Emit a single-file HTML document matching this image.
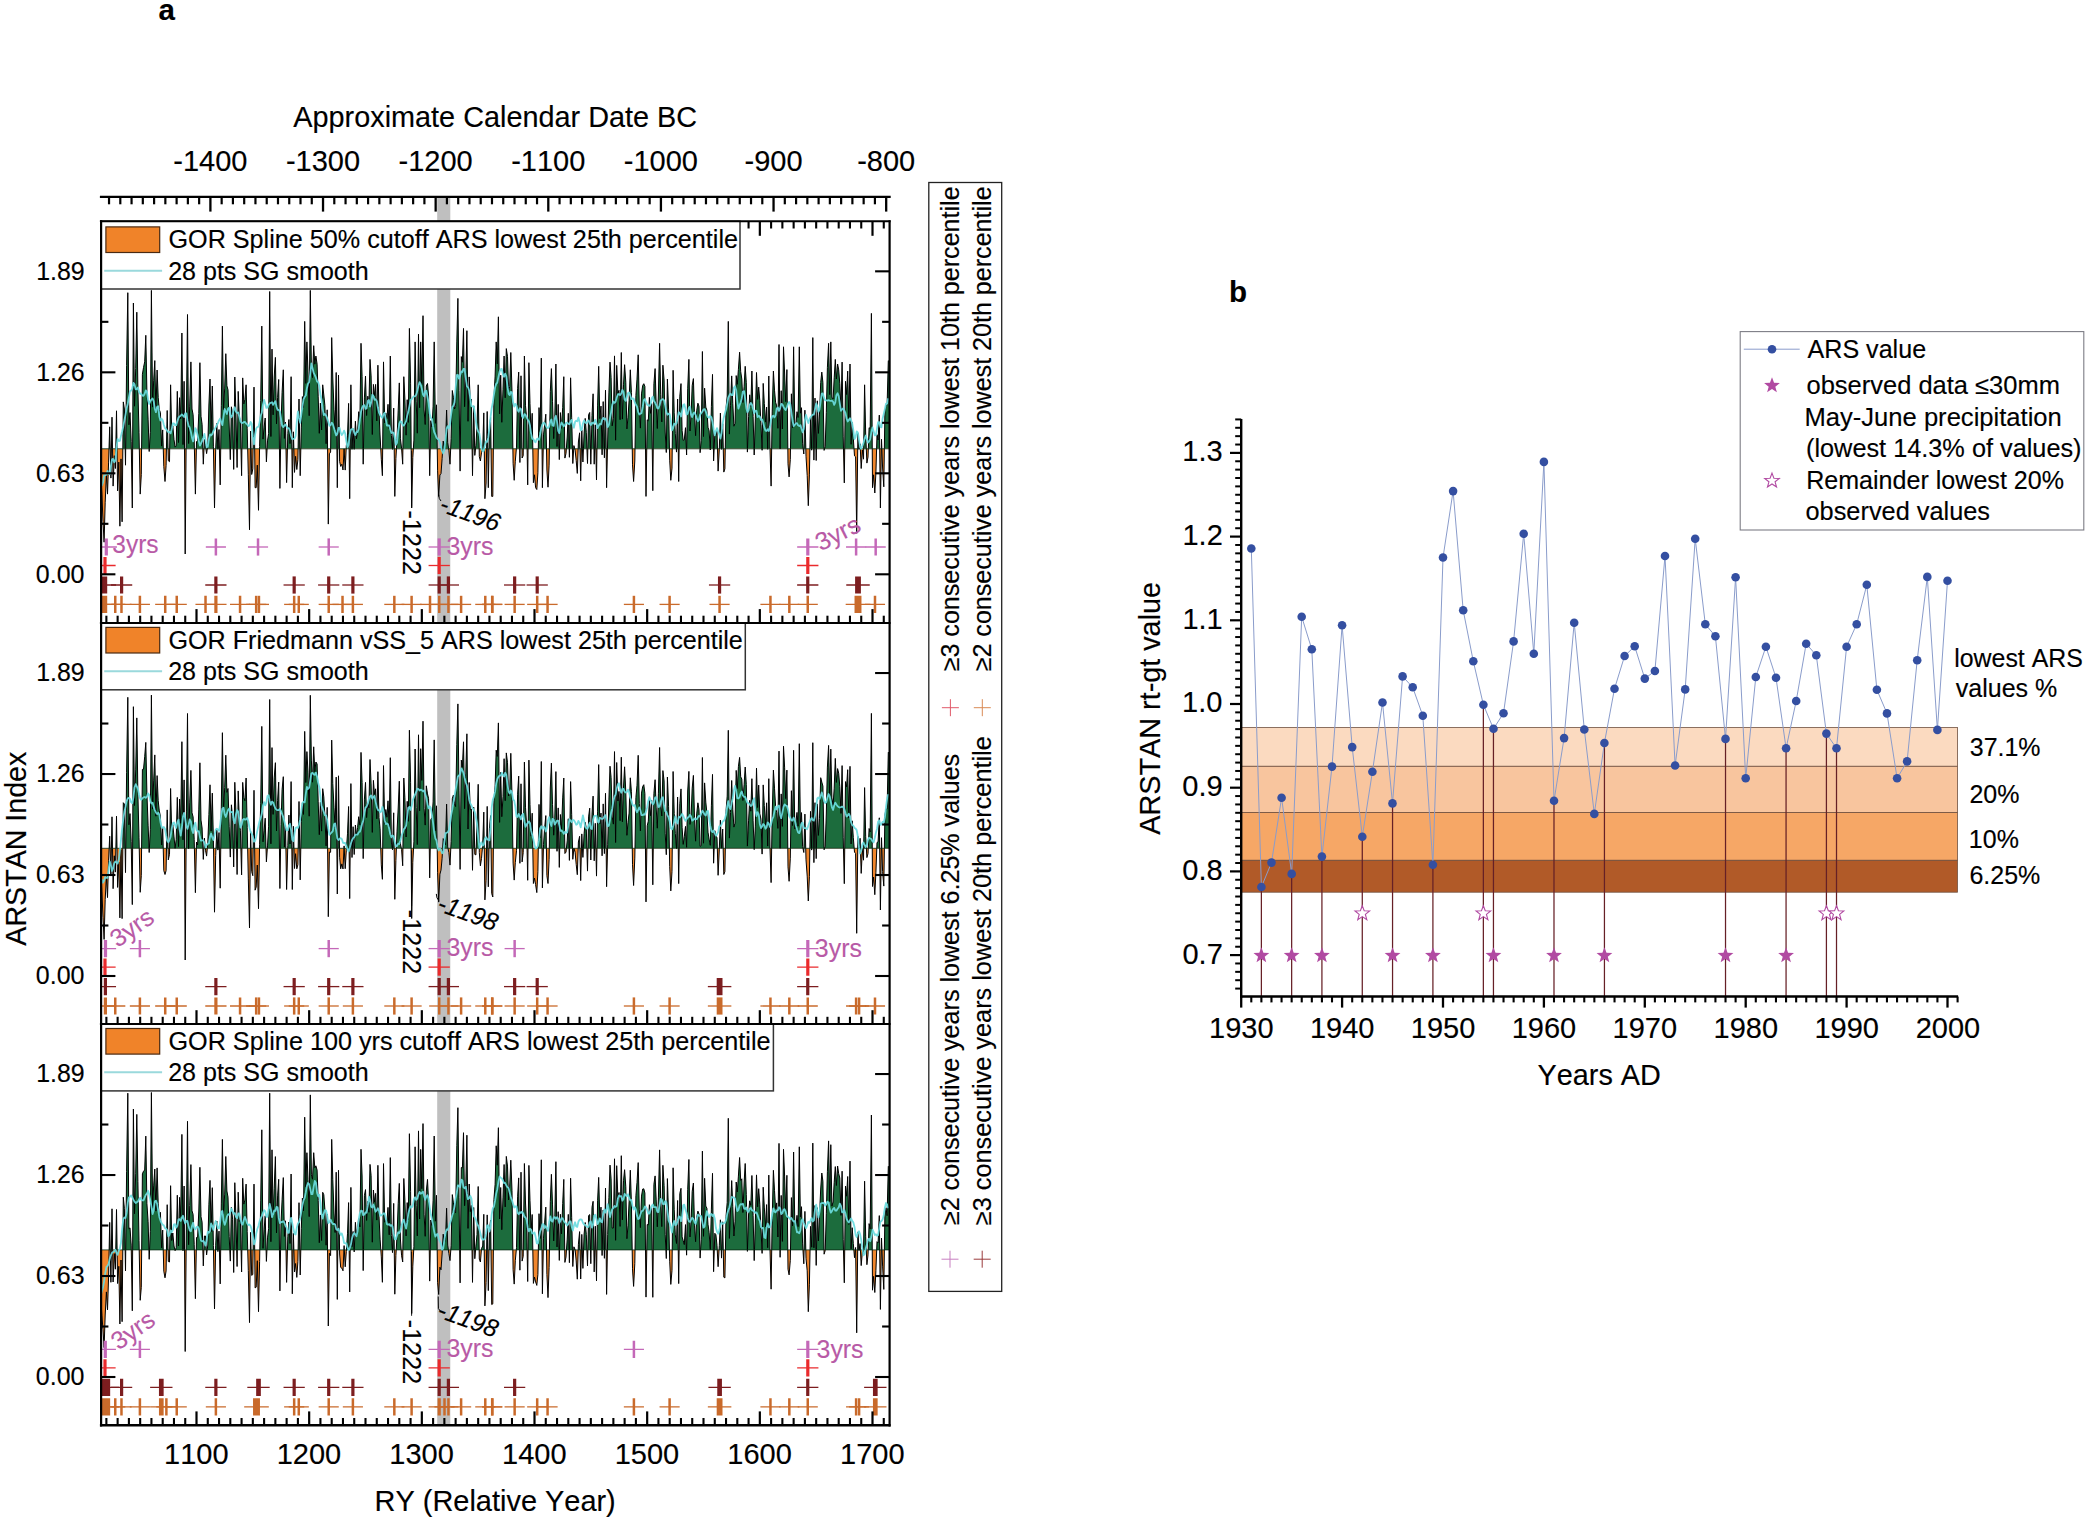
<!DOCTYPE html>
<html lang="en"><head><meta charset="utf-8"><title>ARSTAN index figure</title>
<style>html,body{margin:0;padding:0;background:#fff}svg{display:block}text{white-space:pre;font-kerning:none}</style>
</head><body>
<svg width="2086" height="1520" viewBox="0 0 2086 1520" font-family='"Liberation Sans", Arial, sans-serif'>
<rect x="0" y="0" width="2086" height="1520" fill="#fff"/>
<rect x="437.20" y="197.50" width="13.10" height="1227.60" fill="#bfbfbf"/>
<defs>
<clipPath id="cp0"><rect x="100.9" y="221.2" width="788.7" height="401.7"/></clipPath>
<clipPath id="up0"><rect x="100.9" y="221.2" width="788.7" height="227.60000000000002"/></clipPath>
<clipPath id="dn0"><rect x="100.9" y="448.8" width="788.7" height="174.09999999999997"/></clipPath>
<clipPath id="cp1"><rect x="100.9" y="622.9" width="788.7" height="401.1"/></clipPath>
<clipPath id="up1"><rect x="100.9" y="622.9" width="788.7" height="225.39999999999998"/></clipPath>
<clipPath id="dn1"><rect x="100.9" y="848.3" width="788.7" height="175.70000000000005"/></clipPath>
<clipPath id="cp2"><rect x="100.9" y="1024.0" width="788.7" height="401.20000000000005"/></clipPath>
<clipPath id="up2"><rect x="100.9" y="1024.0" width="788.7" height="225.9000000000001"/></clipPath>
<clipPath id="dn2"><rect x="100.9" y="1249.9" width="788.7" height="175.29999999999995"/></clipPath>
</defs>
<polygon points="100.9,448.8 100.9,474.9 100.7,474.9 101.9,494.1 103.0,521.4 104.1,542.2 105.2,502.2 106.4,474.9 107.5,494.1 108.6,462.1 109.7,426.8 110.9,478.1 112.0,417.2 113.1,486.1 114.3,455.7 115.4,468.5 116.5,410.8 117.6,490.9 118.8,462.1 119.9,526.2 121.0,458.9 122.1,521.8 123.3,401.9 124.4,409.0 125.5,465.2 126.6,365.5 127.8,292.7 128.9,424.8 130.0,412.6 131.2,441.3 132.3,508.0 133.4,303.0 134.5,406.2 135.7,368.6 136.8,312.2 137.9,389.3 139.0,432.6 140.2,494.1 141.3,474.7 142.4,374.3 143.5,367.6 144.7,361.8 145.8,335.3 146.9,391.4 148.1,419.2 149.2,451.5 150.3,432.4 151.4,290.4 152.6,407.1 153.7,380.2 154.8,360.6 155.9,412.1 157.1,370.0 158.2,397.3 159.3,409.7 160.4,412.5 161.6,446.1 162.7,429.9 163.8,466.4 165.0,481.5 166.1,465.5 167.2,410.5 168.3,460.7 169.5,461.7 170.6,384.8 171.7,431.3 172.8,425.8 174.0,439.7 175.1,447.1 176.2,446.0 177.3,391.3 178.5,442.5 179.6,397.7 180.7,418.8 181.9,333.0 183.0,444.6 184.1,381.3 185.2,554.0 186.4,414.1 187.5,314.5 188.6,443.5 189.7,406.1 190.9,361.9 192.0,409.0 193.1,414.6 194.2,440.1 195.4,494.1 196.5,441.8 197.6,440.4 198.8,413.4 199.9,362.7 201.0,416.3 202.1,424.3 203.3,464.2 204.4,439.5 205.5,445.7 206.6,453.6 207.8,445.3 208.9,405.0 210.0,379.0 211.1,432.6 212.3,386.0 213.4,446.2 214.5,508.0 215.7,449.3 216.8,423.4 217.9,449.3 219.0,429.5 220.2,484.9 221.3,405.4 222.4,326.1 223.5,409.9 224.7,388.1 225.8,353.7 226.9,385.8 228.0,389.9 229.2,426.0 230.3,459.6 231.4,406.8 232.6,414.3 233.7,469.4 234.8,377.0 235.9,411.2 237.1,467.5 238.2,391.4 239.3,416.3 240.4,422.0 241.6,475.7 242.7,377.9 243.8,403.9 244.9,399.6 246.1,384.8 247.2,428.8 248.3,474.2 249.5,529.8 250.6,431.1 251.7,474.5 252.8,468.9 254.0,387.1 255.1,487.7 256.2,487.7 257.3,465.1 258.5,510.3 259.6,446.3 260.7,400.6 261.8,326.1 263.0,439.1 264.1,427.2 265.2,418.0 266.4,461.9 267.5,440.9 268.6,433.6 269.7,291.5 270.9,436.5 272.0,349.1 273.1,414.8 274.2,377.0 275.4,357.4 276.5,423.9 277.6,397.5 278.7,379.5 279.9,488.4 281.0,423.3 282.1,392.3 283.3,369.8 284.4,438.4 285.5,422.1 286.6,482.6 287.8,433.7 288.9,419.5 290.0,443.6 291.1,376.7 292.3,487.7 293.4,431.8 294.5,472.4 295.6,456.3 296.8,469.5 297.9,459.7 299.0,399.0 300.2,475.7 301.3,427.9 302.4,396.6 303.5,407.4 304.7,321.4 305.8,383.4 306.9,341.9 308.0,371.9 309.2,415.7 310.3,290.4 311.4,368.1 312.5,377.6 313.7,345.7 314.8,364.2 315.9,356.0 317.1,364.2 318.2,396.8 319.3,433.3 320.4,403.1 321.6,430.0 322.7,384.8 323.8,395.0 324.9,405.5 326.1,443.7 327.2,409.8 328.3,524.1 329.4,453.8 330.6,452.0 331.7,337.6 332.8,378.0 334.0,409.8 335.1,430.1 336.2,372.5 337.3,487.7 338.5,375.1 339.6,461.4 340.7,466.4 341.8,464.2 343.0,470.0 344.1,448.8 345.2,470.1 346.3,445.8 347.5,435.9 348.6,403.4 349.7,498.7 350.9,384.8 352.0,449.3 353.1,428.7 354.2,449.3 355.4,421.2 356.5,438.8 357.6,430.8 358.7,411.7 359.9,419.4 361.0,343.3 362.1,376.7 363.2,464.2 364.4,397.9 365.5,376.0 366.6,415.5 367.8,396.2 368.9,405.6 370.0,359.4 371.1,375.9 372.3,434.5 373.4,384.4 374.5,395.8 375.6,384.4 376.8,420.9 377.9,365.2 379.0,411.6 380.1,436.0 381.3,459.2 382.4,475.7 383.5,361.9 384.7,422.9 385.8,413.0 386.9,418.7 388.0,404.3 389.2,428.6 390.3,356.0 391.4,435.4 392.5,449.3 393.7,408.1 394.8,496.4 395.9,458.6 397.0,438.8 398.2,410.2 399.3,382.9 400.4,438.3 401.6,448.5 402.7,464.2 403.8,376.7 404.9,399.0 406.1,435.2 407.2,399.7 408.3,422.4 409.4,328.4 410.6,383.2 411.7,508.0 412.8,457.6 413.9,440.1 415.1,341.9 416.2,401.2 417.3,433.2 418.5,334.1 419.6,407.7 420.7,341.9 421.8,384.8 423.0,315.7 424.1,410.0 425.2,424.5 426.3,386.0 427.5,383.5 428.6,396.0 429.7,475.7 430.8,420.7 432.0,427.0 433.1,406.1 434.2,341.9 435.4,423.3 436.5,404.8 437.6,470.8 438.7,496.4 439.9,475.0 441.0,473.6 442.1,458.7 443.2,441.1 444.4,446.1 445.5,442.0 446.6,410.0 447.7,442.4 448.9,450.8 450.0,464.2 451.1,438.4 452.3,390.5 453.4,397.3 454.5,409.0 455.6,406.7 456.8,341.9 457.9,298.4 459.0,390.5 460.1,471.1 461.3,356.6 462.4,362.2 463.5,328.4 464.6,406.7 465.8,376.2 466.9,330.7 468.0,421.3 469.2,376.9 470.3,401.4 471.4,399.0 472.5,475.7 473.7,405.9 474.8,455.4 475.9,445.2 477.0,426.7 478.2,384.8 479.3,456.6 480.4,461.0 481.5,452.6 482.7,448.9 483.8,412.9 484.9,498.7 486.1,483.0 487.2,411.5 488.3,487.7 489.4,429.4 490.6,417.6 491.7,496.4 492.8,496.4 493.9,398.9 495.1,376.1 496.2,341.9 497.3,363.9 498.4,316.8 499.6,413.9 500.7,375.2 501.8,422.3 503.0,389.2 504.1,356.0 505.2,397.8 506.3,348.6 507.5,356.4 508.6,390.6 509.7,386.9 510.8,352.5 512.0,391.6 513.1,463.3 514.2,480.3 515.3,461.2 516.5,447.1 517.6,388.7 518.7,372.1 519.9,462.5 521.0,375.8 522.1,458.0 523.2,455.7 524.4,356.0 525.5,405.8 526.6,417.6 527.7,484.9 528.9,362.7 530.0,403.7 531.1,435.4 532.2,413.3 533.4,482.7 534.5,474.8 535.6,487.7 536.8,489.5 537.9,472.8 539.0,407.6 540.1,431.8 541.3,358.1 542.4,487.7 543.5,434.9 544.6,425.1 545.8,414.2 546.9,470.0 548.0,487.2 549.1,465.2 550.3,391.6 551.4,368.6 552.5,401.3 553.7,438.6 554.8,416.8 555.9,364.0 557.0,446.5 558.2,404.4 559.3,459.6 560.4,412.6 561.5,428.3 562.7,407.4 563.8,376.7 564.9,458.1 566.0,453.4 567.2,437.0 568.3,413.3 569.4,457.3 570.6,377.8 571.7,417.5 572.8,463.5 573.9,445.6 575.1,450.2 576.2,460.5 577.3,473.4 578.4,442.0 579.6,432.8 580.7,480.8 581.8,430.0 582.9,462.0 584.1,433.1 585.2,418.4 586.3,432.7 587.5,463.5 588.6,414.7 589.7,412.5 590.8,464.2 592.0,415.6 593.1,393.8 594.2,464.2 595.3,424.8 596.5,480.0 597.6,405.9 598.7,366.3 599.8,418.6 601.0,406.1 602.1,454.8 603.2,401.6 604.4,457.8 605.5,390.2 606.6,487.7 607.7,439.0 608.9,392.9 610.0,362.1 611.1,377.4 612.2,425.9 613.4,418.3 614.5,355.9 615.6,440.2 616.7,365.4 617.9,393.0 619.0,390.3 620.1,419.7 621.3,352.5 622.4,419.1 623.5,384.8 624.6,364.7 625.8,382.2 626.9,428.9 628.0,417.2 629.1,400.2 630.3,369.8 631.4,392.5 632.5,464.8 633.6,481.5 634.8,461.0 635.9,395.5 637.0,379.1 638.2,354.8 639.3,406.9 640.4,428.1 641.5,393.9 642.7,385.4 643.8,383.7 644.9,386.4 646.0,496.4 647.2,419.8 648.3,420.9 649.4,397.4 650.5,413.3 651.7,403.6 652.8,490.7 653.9,383.7 655.1,368.6 656.2,404.1 657.3,428.5 658.4,394.0 659.6,343.3 660.7,394.3 661.8,421.9 662.9,365.2 664.1,380.1 665.2,432.0 666.3,452.5 667.4,379.0 668.6,409.8 669.7,460.2 670.8,480.3 672.0,468.1 673.1,370.3 674.2,412.8 675.3,433.7 676.5,452.1 677.6,399.0 678.7,481.5 679.8,396.2 681.0,383.6 682.1,430.6 683.2,440.4 684.3,439.8 685.5,427.7 686.6,455.0 687.7,388.8 688.9,359.4 690.0,431.0 691.1,414.5 692.2,385.5 693.4,378.6 694.5,414.8 695.6,435.7 696.7,410.7 697.9,403.2 699.0,406.3 700.1,452.7 701.2,440.7 702.4,351.5 703.5,436.5 704.6,388.2 705.8,407.1 706.9,410.2 708.0,427.3 709.1,430.7 710.3,450.0 711.4,406.4 712.5,374.4 713.6,460.9 714.8,434.2 715.9,435.2 717.0,431.2 718.1,471.1 719.3,449.3 720.4,413.1 721.5,449.3 722.7,423.7 723.8,472.1 724.9,468.8 726.0,408.2 727.2,396.1 728.3,321.4 729.4,434.1 730.5,405.2 731.7,375.9 732.8,403.4 733.9,426.2 735.0,423.4 736.2,375.6 737.3,384.3 738.4,369.4 739.6,352.2 740.7,371.6 741.8,379.0 742.9,402.5 744.1,386.7 745.2,366.3 746.3,382.7 747.4,452.1 748.6,416.6 749.7,394.8 750.8,406.8 751.9,371.0 753.1,416.5 754.2,455.0 755.3,418.9 756.5,372.5 757.6,399.4 758.7,387.1 759.8,400.8 761.0,424.7 762.1,450.3 763.2,383.4 764.3,403.4 765.5,422.1 766.6,407.1 767.7,449.3 768.8,376.0 770.0,449.3 771.1,486.1 772.2,411.9 773.4,371.0 774.5,390.2 775.6,402.3 776.7,405.9 777.9,428.3 779.0,344.5 780.1,449.0 781.2,390.7 782.4,429.0 783.5,346.8 784.6,373.0 785.7,401.6 786.9,369.6 788.0,463.8 789.1,476.9 790.3,459.5 791.4,393.8 792.5,427.6 793.6,346.8 794.8,425.2 795.9,424.9 797.0,411.7 798.1,417.5 799.3,346.8 800.4,413.2 801.5,407.7 802.6,443.8 803.8,454.0 804.9,410.2 806.0,456.3 807.2,475.5 808.3,505.7 809.4,474.9 810.5,418.1 811.7,450.2 812.8,337.6 813.9,460.1 815.0,398.1 816.2,460.5 817.3,400.8 818.4,433.4 819.5,414.1 820.7,382.5 821.8,372.1 822.9,382.5 824.1,450.4 825.2,446.4 826.3,412.4 827.4,367.4 828.6,343.3 829.7,394.6 830.8,341.9 831.9,397.2 833.1,399.0 834.2,377.8 835.3,359.4 836.4,379.0 837.6,364.0 838.7,369.9 839.8,383.8 841.0,410.3 842.1,362.1 843.2,436.9 844.3,482.9 845.5,381.3 846.6,394.5 847.7,371.1 848.8,418.4 850.0,364.0 851.1,444.3 852.2,422.5 853.3,438.1 854.5,455.9 855.6,456.8 856.7,533.3 857.9,433.2 859.0,449.3 860.1,443.8 861.2,468.5 862.4,450.0 863.5,459.2 864.6,384.8 865.7,434.4 866.9,463.1 868.0,457.0 869.1,427.7 870.2,428.6 871.4,313.4 872.5,487.7 873.6,474.8 874.8,493.0 875.9,473.2 877.0,434.7 878.1,440.0 879.3,415.1 880.4,508.0 881.5,439.3 882.6,468.0 883.8,486.8 884.9,411.8 886.0,405.7 887.1,405.1 888.3,360.6 889.6,360.6 889.6,448.8" fill="#1c6c3d" clip-path="url(#up0)"/>
<polygon points="100.9,448.8 100.9,474.9 100.7,474.9 101.9,494.1 103.0,521.4 104.1,542.2 105.2,502.2 106.4,474.9 107.5,494.1 108.6,462.1 109.7,426.8 110.9,478.1 112.0,417.2 113.1,486.1 114.3,455.7 115.4,468.5 116.5,410.8 117.6,490.9 118.8,462.1 119.9,526.2 121.0,458.9 122.1,521.8 123.3,401.9 124.4,409.0 125.5,465.2 126.6,365.5 127.8,292.7 128.9,424.8 130.0,412.6 131.2,441.3 132.3,508.0 133.4,303.0 134.5,406.2 135.7,368.6 136.8,312.2 137.9,389.3 139.0,432.6 140.2,494.1 141.3,474.7 142.4,374.3 143.5,367.6 144.7,361.8 145.8,335.3 146.9,391.4 148.1,419.2 149.2,451.5 150.3,432.4 151.4,290.4 152.6,407.1 153.7,380.2 154.8,360.6 155.9,412.1 157.1,370.0 158.2,397.3 159.3,409.7 160.4,412.5 161.6,446.1 162.7,429.9 163.8,466.4 165.0,481.5 166.1,465.5 167.2,410.5 168.3,460.7 169.5,461.7 170.6,384.8 171.7,431.3 172.8,425.8 174.0,439.7 175.1,447.1 176.2,446.0 177.3,391.3 178.5,442.5 179.6,397.7 180.7,418.8 181.9,333.0 183.0,444.6 184.1,381.3 185.2,554.0 186.4,414.1 187.5,314.5 188.6,443.5 189.7,406.1 190.9,361.9 192.0,409.0 193.1,414.6 194.2,440.1 195.4,494.1 196.5,441.8 197.6,440.4 198.8,413.4 199.9,362.7 201.0,416.3 202.1,424.3 203.3,464.2 204.4,439.5 205.5,445.7 206.6,453.6 207.8,445.3 208.9,405.0 210.0,379.0 211.1,432.6 212.3,386.0 213.4,446.2 214.5,508.0 215.7,449.3 216.8,423.4 217.9,449.3 219.0,429.5 220.2,484.9 221.3,405.4 222.4,326.1 223.5,409.9 224.7,388.1 225.8,353.7 226.9,385.8 228.0,389.9 229.2,426.0 230.3,459.6 231.4,406.8 232.6,414.3 233.7,469.4 234.8,377.0 235.9,411.2 237.1,467.5 238.2,391.4 239.3,416.3 240.4,422.0 241.6,475.7 242.7,377.9 243.8,403.9 244.9,399.6 246.1,384.8 247.2,428.8 248.3,474.2 249.5,529.8 250.6,431.1 251.7,474.5 252.8,468.9 254.0,387.1 255.1,487.7 256.2,487.7 257.3,465.1 258.5,510.3 259.6,446.3 260.7,400.6 261.8,326.1 263.0,439.1 264.1,427.2 265.2,418.0 266.4,461.9 267.5,440.9 268.6,433.6 269.7,291.5 270.9,436.5 272.0,349.1 273.1,414.8 274.2,377.0 275.4,357.4 276.5,423.9 277.6,397.5 278.7,379.5 279.9,488.4 281.0,423.3 282.1,392.3 283.3,369.8 284.4,438.4 285.5,422.1 286.6,482.6 287.8,433.7 288.9,419.5 290.0,443.6 291.1,376.7 292.3,487.7 293.4,431.8 294.5,472.4 295.6,456.3 296.8,469.5 297.9,459.7 299.0,399.0 300.2,475.7 301.3,427.9 302.4,396.6 303.5,407.4 304.7,321.4 305.8,383.4 306.9,341.9 308.0,371.9 309.2,415.7 310.3,290.4 311.4,368.1 312.5,377.6 313.7,345.7 314.8,364.2 315.9,356.0 317.1,364.2 318.2,396.8 319.3,433.3 320.4,403.1 321.6,430.0 322.7,384.8 323.8,395.0 324.9,405.5 326.1,443.7 327.2,409.8 328.3,524.1 329.4,453.8 330.6,452.0 331.7,337.6 332.8,378.0 334.0,409.8 335.1,430.1 336.2,372.5 337.3,487.7 338.5,375.1 339.6,461.4 340.7,466.4 341.8,464.2 343.0,470.0 344.1,448.8 345.2,470.1 346.3,445.8 347.5,435.9 348.6,403.4 349.7,498.7 350.9,384.8 352.0,449.3 353.1,428.7 354.2,449.3 355.4,421.2 356.5,438.8 357.6,430.8 358.7,411.7 359.9,419.4 361.0,343.3 362.1,376.7 363.2,464.2 364.4,397.9 365.5,376.0 366.6,415.5 367.8,396.2 368.9,405.6 370.0,359.4 371.1,375.9 372.3,434.5 373.4,384.4 374.5,395.8 375.6,384.4 376.8,420.9 377.9,365.2 379.0,411.6 380.1,436.0 381.3,459.2 382.4,475.7 383.5,361.9 384.7,422.9 385.8,413.0 386.9,418.7 388.0,404.3 389.2,428.6 390.3,356.0 391.4,435.4 392.5,449.3 393.7,408.1 394.8,496.4 395.9,458.6 397.0,438.8 398.2,410.2 399.3,382.9 400.4,438.3 401.6,448.5 402.7,464.2 403.8,376.7 404.9,399.0 406.1,435.2 407.2,399.7 408.3,422.4 409.4,328.4 410.6,383.2 411.7,508.0 412.8,457.6 413.9,440.1 415.1,341.9 416.2,401.2 417.3,433.2 418.5,334.1 419.6,407.7 420.7,341.9 421.8,384.8 423.0,315.7 424.1,410.0 425.2,424.5 426.3,386.0 427.5,383.5 428.6,396.0 429.7,475.7 430.8,420.7 432.0,427.0 433.1,406.1 434.2,341.9 435.4,423.3 436.5,404.8 437.6,470.8 438.7,496.4 439.9,475.0 441.0,473.6 442.1,458.7 443.2,441.1 444.4,446.1 445.5,442.0 446.6,410.0 447.7,442.4 448.9,450.8 450.0,464.2 451.1,438.4 452.3,390.5 453.4,397.3 454.5,409.0 455.6,406.7 456.8,341.9 457.9,298.4 459.0,390.5 460.1,471.1 461.3,356.6 462.4,362.2 463.5,328.4 464.6,406.7 465.8,376.2 466.9,330.7 468.0,421.3 469.2,376.9 470.3,401.4 471.4,399.0 472.5,475.7 473.7,405.9 474.8,455.4 475.9,445.2 477.0,426.7 478.2,384.8 479.3,456.6 480.4,461.0 481.5,452.6 482.7,448.9 483.8,412.9 484.9,498.7 486.1,483.0 487.2,411.5 488.3,487.7 489.4,429.4 490.6,417.6 491.7,496.4 492.8,496.4 493.9,398.9 495.1,376.1 496.2,341.9 497.3,363.9 498.4,316.8 499.6,413.9 500.7,375.2 501.8,422.3 503.0,389.2 504.1,356.0 505.2,397.8 506.3,348.6 507.5,356.4 508.6,390.6 509.7,386.9 510.8,352.5 512.0,391.6 513.1,463.3 514.2,480.3 515.3,461.2 516.5,447.1 517.6,388.7 518.7,372.1 519.9,462.5 521.0,375.8 522.1,458.0 523.2,455.7 524.4,356.0 525.5,405.8 526.6,417.6 527.7,484.9 528.9,362.7 530.0,403.7 531.1,435.4 532.2,413.3 533.4,482.7 534.5,474.8 535.6,487.7 536.8,489.5 537.9,472.8 539.0,407.6 540.1,431.8 541.3,358.1 542.4,487.7 543.5,434.9 544.6,425.1 545.8,414.2 546.9,470.0 548.0,487.2 549.1,465.2 550.3,391.6 551.4,368.6 552.5,401.3 553.7,438.6 554.8,416.8 555.9,364.0 557.0,446.5 558.2,404.4 559.3,459.6 560.4,412.6 561.5,428.3 562.7,407.4 563.8,376.7 564.9,458.1 566.0,453.4 567.2,437.0 568.3,413.3 569.4,457.3 570.6,377.8 571.7,417.5 572.8,463.5 573.9,445.6 575.1,450.2 576.2,460.5 577.3,473.4 578.4,442.0 579.6,432.8 580.7,480.8 581.8,430.0 582.9,462.0 584.1,433.1 585.2,418.4 586.3,432.7 587.5,463.5 588.6,414.7 589.7,412.5 590.8,464.2 592.0,415.6 593.1,393.8 594.2,464.2 595.3,424.8 596.5,480.0 597.6,405.9 598.7,366.3 599.8,418.6 601.0,406.1 602.1,454.8 603.2,401.6 604.4,457.8 605.5,390.2 606.6,487.7 607.7,439.0 608.9,392.9 610.0,362.1 611.1,377.4 612.2,425.9 613.4,418.3 614.5,355.9 615.6,440.2 616.7,365.4 617.9,393.0 619.0,390.3 620.1,419.7 621.3,352.5 622.4,419.1 623.5,384.8 624.6,364.7 625.8,382.2 626.9,428.9 628.0,417.2 629.1,400.2 630.3,369.8 631.4,392.5 632.5,464.8 633.6,481.5 634.8,461.0 635.9,395.5 637.0,379.1 638.2,354.8 639.3,406.9 640.4,428.1 641.5,393.9 642.7,385.4 643.8,383.7 644.9,386.4 646.0,496.4 647.2,419.8 648.3,420.9 649.4,397.4 650.5,413.3 651.7,403.6 652.8,490.7 653.9,383.7 655.1,368.6 656.2,404.1 657.3,428.5 658.4,394.0 659.6,343.3 660.7,394.3 661.8,421.9 662.9,365.2 664.1,380.1 665.2,432.0 666.3,452.5 667.4,379.0 668.6,409.8 669.7,460.2 670.8,480.3 672.0,468.1 673.1,370.3 674.2,412.8 675.3,433.7 676.5,452.1 677.6,399.0 678.7,481.5 679.8,396.2 681.0,383.6 682.1,430.6 683.2,440.4 684.3,439.8 685.5,427.7 686.6,455.0 687.7,388.8 688.9,359.4 690.0,431.0 691.1,414.5 692.2,385.5 693.4,378.6 694.5,414.8 695.6,435.7 696.7,410.7 697.9,403.2 699.0,406.3 700.1,452.7 701.2,440.7 702.4,351.5 703.5,436.5 704.6,388.2 705.8,407.1 706.9,410.2 708.0,427.3 709.1,430.7 710.3,450.0 711.4,406.4 712.5,374.4 713.6,460.9 714.8,434.2 715.9,435.2 717.0,431.2 718.1,471.1 719.3,449.3 720.4,413.1 721.5,449.3 722.7,423.7 723.8,472.1 724.9,468.8 726.0,408.2 727.2,396.1 728.3,321.4 729.4,434.1 730.5,405.2 731.7,375.9 732.8,403.4 733.9,426.2 735.0,423.4 736.2,375.6 737.3,384.3 738.4,369.4 739.6,352.2 740.7,371.6 741.8,379.0 742.9,402.5 744.1,386.7 745.2,366.3 746.3,382.7 747.4,452.1 748.6,416.6 749.7,394.8 750.8,406.8 751.9,371.0 753.1,416.5 754.2,455.0 755.3,418.9 756.5,372.5 757.6,399.4 758.7,387.1 759.8,400.8 761.0,424.7 762.1,450.3 763.2,383.4 764.3,403.4 765.5,422.1 766.6,407.1 767.7,449.3 768.8,376.0 770.0,449.3 771.1,486.1 772.2,411.9 773.4,371.0 774.5,390.2 775.6,402.3 776.7,405.9 777.9,428.3 779.0,344.5 780.1,449.0 781.2,390.7 782.4,429.0 783.5,346.8 784.6,373.0 785.7,401.6 786.9,369.6 788.0,463.8 789.1,476.9 790.3,459.5 791.4,393.8 792.5,427.6 793.6,346.8 794.8,425.2 795.9,424.9 797.0,411.7 798.1,417.5 799.3,346.8 800.4,413.2 801.5,407.7 802.6,443.8 803.8,454.0 804.9,410.2 806.0,456.3 807.2,475.5 808.3,505.7 809.4,474.9 810.5,418.1 811.7,450.2 812.8,337.6 813.9,460.1 815.0,398.1 816.2,460.5 817.3,400.8 818.4,433.4 819.5,414.1 820.7,382.5 821.8,372.1 822.9,382.5 824.1,450.4 825.2,446.4 826.3,412.4 827.4,367.4 828.6,343.3 829.7,394.6 830.8,341.9 831.9,397.2 833.1,399.0 834.2,377.8 835.3,359.4 836.4,379.0 837.6,364.0 838.7,369.9 839.8,383.8 841.0,410.3 842.1,362.1 843.2,436.9 844.3,482.9 845.5,381.3 846.6,394.5 847.7,371.1 848.8,418.4 850.0,364.0 851.1,444.3 852.2,422.5 853.3,438.1 854.5,455.9 855.6,456.8 856.7,533.3 857.9,433.2 859.0,449.3 860.1,443.8 861.2,468.5 862.4,450.0 863.5,459.2 864.6,384.8 865.7,434.4 866.9,463.1 868.0,457.0 869.1,427.7 870.2,428.6 871.4,313.4 872.5,487.7 873.6,474.8 874.8,493.0 875.9,473.2 877.0,434.7 878.1,440.0 879.3,415.1 880.4,508.0 881.5,439.3 882.6,468.0 883.8,486.8 884.9,411.8 886.0,405.7 887.1,405.1 888.3,360.6 889.6,360.6 889.6,448.8" fill="#f0862d" clip-path="url(#dn0)"/>
<g clip-path="url(#cp0)">
<polyline points="100.9,474.9 100.7,474.9 101.9,494.1 103.0,521.4 104.1,542.2 105.2,502.2 106.4,474.9 107.5,494.1 108.6,462.1 109.7,426.8 110.9,478.1 112.0,417.2 113.1,486.1 114.3,455.7 115.4,468.5 116.5,410.8 117.6,490.9 118.8,462.1 119.9,526.2 121.0,458.9 122.1,521.8 123.3,401.9 124.4,409.0 125.5,465.2 126.6,365.5 127.8,292.7 128.9,424.8 130.0,412.6 131.2,441.3 132.3,508.0 133.4,303.0 134.5,406.2 135.7,368.6 136.8,312.2 137.9,389.3 139.0,432.6 140.2,494.1 141.3,474.7 142.4,374.3 143.5,367.6 144.7,361.8 145.8,335.3 146.9,391.4 148.1,419.2 149.2,451.5 150.3,432.4 151.4,290.4 152.6,407.1 153.7,380.2 154.8,360.6 155.9,412.1 157.1,370.0 158.2,397.3 159.3,409.7 160.4,412.5 161.6,446.1 162.7,429.9 163.8,466.4 165.0,481.5 166.1,465.5 167.2,410.5 168.3,460.7 169.5,461.7 170.6,384.8 171.7,431.3 172.8,425.8 174.0,439.7 175.1,447.1 176.2,446.0 177.3,391.3 178.5,442.5 179.6,397.7 180.7,418.8 181.9,333.0 183.0,444.6 184.1,381.3 185.2,554.0 186.4,414.1 187.5,314.5 188.6,443.5 189.7,406.1 190.9,361.9 192.0,409.0 193.1,414.6 194.2,440.1 195.4,494.1 196.5,441.8 197.6,440.4 198.8,413.4 199.9,362.7 201.0,416.3 202.1,424.3 203.3,464.2 204.4,439.5 205.5,445.7 206.6,453.6 207.8,445.3 208.9,405.0 210.0,379.0 211.1,432.6 212.3,386.0 213.4,446.2 214.5,508.0 215.7,449.3 216.8,423.4 217.9,449.3 219.0,429.5 220.2,484.9 221.3,405.4 222.4,326.1 223.5,409.9 224.7,388.1 225.8,353.7 226.9,385.8 228.0,389.9 229.2,426.0 230.3,459.6 231.4,406.8 232.6,414.3 233.7,469.4 234.8,377.0 235.9,411.2 237.1,467.5 238.2,391.4 239.3,416.3 240.4,422.0 241.6,475.7 242.7,377.9 243.8,403.9 244.9,399.6 246.1,384.8 247.2,428.8 248.3,474.2 249.5,529.8 250.6,431.1 251.7,474.5 252.8,468.9 254.0,387.1 255.1,487.7 256.2,487.7 257.3,465.1 258.5,510.3 259.6,446.3 260.7,400.6 261.8,326.1 263.0,439.1 264.1,427.2 265.2,418.0 266.4,461.9 267.5,440.9 268.6,433.6 269.7,291.5 270.9,436.5 272.0,349.1 273.1,414.8 274.2,377.0 275.4,357.4 276.5,423.9 277.6,397.5 278.7,379.5 279.9,488.4 281.0,423.3 282.1,392.3 283.3,369.8 284.4,438.4 285.5,422.1 286.6,482.6 287.8,433.7 288.9,419.5 290.0,443.6 291.1,376.7 292.3,487.7 293.4,431.8 294.5,472.4 295.6,456.3 296.8,469.5 297.9,459.7 299.0,399.0 300.2,475.7 301.3,427.9 302.4,396.6 303.5,407.4 304.7,321.4 305.8,383.4 306.9,341.9 308.0,371.9 309.2,415.7 310.3,290.4 311.4,368.1 312.5,377.6 313.7,345.7 314.8,364.2 315.9,356.0 317.1,364.2 318.2,396.8 319.3,433.3 320.4,403.1 321.6,430.0 322.7,384.8 323.8,395.0 324.9,405.5 326.1,443.7 327.2,409.8 328.3,524.1 329.4,453.8 330.6,452.0 331.7,337.6 332.8,378.0 334.0,409.8 335.1,430.1 336.2,372.5 337.3,487.7 338.5,375.1 339.6,461.4 340.7,466.4 341.8,464.2 343.0,470.0 344.1,448.8 345.2,470.1 346.3,445.8 347.5,435.9 348.6,403.4 349.7,498.7 350.9,384.8 352.0,449.3 353.1,428.7 354.2,449.3 355.4,421.2 356.5,438.8 357.6,430.8 358.7,411.7 359.9,419.4 361.0,343.3 362.1,376.7 363.2,464.2 364.4,397.9 365.5,376.0 366.6,415.5 367.8,396.2 368.9,405.6 370.0,359.4 371.1,375.9 372.3,434.5 373.4,384.4 374.5,395.8 375.6,384.4 376.8,420.9 377.9,365.2 379.0,411.6 380.1,436.0 381.3,459.2 382.4,475.7 383.5,361.9 384.7,422.9 385.8,413.0 386.9,418.7 388.0,404.3 389.2,428.6 390.3,356.0 391.4,435.4 392.5,449.3 393.7,408.1 394.8,496.4 395.9,458.6 397.0,438.8 398.2,410.2 399.3,382.9 400.4,438.3 401.6,448.5 402.7,464.2 403.8,376.7 404.9,399.0 406.1,435.2 407.2,399.7 408.3,422.4 409.4,328.4 410.6,383.2 411.7,508.0 412.8,457.6 413.9,440.1 415.1,341.9 416.2,401.2 417.3,433.2 418.5,334.1 419.6,407.7 420.7,341.9 421.8,384.8 423.0,315.7 424.1,410.0 425.2,424.5 426.3,386.0 427.5,383.5 428.6,396.0 429.7,475.7 430.8,420.7 432.0,427.0 433.1,406.1 434.2,341.9 435.4,423.3 436.5,404.8 437.6,470.8 438.7,496.4 439.9,475.0 441.0,473.6 442.1,458.7 443.2,441.1 444.4,446.1 445.5,442.0 446.6,410.0 447.7,442.4 448.9,450.8 450.0,464.2 451.1,438.4 452.3,390.5 453.4,397.3 454.5,409.0 455.6,406.7 456.8,341.9 457.9,298.4 459.0,390.5 460.1,471.1 461.3,356.6 462.4,362.2 463.5,328.4 464.6,406.7 465.8,376.2 466.9,330.7 468.0,421.3 469.2,376.9 470.3,401.4 471.4,399.0 472.5,475.7 473.7,405.9 474.8,455.4 475.9,445.2 477.0,426.7 478.2,384.8 479.3,456.6 480.4,461.0 481.5,452.6 482.7,448.9 483.8,412.9 484.9,498.7 486.1,483.0 487.2,411.5 488.3,487.7 489.4,429.4 490.6,417.6 491.7,496.4 492.8,496.4 493.9,398.9 495.1,376.1 496.2,341.9 497.3,363.9 498.4,316.8 499.6,413.9 500.7,375.2 501.8,422.3 503.0,389.2 504.1,356.0 505.2,397.8 506.3,348.6 507.5,356.4 508.6,390.6 509.7,386.9 510.8,352.5 512.0,391.6 513.1,463.3 514.2,480.3 515.3,461.2 516.5,447.1 517.6,388.7 518.7,372.1 519.9,462.5 521.0,375.8 522.1,458.0 523.2,455.7 524.4,356.0 525.5,405.8 526.6,417.6 527.7,484.9 528.9,362.7 530.0,403.7 531.1,435.4 532.2,413.3 533.4,482.7 534.5,474.8 535.6,487.7 536.8,489.5 537.9,472.8 539.0,407.6 540.1,431.8 541.3,358.1 542.4,487.7 543.5,434.9 544.6,425.1 545.8,414.2 546.9,470.0 548.0,487.2 549.1,465.2 550.3,391.6 551.4,368.6 552.5,401.3 553.7,438.6 554.8,416.8 555.9,364.0 557.0,446.5 558.2,404.4 559.3,459.6 560.4,412.6 561.5,428.3 562.7,407.4 563.8,376.7 564.9,458.1 566.0,453.4 567.2,437.0 568.3,413.3 569.4,457.3 570.6,377.8 571.7,417.5 572.8,463.5 573.9,445.6 575.1,450.2 576.2,460.5 577.3,473.4 578.4,442.0 579.6,432.8 580.7,480.8 581.8,430.0 582.9,462.0 584.1,433.1 585.2,418.4 586.3,432.7 587.5,463.5 588.6,414.7 589.7,412.5 590.8,464.2 592.0,415.6 593.1,393.8 594.2,464.2 595.3,424.8 596.5,480.0 597.6,405.9 598.7,366.3 599.8,418.6 601.0,406.1 602.1,454.8 603.2,401.6 604.4,457.8 605.5,390.2 606.6,487.7 607.7,439.0 608.9,392.9 610.0,362.1 611.1,377.4 612.2,425.9 613.4,418.3 614.5,355.9 615.6,440.2 616.7,365.4 617.9,393.0 619.0,390.3 620.1,419.7 621.3,352.5 622.4,419.1 623.5,384.8 624.6,364.7 625.8,382.2 626.9,428.9 628.0,417.2 629.1,400.2 630.3,369.8 631.4,392.5 632.5,464.8 633.6,481.5 634.8,461.0 635.9,395.5 637.0,379.1 638.2,354.8 639.3,406.9 640.4,428.1 641.5,393.9 642.7,385.4 643.8,383.7 644.9,386.4 646.0,496.4 647.2,419.8 648.3,420.9 649.4,397.4 650.5,413.3 651.7,403.6 652.8,490.7 653.9,383.7 655.1,368.6 656.2,404.1 657.3,428.5 658.4,394.0 659.6,343.3 660.7,394.3 661.8,421.9 662.9,365.2 664.1,380.1 665.2,432.0 666.3,452.5 667.4,379.0 668.6,409.8 669.7,460.2 670.8,480.3 672.0,468.1 673.1,370.3 674.2,412.8 675.3,433.7 676.5,452.1 677.6,399.0 678.7,481.5 679.8,396.2 681.0,383.6 682.1,430.6 683.2,440.4 684.3,439.8 685.5,427.7 686.6,455.0 687.7,388.8 688.9,359.4 690.0,431.0 691.1,414.5 692.2,385.5 693.4,378.6 694.5,414.8 695.6,435.7 696.7,410.7 697.9,403.2 699.0,406.3 700.1,452.7 701.2,440.7 702.4,351.5 703.5,436.5 704.6,388.2 705.8,407.1 706.9,410.2 708.0,427.3 709.1,430.7 710.3,450.0 711.4,406.4 712.5,374.4 713.6,460.9 714.8,434.2 715.9,435.2 717.0,431.2 718.1,471.1 719.3,449.3 720.4,413.1 721.5,449.3 722.7,423.7 723.8,472.1 724.9,468.8 726.0,408.2 727.2,396.1 728.3,321.4 729.4,434.1 730.5,405.2 731.7,375.9 732.8,403.4 733.9,426.2 735.0,423.4 736.2,375.6 737.3,384.3 738.4,369.4 739.6,352.2 740.7,371.6 741.8,379.0 742.9,402.5 744.1,386.7 745.2,366.3 746.3,382.7 747.4,452.1 748.6,416.6 749.7,394.8 750.8,406.8 751.9,371.0 753.1,416.5 754.2,455.0 755.3,418.9 756.5,372.5 757.6,399.4 758.7,387.1 759.8,400.8 761.0,424.7 762.1,450.3 763.2,383.4 764.3,403.4 765.5,422.1 766.6,407.1 767.7,449.3 768.8,376.0 770.0,449.3 771.1,486.1 772.2,411.9 773.4,371.0 774.5,390.2 775.6,402.3 776.7,405.9 777.9,428.3 779.0,344.5 780.1,449.0 781.2,390.7 782.4,429.0 783.5,346.8 784.6,373.0 785.7,401.6 786.9,369.6 788.0,463.8 789.1,476.9 790.3,459.5 791.4,393.8 792.5,427.6 793.6,346.8 794.8,425.2 795.9,424.9 797.0,411.7 798.1,417.5 799.3,346.8 800.4,413.2 801.5,407.7 802.6,443.8 803.8,454.0 804.9,410.2 806.0,456.3 807.2,475.5 808.3,505.7 809.4,474.9 810.5,418.1 811.7,450.2 812.8,337.6 813.9,460.1 815.0,398.1 816.2,460.5 817.3,400.8 818.4,433.4 819.5,414.1 820.7,382.5 821.8,372.1 822.9,382.5 824.1,450.4 825.2,446.4 826.3,412.4 827.4,367.4 828.6,343.3 829.7,394.6 830.8,341.9 831.9,397.2 833.1,399.0 834.2,377.8 835.3,359.4 836.4,379.0 837.6,364.0 838.7,369.9 839.8,383.8 841.0,410.3 842.1,362.1 843.2,436.9 844.3,482.9 845.5,381.3 846.6,394.5 847.7,371.1 848.8,418.4 850.0,364.0 851.1,444.3 852.2,422.5 853.3,438.1 854.5,455.9 855.6,456.8 856.7,533.3 857.9,433.2 859.0,449.3 860.1,443.8 861.2,468.5 862.4,450.0 863.5,459.2 864.6,384.8 865.7,434.4 866.9,463.1 868.0,457.0 869.1,427.7 870.2,428.6 871.4,313.4 872.5,487.7 873.6,474.8 874.8,493.0 875.9,473.2 877.0,434.7 878.1,440.0 879.3,415.1 880.4,508.0 881.5,439.3 882.6,468.0 883.8,486.8 884.9,411.8 886.0,405.7 887.1,405.1 888.3,360.6" fill="none" stroke="#000" stroke-width="1.0" stroke-linejoin="bevel"/>
<line x1="100.90" y1="448.80" x2="889.60" y2="448.80" stroke="#0a2a14" stroke-width="0.8"/>
<polyline points="100.7,486.7 101.9,485.4 103.0,482.4 104.1,475.1 105.2,475.3 106.4,474.6 107.5,470.9 108.6,474.2 109.7,474.3 110.9,466.1 112.0,459.4 113.1,458.9 114.3,462.4 115.4,460.3 116.5,447.3 117.6,439.0 118.8,441.1 119.9,440.9 121.0,435.9 122.1,431.5 123.3,426.2 124.4,420.4 125.5,414.6 126.6,408.3 127.8,403.7 128.9,397.4 130.0,391.2 131.2,390.7 132.3,388.3 133.4,382.9 134.5,384.1 135.7,389.4 136.8,389.1 137.9,387.5 139.0,391.7 140.2,393.8 141.3,394.0 142.4,395.6 143.5,395.9 144.7,393.7 145.8,390.4 146.9,391.8 148.1,399.9 149.2,404.0 150.3,401.2 151.4,399.6 152.6,398.5 153.7,401.3 154.8,408.7 155.9,412.2 157.1,406.9 158.2,406.2 159.3,416.5 160.4,420.6 161.6,418.7 162.7,420.3 163.8,424.8 165.0,428.1 166.1,429.1 167.2,430.9 168.3,432.1 169.5,431.9 170.6,433.4 171.7,429.6 172.8,423.4 174.0,423.3 175.1,425.4 176.2,425.2 177.3,421.3 178.5,417.7 179.6,416.4 180.7,415.7 181.9,414.4 183.0,415.6 184.1,417.0 185.2,413.5 186.4,413.3 187.5,421.0 188.6,425.9 189.7,427.4 190.9,432.0 192.0,437.7 193.1,441.4 194.2,435.1 195.4,428.2 196.5,430.7 197.6,435.0 198.8,441.0 199.9,445.6 201.0,443.3 202.1,440.9 203.3,437.6 204.4,433.9 205.5,439.7 206.6,447.1 207.8,446.9 208.9,439.1 210.0,434.6 211.1,435.4 212.3,434.1 213.4,431.1 214.5,429.4 215.7,427.3 216.8,425.0 217.9,423.2 219.0,420.4 220.2,418.5 221.3,422.5 222.4,425.1 223.5,416.8 224.7,409.0 225.8,411.5 226.9,414.0 228.0,408.7 229.2,407.6 230.3,414.8 231.4,417.3 232.6,414.8 233.7,409.7 234.8,407.2 235.9,411.6 237.1,412.8 238.2,412.5 239.3,416.4 240.4,421.0 241.6,423.0 242.7,422.9 243.8,422.1 244.9,421.9 246.1,423.5 247.2,424.4 248.3,426.1 249.5,425.4 250.6,421.9 251.7,423.9 252.8,436.9 254.0,444.3 255.1,434.5 256.2,428.5 257.3,427.0 258.5,426.7 259.6,422.1 260.7,415.8 261.8,412.7 263.0,404.4 264.1,399.8 265.2,403.7 266.4,407.9 267.5,407.7 268.6,405.0 269.7,403.4 270.9,402.7 272.0,402.2 273.1,404.8 274.2,403.0 275.4,401.3 276.5,406.7 277.6,409.9 278.7,409.9 279.9,411.5 281.0,418.5 282.1,425.7 283.3,427.1 284.4,425.4 285.5,424.5 286.6,426.7 287.8,428.2 288.9,428.2 290.0,430.9 291.1,436.0 292.3,439.1 293.4,438.8 294.5,438.5 295.6,435.8 296.8,422.0 297.9,411.4 299.0,418.0 300.2,422.8 301.3,415.1 302.4,407.0 303.5,399.3 304.7,396.8 305.8,395.5 306.9,388.2 308.0,383.7 309.2,381.9 310.3,373.4 311.4,363.5 312.5,367.9 313.7,372.9 314.8,375.1 315.9,377.7 317.1,381.5 318.2,382.3 319.3,386.2 320.4,394.2 321.6,399.8 322.7,409.1 323.8,415.1 324.9,414.0 326.1,415.6 327.2,418.4 328.3,421.7 329.4,425.8 330.6,425.1 331.7,422.7 332.8,424.0 334.0,428.0 335.1,431.9 336.2,435.4 337.3,433.7 338.5,427.8 339.6,427.9 340.7,432.7 341.8,435.0 343.0,433.2 344.1,430.6 345.2,433.5 346.3,441.1 347.5,447.3 348.6,444.8 349.7,434.5 350.9,429.6 352.0,429.1 353.1,428.9 354.2,432.6 355.4,435.0 356.5,432.0 357.6,432.0 358.7,428.9 359.9,419.4 361.0,411.7 362.1,407.8 363.2,405.8 364.4,405.1 365.5,408.8 366.6,408.4 367.8,401.0 368.9,400.0 370.0,406.5 371.1,402.7 372.3,394.7 373.4,395.9 374.5,399.8 375.6,399.2 376.8,401.2 377.9,407.3 379.0,412.5 380.1,414.9 381.3,416.7 382.4,417.9 383.5,414.3 384.7,412.8 385.8,419.7 386.9,425.7 388.0,425.5 389.2,425.5 390.3,429.5 391.4,433.0 392.5,432.5 393.7,432.6 394.8,437.7 395.9,444.8 397.0,442.9 398.2,431.2 399.3,423.7 400.4,421.1 401.6,422.0 402.7,425.3 403.8,425.6 404.9,423.6 406.1,421.2 407.2,415.7 408.3,411.8 409.4,406.1 410.6,399.6 411.7,399.3 412.8,397.4 413.9,396.4 415.1,396.3 416.2,394.8 417.3,391.0 418.5,385.5 419.6,382.1 420.7,384.2 421.8,388.6 423.0,394.6 424.1,396.4 425.2,391.2 426.3,390.8 427.5,396.8 428.6,403.2 429.7,413.6 430.8,417.9 432.0,419.1 433.1,426.5 434.2,432.0 435.4,434.6 436.5,437.7 437.6,439.0 438.7,439.5 439.9,442.6 441.0,447.1 442.1,451.0 443.2,453.5 444.4,449.6 445.5,439.3 446.6,428.7 447.7,426.1 448.9,428.5 450.0,424.6 451.1,414.9 452.3,406.8 453.4,405.8 454.5,402.4 455.6,388.4 456.8,375.2 457.9,374.9 459.0,378.7 460.1,375.5 461.3,371.4 462.4,372.1 463.5,368.8 464.6,369.0 465.8,377.9 466.9,386.1 468.0,387.3 469.2,390.5 470.3,398.4 471.4,406.2 472.5,406.6 473.7,406.2 474.8,412.8 475.9,421.0 477.0,428.3 478.2,431.6 479.3,433.2 480.4,440.1 481.5,448.6 482.7,451.4 483.8,450.7 484.9,445.4 486.1,441.3 487.2,441.9 488.3,437.4 489.4,428.4 490.6,416.6 491.7,408.2 492.8,402.7 493.9,394.8 495.1,387.2 496.2,383.9 497.3,382.6 498.4,377.1 499.6,371.5 500.7,369.1 501.8,369.0 503.0,374.7 504.1,376.8 505.2,373.6 506.3,376.3 507.5,386.5 508.6,393.9 509.7,395.1 510.8,391.8 512.0,392.7 513.1,402.6 514.2,406.6 515.3,403.9 516.5,405.4 517.6,410.3 518.7,411.8 519.9,408.2 521.0,409.0 522.1,416.5 523.2,417.9 524.4,414.1 525.5,414.7 526.6,417.4 527.7,419.5 528.9,421.2 530.0,425.4 531.1,433.8 532.2,438.6 533.4,439.3 534.5,441.3 535.6,442.3 536.8,439.1 537.9,438.6 539.0,439.8 540.1,434.5 541.3,427.7 542.4,424.4 543.5,422.7 544.6,423.1 545.8,425.6 546.9,427.5 548.0,428.1 549.1,426.6 550.3,421.2 551.4,419.5 552.5,425.5 553.7,425.9 554.8,418.4 555.9,415.8 557.0,421.4 558.2,430.8 559.3,433.1 560.4,426.1 561.5,422.4 562.7,424.2 563.8,426.2 564.9,425.1 566.0,422.8 567.2,422.5 568.3,423.9 569.4,424.2 570.6,421.3 571.7,419.7 572.8,425.0 573.9,427.7 575.1,421.9 576.2,420.7 577.3,421.3 578.4,417.7 579.6,421.9 580.7,430.4 581.8,429.9 582.9,423.6 584.1,420.5 585.2,422.5 586.3,423.3 587.5,421.4 588.6,420.4 589.7,423.5 590.8,425.0 592.0,422.8 593.1,423.6 594.2,422.4 595.3,419.8 596.5,423.4 597.6,428.2 598.7,425.7 599.8,423.9 601.0,424.4 602.1,419.9 603.2,417.9 604.4,419.4 605.5,418.5 606.6,421.4 607.7,427.2 608.9,424.8 610.0,418.3 611.1,412.3 612.2,405.1 613.4,401.5 614.5,402.9 615.6,401.9 616.7,397.5 617.9,394.5 619.0,394.0 620.1,395.1 621.3,393.4 622.4,389.8 623.5,391.9 624.6,399.4 625.8,400.9 626.9,396.8 628.0,393.1 629.1,392.5 630.3,395.6 631.4,399.2 632.5,398.3 633.6,398.6 634.8,402.4 635.9,404.8 637.0,406.8 638.2,412.0 639.3,414.5 640.4,413.6 641.5,413.1 642.7,407.0 643.8,400.2 644.9,399.0 646.0,401.9 647.2,404.7 648.3,405.3 649.4,405.9 650.5,404.6 651.7,398.5 652.8,396.6 653.9,400.9 655.1,402.6 656.2,405.0 657.3,408.1 658.4,408.5 659.6,405.2 660.7,400.5 661.8,399.8 662.9,399.1 664.1,400.4 665.2,405.6 666.3,411.9 667.4,414.7 668.6,413.7 669.7,414.1 670.8,420.7 672.0,430.3 673.1,428.0 674.2,423.6 675.3,424.6 676.5,423.4 677.6,418.0 678.7,412.2 679.8,413.4 681.0,416.5 682.1,410.9 683.2,404.9 684.3,404.2 685.5,408.8 686.6,414.6 687.7,413.5 688.9,407.8 690.0,406.6 691.1,414.3 692.2,417.1 693.4,413.2 694.5,412.4 695.6,414.8 696.7,418.1 697.9,421.2 699.0,419.8 700.1,414.8 701.2,413.1 702.4,411.5 703.5,409.4 704.6,409.1 705.8,411.5 706.9,415.0 708.0,417.3 709.1,417.8 710.3,416.0 711.4,417.3 712.5,421.7 713.6,429.2 714.8,435.4 715.9,431.0 717.0,428.1 718.1,431.4 719.3,434.4 720.4,438.6 721.5,433.3 722.7,423.4 723.8,417.4 724.9,413.5 726.0,409.5 727.2,403.5 728.3,397.6 729.4,395.3 730.5,393.6 731.7,395.2 732.8,395.1 733.9,387.7 735.0,386.3 736.2,390.3 737.3,401.3 738.4,408.6 739.6,405.2 740.7,402.2 741.8,398.2 742.9,391.5 744.1,391.1 745.2,399.1 746.3,408.0 747.4,412.4 748.6,410.4 749.7,405.0 750.8,402.9 751.9,404.6 753.1,409.0 754.2,413.4 755.3,410.6 756.5,410.9 757.6,417.0 758.7,415.9 759.8,416.5 761.0,420.0 762.1,419.4 763.2,422.5 764.3,427.4 765.5,430.6 766.6,431.0 767.7,429.3 768.8,431.0 770.0,426.6 771.1,419.4 772.2,416.4 773.4,415.7 774.5,417.4 775.6,415.3 776.7,408.6 777.9,407.4 779.0,410.9 780.1,408.4 781.2,403.9 782.4,404.4 783.5,406.9 784.6,408.9 785.7,410.0 786.9,407.1 788.0,403.7 789.1,402.0 790.3,404.4 791.4,411.7 792.5,420.5 793.6,426.2 794.8,425.1 795.9,423.4 797.0,423.2 798.1,425.3 799.3,426.1 800.4,425.1 801.5,428.8 802.6,432.3 803.8,429.0 804.9,419.9 806.0,414.9 807.2,419.5 808.3,423.1 809.4,419.5 810.5,417.2 811.7,415.7 812.8,414.6 813.9,414.7 815.0,409.1 816.2,403.4 817.3,406.0 818.4,411.9 819.5,409.7 820.7,401.0 821.8,393.7 822.9,393.4 824.1,398.1 825.2,400.3 826.3,400.4 827.4,400.7 828.6,400.2 829.7,400.6 830.8,400.9 831.9,400.6 833.1,401.7 834.2,404.9 835.3,402.4 836.4,395.2 837.6,393.3 838.7,396.1 839.8,403.5 841.0,410.8 842.1,409.4 843.2,408.3 844.3,410.3 845.5,413.1 846.6,418.5 847.7,421.5 848.8,420.2 850.0,418.3 851.1,420.2 852.2,423.5 853.3,430.0 854.5,439.2 855.6,437.1 856.7,431.3 857.9,432.7 859.0,439.8 860.1,447.2 861.2,448.9 862.4,445.9 863.5,442.7 864.6,438.7 865.7,435.7 866.9,439.2 868.0,442.7 869.1,441.4 870.2,439.0 871.4,432.1 872.5,427.5 873.6,431.3 874.8,435.4 875.9,435.1 877.0,428.7 878.1,422.2 879.3,422.2 880.4,427.0 881.5,427.3 882.6,418.8 883.8,413.6 884.9,408.9 886.0,403.7 887.1,403.7 888.3,398.3" fill="none" stroke="#6adcdf" stroke-width="1.8" stroke-linejoin="round" opacity="0.93"/>
</g>
<polygon points="100.9,848.3 100.9,864.8 100.7,864.8 101.9,891.8 103.0,917.4 104.1,939.4 105.2,899.5 106.4,876.6 107.5,897.6 108.6,860.4 109.7,836.2 110.9,875.6 112.0,816.8 113.1,888.7 114.3,855.8 115.4,872.1 116.5,816.2 117.6,887.4 118.8,862.1 119.9,917.9 121.0,849.5 122.1,918.6 123.3,802.7 124.4,804.1 125.5,872.6 126.6,772.7 127.8,697.3 128.9,824.8 130.0,813.6 131.2,841.7 132.3,904.6 133.4,706.7 134.5,805.5 135.7,769.9 136.8,717.9 137.9,794.4 139.0,837.7 140.2,892.3 141.3,875.7 142.4,769.4 143.5,769.3 144.7,756.7 145.8,742.4 146.9,792.8 148.1,825.2 149.2,852.5 150.3,829.7 151.4,695.1 152.6,809.1 153.7,780.1 154.8,754.9 155.9,816.2 157.1,775.6 158.2,800.7 159.3,810.9 160.4,816.1 161.6,845.0 162.7,827.2 163.8,870.6 165.0,874.5 166.1,870.6 167.2,809.9 168.3,859.9 169.5,854.3 170.6,788.5 171.7,831.7 172.8,824.6 174.0,836.9 175.1,848.3 176.2,839.4 177.3,797.4 178.5,846.5 179.6,799.0 180.7,823.3 181.9,741.7 183.0,839.8 184.1,779.9 185.2,960.0 186.4,811.9 187.5,713.5 188.6,848.7 189.7,802.9 190.9,770.4 192.0,812.8 193.1,816.9 194.2,839.3 195.4,892.7 196.5,842.0 197.6,845.0 198.8,809.1 199.9,762.8 201.0,820.1 202.1,828.0 203.3,859.4 204.4,838.1 205.5,850.3 206.6,856.1 207.8,842.4 208.9,814.6 210.0,784.8 211.1,831.1 212.3,793.1 213.4,840.9 214.5,912.2 215.7,855.7 216.8,830.1 217.9,850.1 219.0,832.5 220.2,888.2 221.3,806.9 222.4,732.7 223.5,810.7 224.7,787.7 225.8,755.2 226.9,792.3 228.0,788.5 229.2,826.8 230.3,857.1 231.4,804.8 232.6,817.5 233.7,866.9 234.8,782.3 235.9,810.7 237.1,874.5 238.2,790.9 239.3,817.8 240.4,830.2 241.6,874.9 242.7,782.4 243.8,797.5 244.9,800.8 246.1,778.0 247.2,827.3 248.3,878.1 249.5,928.0 250.6,831.5 251.7,871.6 252.8,875.7 254.0,790.3 255.1,890.2 256.2,887.0 257.3,865.0 258.5,908.7 259.6,844.7 260.7,803.2 261.8,726.4 263.0,841.8 264.1,830.3 265.2,818.2 266.4,861.9 267.5,845.9 268.6,826.2 269.7,699.5 270.9,843.8 272.0,747.6 273.1,814.4 274.2,777.9 275.4,762.7 276.5,830.9 277.6,800.4 278.7,782.1 279.9,888.5 281.0,824.4 282.1,789.5 283.3,776.7 284.4,847.1 285.5,825.2 286.6,889.5 287.8,845.7 288.9,815.1 290.0,844.0 291.1,781.6 292.3,889.5 293.4,826.3 294.5,868.5 295.6,853.7 296.8,868.8 297.9,864.7 299.0,801.5 300.2,879.9 301.3,821.4 302.4,802.8 303.5,814.4 304.7,731.4 305.8,782.5 306.9,751.6 308.0,772.1 309.2,816.2 310.3,695.3 311.4,760.9 312.5,782.2 313.7,746.8 314.8,771.8 315.9,762.0 317.1,764.0 318.2,801.8 319.3,834.7 320.4,802.3 321.6,831.1 322.7,788.7 323.8,796.9 324.9,815.7 326.1,845.9 327.2,807.4 328.3,916.7 329.4,852.0 330.6,852.3 331.7,740.1 332.8,783.4 334.0,807.8 335.1,828.0 336.2,777.1 337.3,894.0 338.5,775.8 339.6,857.2 340.7,868.8 341.8,863.9 343.0,869.0 344.1,845.9 345.2,868.7 346.3,850.5 347.5,833.8 348.6,806.5 349.7,898.6 350.9,783.6 352.0,857.5 353.1,826.7 354.2,854.5 355.4,825.0 356.5,835.2 357.6,827.5 358.7,816.7 359.9,825.1 361.0,752.4 362.1,782.5 363.2,858.6 364.4,799.2 365.5,782.4 366.6,817.6 367.8,803.5 368.9,807.9 370.0,759.5 371.1,783.9 372.3,832.4 373.4,780.4 374.5,794.3 375.6,788.8 376.8,818.8 377.9,771.7 379.0,817.5 380.1,828.8 381.3,864.9 382.4,879.3 383.5,765.6 384.7,824.1 385.8,809.5 386.9,817.2 388.0,800.8 389.2,827.0 390.3,757.7 391.4,842.1 392.5,849.7 393.7,812.8 394.8,899.3 395.9,860.5 397.0,831.8 398.2,808.0 399.3,781.2 400.4,843.8 401.6,849.5 402.7,865.8 403.8,778.0 404.9,797.8 406.1,837.0 407.2,801.3 408.3,821.3 409.4,730.2 410.6,782.3 411.7,918.5 412.8,862.3 413.9,841.8 415.1,749.0 416.2,807.4 417.3,844.6 418.5,734.8 419.6,810.8 420.7,748.7 421.8,780.4 423.0,721.2 424.1,808.4 425.2,825.1 426.3,785.8 427.5,793.9 428.6,798.7 429.7,877.9 430.8,819.6 432.0,817.5 433.1,801.9 434.2,739.9 435.4,830.6 436.5,805.8 437.6,872.3 438.7,902.1 439.9,874.2 441.0,870.1 442.1,858.2 443.2,838.6 444.4,841.8 445.5,844.6 446.6,804.1 447.7,846.9 448.9,852.7 450.0,865.1 451.1,841.4 452.3,798.6 453.4,795.1 454.5,803.5 455.6,806.6 456.8,744.6 457.9,703.9 459.0,790.9 460.1,869.4 461.3,760.1 462.4,767.3 463.5,741.8 464.6,808.7 465.8,773.1 466.9,733.8 468.0,829.0 469.2,782.5 470.3,809.7 471.4,809.1 472.5,870.3 473.7,807.1 474.8,854.4 475.9,854.9 477.0,826.0 478.2,784.3 479.3,852.5 480.4,865.8 481.5,858.5 482.7,844.8 483.8,812.1 484.9,899.9 486.1,880.3 487.2,806.4 488.3,886.8 489.4,828.7 490.6,815.6 491.7,893.6 492.8,897.0 493.9,800.6 495.1,785.9 496.2,750.2 497.3,756.4 498.4,722.9 499.6,822.4 500.7,772.4 501.8,816.7 503.0,796.6 504.1,758.7 505.2,800.7 506.3,752.9 507.5,762.6 508.6,796.0 509.7,791.1 510.8,753.3 512.0,794.5 513.1,863.1 514.2,880.1 515.3,862.7 516.5,850.7 517.6,794.2 518.7,776.1 519.9,863.3 521.0,783.8 522.1,861.9 523.2,852.7 524.4,762.1 525.5,807.2 526.6,824.8 527.7,880.3 528.9,760.1 530.0,804.6 531.1,836.2 532.2,813.2 533.4,883.5 534.5,878.1 535.6,884.6 536.8,892.6 537.9,871.7 539.0,804.4 540.1,837.9 541.3,761.5 542.4,887.9 543.5,844.6 544.6,828.5 545.8,815.6 546.9,875.7 548.0,883.5 549.1,859.3 550.3,788.0 551.4,763.1 552.5,804.4 553.7,835.2 554.8,817.1 555.9,771.6 557.0,851.3 558.2,807.9 559.3,867.4 560.4,814.5 561.5,829.6 562.7,797.9 563.8,778.0 564.9,853.5 566.0,852.1 567.2,840.9 568.3,818.8 569.4,860.4 570.6,781.6 571.7,814.5 572.8,859.3 573.9,848.2 575.1,852.2 576.2,864.4 577.3,874.7 578.4,842.0 579.6,836.3 580.7,880.6 581.8,833.9 582.9,857.4 584.1,833.5 585.2,822.3 586.3,828.4 587.5,871.1 588.6,816.9 589.7,808.2 590.8,860.0 592.0,814.1 593.1,796.1 594.2,860.8 595.3,823.3 596.5,876.1 597.6,811.8 598.7,764.6 599.8,823.8 601.0,813.1 602.1,855.8 603.2,803.9 604.4,853.6 605.5,793.3 606.6,886.7 607.7,844.2 608.9,799.9 610.0,766.2 611.1,777.5 612.2,817.0 613.4,824.1 614.5,751.6 615.6,842.5 616.7,762.5 617.9,801.0 619.0,791.4 620.1,820.7 621.3,757.2 622.4,821.8 623.5,787.0 624.6,766.8 625.8,792.1 626.9,835.3 628.0,822.3 629.1,813.1 630.3,777.8 631.4,791.7 632.5,864.3 633.6,885.5 634.8,858.1 635.9,797.6 637.0,785.2 638.2,755.3 639.3,803.5 640.4,830.9 641.5,793.1 642.7,786.5 643.8,784.7 644.9,793.6 646.0,901.9 647.2,825.8 648.3,821.2 649.4,799.7 650.5,815.7 651.7,800.4 652.8,884.8 653.9,793.4 655.1,779.7 656.2,807.9 657.3,828.2 658.4,793.8 659.6,747.5 660.7,804.8 661.8,816.0 662.9,770.6 664.1,781.0 665.2,833.2 666.3,854.7 667.4,777.0 668.6,806.6 669.7,866.4 670.8,890.9 672.0,871.3 673.1,771.5 674.2,813.5 675.3,833.6 676.5,848.6 677.6,797.0 678.7,883.6 679.8,803.7 681.0,788.9 682.1,827.3 683.2,844.4 684.3,836.5 685.5,826.4 686.6,847.3 687.7,791.0 688.9,771.4 690.0,824.4 691.1,816.1 692.2,788.2 693.4,775.4 694.5,817.8 695.6,841.2 696.7,813.9 697.9,802.8 699.0,809.7 700.1,846.4 701.2,845.7 702.4,757.5 703.5,843.2 704.6,782.9 705.8,802.1 706.9,813.1 708.0,832.2 709.1,839.1 710.3,845.3 711.4,805.8 712.5,774.4 713.6,863.2 714.8,830.7 715.9,836.4 717.0,837.3 718.1,875.3 719.3,849.2 720.4,820.2 721.5,848.2 722.7,829.0 723.8,874.5 724.9,871.6 726.0,811.3 727.2,796.1 728.3,730.3 729.4,838.1 730.5,812.6 731.7,780.5 732.8,809.3 733.9,827.1 735.0,823.2 736.2,770.4 737.3,788.5 738.4,766.7 739.6,757.4 740.7,776.8 741.8,779.0 742.9,800.5 744.1,784.6 745.2,767.0 746.3,784.5 747.4,846.1 748.6,820.2 749.7,800.3 750.8,811.2 751.9,778.7 753.1,820.8 754.2,849.6 755.3,826.9 756.5,768.1 757.6,807.5 758.7,785.1 759.8,813.6 761.0,819.3 762.1,854.1 763.2,784.9 764.3,805.6 765.5,825.1 766.6,802.8 767.7,846.1 768.8,778.7 770.0,848.4 771.1,882.6 772.2,814.9 773.4,770.1 774.5,788.2 775.6,806.6 776.7,812.3 777.9,828.4 779.0,751.1 780.1,848.3 781.2,793.9 782.4,826.4 783.5,746.2 784.6,767.2 785.7,798.6 786.9,770.1 788.0,866.9 789.1,881.3 790.3,858.2 791.4,790.7 792.5,825.5 793.6,750.3 794.8,828.9 795.9,821.8 797.0,812.4 798.1,826.2 799.3,743.7 800.4,823.7 801.5,812.6 802.6,846.5 803.8,852.5 804.9,814.1 806.0,859.8 807.2,876.1 808.3,901.0 809.4,876.7 810.5,811.4 811.7,850.1 812.8,742.7 813.9,862.6 815.0,802.7 816.2,858.6 817.3,803.9 818.4,835.4 819.5,818.3 820.7,777.7 821.8,782.1 822.9,786.1 824.1,849.8 825.2,846.2 826.3,814.0 827.4,767.1 828.6,745.4 829.7,797.4 830.8,749.1 831.9,797.9 833.1,805.3 834.2,788.2 835.3,758.4 836.4,782.4 837.6,768.6 838.7,773.2 839.8,786.6 841.0,813.4 842.1,765.6 843.2,837.2 844.3,883.7 845.5,781.6 846.6,786.8 847.7,769.7 848.8,818.1 850.0,766.3 851.1,843.9 852.2,820.8 853.3,837.5 854.5,852.1 855.6,853.4 856.7,933.3 857.9,836.4 859.0,848.3 860.1,838.3 861.2,873.4 862.4,849.2 863.5,860.2 864.6,787.6 865.7,836.6 866.9,857.6 868.0,853.6 869.1,828.5 870.2,832.0 871.4,713.4 872.5,886.5 873.6,877.0 874.8,894.7 875.9,872.7 877.0,842.5 878.1,841.8 879.3,817.8 880.4,910.0 881.5,837.7 882.6,871.6 883.8,886.1 884.9,815.0 886.0,809.1 887.1,808.9 888.3,752.1 889.6,752.1 889.6,848.3" fill="#1c6c3d" clip-path="url(#up1)"/>
<polygon points="100.9,848.3 100.9,864.8 100.7,864.8 101.9,891.8 103.0,917.4 104.1,939.4 105.2,899.5 106.4,876.6 107.5,897.6 108.6,860.4 109.7,836.2 110.9,875.6 112.0,816.8 113.1,888.7 114.3,855.8 115.4,872.1 116.5,816.2 117.6,887.4 118.8,862.1 119.9,917.9 121.0,849.5 122.1,918.6 123.3,802.7 124.4,804.1 125.5,872.6 126.6,772.7 127.8,697.3 128.9,824.8 130.0,813.6 131.2,841.7 132.3,904.6 133.4,706.7 134.5,805.5 135.7,769.9 136.8,717.9 137.9,794.4 139.0,837.7 140.2,892.3 141.3,875.7 142.4,769.4 143.5,769.3 144.7,756.7 145.8,742.4 146.9,792.8 148.1,825.2 149.2,852.5 150.3,829.7 151.4,695.1 152.6,809.1 153.7,780.1 154.8,754.9 155.9,816.2 157.1,775.6 158.2,800.7 159.3,810.9 160.4,816.1 161.6,845.0 162.7,827.2 163.8,870.6 165.0,874.5 166.1,870.6 167.2,809.9 168.3,859.9 169.5,854.3 170.6,788.5 171.7,831.7 172.8,824.6 174.0,836.9 175.1,848.3 176.2,839.4 177.3,797.4 178.5,846.5 179.6,799.0 180.7,823.3 181.9,741.7 183.0,839.8 184.1,779.9 185.2,960.0 186.4,811.9 187.5,713.5 188.6,848.7 189.7,802.9 190.9,770.4 192.0,812.8 193.1,816.9 194.2,839.3 195.4,892.7 196.5,842.0 197.6,845.0 198.8,809.1 199.9,762.8 201.0,820.1 202.1,828.0 203.3,859.4 204.4,838.1 205.5,850.3 206.6,856.1 207.8,842.4 208.9,814.6 210.0,784.8 211.1,831.1 212.3,793.1 213.4,840.9 214.5,912.2 215.7,855.7 216.8,830.1 217.9,850.1 219.0,832.5 220.2,888.2 221.3,806.9 222.4,732.7 223.5,810.7 224.7,787.7 225.8,755.2 226.9,792.3 228.0,788.5 229.2,826.8 230.3,857.1 231.4,804.8 232.6,817.5 233.7,866.9 234.8,782.3 235.9,810.7 237.1,874.5 238.2,790.9 239.3,817.8 240.4,830.2 241.6,874.9 242.7,782.4 243.8,797.5 244.9,800.8 246.1,778.0 247.2,827.3 248.3,878.1 249.5,928.0 250.6,831.5 251.7,871.6 252.8,875.7 254.0,790.3 255.1,890.2 256.2,887.0 257.3,865.0 258.5,908.7 259.6,844.7 260.7,803.2 261.8,726.4 263.0,841.8 264.1,830.3 265.2,818.2 266.4,861.9 267.5,845.9 268.6,826.2 269.7,699.5 270.9,843.8 272.0,747.6 273.1,814.4 274.2,777.9 275.4,762.7 276.5,830.9 277.6,800.4 278.7,782.1 279.9,888.5 281.0,824.4 282.1,789.5 283.3,776.7 284.4,847.1 285.5,825.2 286.6,889.5 287.8,845.7 288.9,815.1 290.0,844.0 291.1,781.6 292.3,889.5 293.4,826.3 294.5,868.5 295.6,853.7 296.8,868.8 297.9,864.7 299.0,801.5 300.2,879.9 301.3,821.4 302.4,802.8 303.5,814.4 304.7,731.4 305.8,782.5 306.9,751.6 308.0,772.1 309.2,816.2 310.3,695.3 311.4,760.9 312.5,782.2 313.7,746.8 314.8,771.8 315.9,762.0 317.1,764.0 318.2,801.8 319.3,834.7 320.4,802.3 321.6,831.1 322.7,788.7 323.8,796.9 324.9,815.7 326.1,845.9 327.2,807.4 328.3,916.7 329.4,852.0 330.6,852.3 331.7,740.1 332.8,783.4 334.0,807.8 335.1,828.0 336.2,777.1 337.3,894.0 338.5,775.8 339.6,857.2 340.7,868.8 341.8,863.9 343.0,869.0 344.1,845.9 345.2,868.7 346.3,850.5 347.5,833.8 348.6,806.5 349.7,898.6 350.9,783.6 352.0,857.5 353.1,826.7 354.2,854.5 355.4,825.0 356.5,835.2 357.6,827.5 358.7,816.7 359.9,825.1 361.0,752.4 362.1,782.5 363.2,858.6 364.4,799.2 365.5,782.4 366.6,817.6 367.8,803.5 368.9,807.9 370.0,759.5 371.1,783.9 372.3,832.4 373.4,780.4 374.5,794.3 375.6,788.8 376.8,818.8 377.9,771.7 379.0,817.5 380.1,828.8 381.3,864.9 382.4,879.3 383.5,765.6 384.7,824.1 385.8,809.5 386.9,817.2 388.0,800.8 389.2,827.0 390.3,757.7 391.4,842.1 392.5,849.7 393.7,812.8 394.8,899.3 395.9,860.5 397.0,831.8 398.2,808.0 399.3,781.2 400.4,843.8 401.6,849.5 402.7,865.8 403.8,778.0 404.9,797.8 406.1,837.0 407.2,801.3 408.3,821.3 409.4,730.2 410.6,782.3 411.7,918.5 412.8,862.3 413.9,841.8 415.1,749.0 416.2,807.4 417.3,844.6 418.5,734.8 419.6,810.8 420.7,748.7 421.8,780.4 423.0,721.2 424.1,808.4 425.2,825.1 426.3,785.8 427.5,793.9 428.6,798.7 429.7,877.9 430.8,819.6 432.0,817.5 433.1,801.9 434.2,739.9 435.4,830.6 436.5,805.8 437.6,872.3 438.7,902.1 439.9,874.2 441.0,870.1 442.1,858.2 443.2,838.6 444.4,841.8 445.5,844.6 446.6,804.1 447.7,846.9 448.9,852.7 450.0,865.1 451.1,841.4 452.3,798.6 453.4,795.1 454.5,803.5 455.6,806.6 456.8,744.6 457.9,703.9 459.0,790.9 460.1,869.4 461.3,760.1 462.4,767.3 463.5,741.8 464.6,808.7 465.8,773.1 466.9,733.8 468.0,829.0 469.2,782.5 470.3,809.7 471.4,809.1 472.5,870.3 473.7,807.1 474.8,854.4 475.9,854.9 477.0,826.0 478.2,784.3 479.3,852.5 480.4,865.8 481.5,858.5 482.7,844.8 483.8,812.1 484.9,899.9 486.1,880.3 487.2,806.4 488.3,886.8 489.4,828.7 490.6,815.6 491.7,893.6 492.8,897.0 493.9,800.6 495.1,785.9 496.2,750.2 497.3,756.4 498.4,722.9 499.6,822.4 500.7,772.4 501.8,816.7 503.0,796.6 504.1,758.7 505.2,800.7 506.3,752.9 507.5,762.6 508.6,796.0 509.7,791.1 510.8,753.3 512.0,794.5 513.1,863.1 514.2,880.1 515.3,862.7 516.5,850.7 517.6,794.2 518.7,776.1 519.9,863.3 521.0,783.8 522.1,861.9 523.2,852.7 524.4,762.1 525.5,807.2 526.6,824.8 527.7,880.3 528.9,760.1 530.0,804.6 531.1,836.2 532.2,813.2 533.4,883.5 534.5,878.1 535.6,884.6 536.8,892.6 537.9,871.7 539.0,804.4 540.1,837.9 541.3,761.5 542.4,887.9 543.5,844.6 544.6,828.5 545.8,815.6 546.9,875.7 548.0,883.5 549.1,859.3 550.3,788.0 551.4,763.1 552.5,804.4 553.7,835.2 554.8,817.1 555.9,771.6 557.0,851.3 558.2,807.9 559.3,867.4 560.4,814.5 561.5,829.6 562.7,797.9 563.8,778.0 564.9,853.5 566.0,852.1 567.2,840.9 568.3,818.8 569.4,860.4 570.6,781.6 571.7,814.5 572.8,859.3 573.9,848.2 575.1,852.2 576.2,864.4 577.3,874.7 578.4,842.0 579.6,836.3 580.7,880.6 581.8,833.9 582.9,857.4 584.1,833.5 585.2,822.3 586.3,828.4 587.5,871.1 588.6,816.9 589.7,808.2 590.8,860.0 592.0,814.1 593.1,796.1 594.2,860.8 595.3,823.3 596.5,876.1 597.6,811.8 598.7,764.6 599.8,823.8 601.0,813.1 602.1,855.8 603.2,803.9 604.4,853.6 605.5,793.3 606.6,886.7 607.7,844.2 608.9,799.9 610.0,766.2 611.1,777.5 612.2,817.0 613.4,824.1 614.5,751.6 615.6,842.5 616.7,762.5 617.9,801.0 619.0,791.4 620.1,820.7 621.3,757.2 622.4,821.8 623.5,787.0 624.6,766.8 625.8,792.1 626.9,835.3 628.0,822.3 629.1,813.1 630.3,777.8 631.4,791.7 632.5,864.3 633.6,885.5 634.8,858.1 635.9,797.6 637.0,785.2 638.2,755.3 639.3,803.5 640.4,830.9 641.5,793.1 642.7,786.5 643.8,784.7 644.9,793.6 646.0,901.9 647.2,825.8 648.3,821.2 649.4,799.7 650.5,815.7 651.7,800.4 652.8,884.8 653.9,793.4 655.1,779.7 656.2,807.9 657.3,828.2 658.4,793.8 659.6,747.5 660.7,804.8 661.8,816.0 662.9,770.6 664.1,781.0 665.2,833.2 666.3,854.7 667.4,777.0 668.6,806.6 669.7,866.4 670.8,890.9 672.0,871.3 673.1,771.5 674.2,813.5 675.3,833.6 676.5,848.6 677.6,797.0 678.7,883.6 679.8,803.7 681.0,788.9 682.1,827.3 683.2,844.4 684.3,836.5 685.5,826.4 686.6,847.3 687.7,791.0 688.9,771.4 690.0,824.4 691.1,816.1 692.2,788.2 693.4,775.4 694.5,817.8 695.6,841.2 696.7,813.9 697.9,802.8 699.0,809.7 700.1,846.4 701.2,845.7 702.4,757.5 703.5,843.2 704.6,782.9 705.8,802.1 706.9,813.1 708.0,832.2 709.1,839.1 710.3,845.3 711.4,805.8 712.5,774.4 713.6,863.2 714.8,830.7 715.9,836.4 717.0,837.3 718.1,875.3 719.3,849.2 720.4,820.2 721.5,848.2 722.7,829.0 723.8,874.5 724.9,871.6 726.0,811.3 727.2,796.1 728.3,730.3 729.4,838.1 730.5,812.6 731.7,780.5 732.8,809.3 733.9,827.1 735.0,823.2 736.2,770.4 737.3,788.5 738.4,766.7 739.6,757.4 740.7,776.8 741.8,779.0 742.9,800.5 744.1,784.6 745.2,767.0 746.3,784.5 747.4,846.1 748.6,820.2 749.7,800.3 750.8,811.2 751.9,778.7 753.1,820.8 754.2,849.6 755.3,826.9 756.5,768.1 757.6,807.5 758.7,785.1 759.8,813.6 761.0,819.3 762.1,854.1 763.2,784.9 764.3,805.6 765.5,825.1 766.6,802.8 767.7,846.1 768.8,778.7 770.0,848.4 771.1,882.6 772.2,814.9 773.4,770.1 774.5,788.2 775.6,806.6 776.7,812.3 777.9,828.4 779.0,751.1 780.1,848.3 781.2,793.9 782.4,826.4 783.5,746.2 784.6,767.2 785.7,798.6 786.9,770.1 788.0,866.9 789.1,881.3 790.3,858.2 791.4,790.7 792.5,825.5 793.6,750.3 794.8,828.9 795.9,821.8 797.0,812.4 798.1,826.2 799.3,743.7 800.4,823.7 801.5,812.6 802.6,846.5 803.8,852.5 804.9,814.1 806.0,859.8 807.2,876.1 808.3,901.0 809.4,876.7 810.5,811.4 811.7,850.1 812.8,742.7 813.9,862.6 815.0,802.7 816.2,858.6 817.3,803.9 818.4,835.4 819.5,818.3 820.7,777.7 821.8,782.1 822.9,786.1 824.1,849.8 825.2,846.2 826.3,814.0 827.4,767.1 828.6,745.4 829.7,797.4 830.8,749.1 831.9,797.9 833.1,805.3 834.2,788.2 835.3,758.4 836.4,782.4 837.6,768.6 838.7,773.2 839.8,786.6 841.0,813.4 842.1,765.6 843.2,837.2 844.3,883.7 845.5,781.6 846.6,786.8 847.7,769.7 848.8,818.1 850.0,766.3 851.1,843.9 852.2,820.8 853.3,837.5 854.5,852.1 855.6,853.4 856.7,933.3 857.9,836.4 859.0,848.3 860.1,838.3 861.2,873.4 862.4,849.2 863.5,860.2 864.6,787.6 865.7,836.6 866.9,857.6 868.0,853.6 869.1,828.5 870.2,832.0 871.4,713.4 872.5,886.5 873.6,877.0 874.8,894.7 875.9,872.7 877.0,842.5 878.1,841.8 879.3,817.8 880.4,910.0 881.5,837.7 882.6,871.6 883.8,886.1 884.9,815.0 886.0,809.1 887.1,808.9 888.3,752.1 889.6,752.1 889.6,848.3" fill="#f0862d" clip-path="url(#dn1)"/>
<g clip-path="url(#cp1)">
<polyline points="100.9,864.8 100.7,864.8 101.9,891.8 103.0,917.4 104.1,939.4 105.2,899.5 106.4,876.6 107.5,897.6 108.6,860.4 109.7,836.2 110.9,875.6 112.0,816.8 113.1,888.7 114.3,855.8 115.4,872.1 116.5,816.2 117.6,887.4 118.8,862.1 119.9,917.9 121.0,849.5 122.1,918.6 123.3,802.7 124.4,804.1 125.5,872.6 126.6,772.7 127.8,697.3 128.9,824.8 130.0,813.6 131.2,841.7 132.3,904.6 133.4,706.7 134.5,805.5 135.7,769.9 136.8,717.9 137.9,794.4 139.0,837.7 140.2,892.3 141.3,875.7 142.4,769.4 143.5,769.3 144.7,756.7 145.8,742.4 146.9,792.8 148.1,825.2 149.2,852.5 150.3,829.7 151.4,695.1 152.6,809.1 153.7,780.1 154.8,754.9 155.9,816.2 157.1,775.6 158.2,800.7 159.3,810.9 160.4,816.1 161.6,845.0 162.7,827.2 163.8,870.6 165.0,874.5 166.1,870.6 167.2,809.9 168.3,859.9 169.5,854.3 170.6,788.5 171.7,831.7 172.8,824.6 174.0,836.9 175.1,848.3 176.2,839.4 177.3,797.4 178.5,846.5 179.6,799.0 180.7,823.3 181.9,741.7 183.0,839.8 184.1,779.9 185.2,960.0 186.4,811.9 187.5,713.5 188.6,848.7 189.7,802.9 190.9,770.4 192.0,812.8 193.1,816.9 194.2,839.3 195.4,892.7 196.5,842.0 197.6,845.0 198.8,809.1 199.9,762.8 201.0,820.1 202.1,828.0 203.3,859.4 204.4,838.1 205.5,850.3 206.6,856.1 207.8,842.4 208.9,814.6 210.0,784.8 211.1,831.1 212.3,793.1 213.4,840.9 214.5,912.2 215.7,855.7 216.8,830.1 217.9,850.1 219.0,832.5 220.2,888.2 221.3,806.9 222.4,732.7 223.5,810.7 224.7,787.7 225.8,755.2 226.9,792.3 228.0,788.5 229.2,826.8 230.3,857.1 231.4,804.8 232.6,817.5 233.7,866.9 234.8,782.3 235.9,810.7 237.1,874.5 238.2,790.9 239.3,817.8 240.4,830.2 241.6,874.9 242.7,782.4 243.8,797.5 244.9,800.8 246.1,778.0 247.2,827.3 248.3,878.1 249.5,928.0 250.6,831.5 251.7,871.6 252.8,875.7 254.0,790.3 255.1,890.2 256.2,887.0 257.3,865.0 258.5,908.7 259.6,844.7 260.7,803.2 261.8,726.4 263.0,841.8 264.1,830.3 265.2,818.2 266.4,861.9 267.5,845.9 268.6,826.2 269.7,699.5 270.9,843.8 272.0,747.6 273.1,814.4 274.2,777.9 275.4,762.7 276.5,830.9 277.6,800.4 278.7,782.1 279.9,888.5 281.0,824.4 282.1,789.5 283.3,776.7 284.4,847.1 285.5,825.2 286.6,889.5 287.8,845.7 288.9,815.1 290.0,844.0 291.1,781.6 292.3,889.5 293.4,826.3 294.5,868.5 295.6,853.7 296.8,868.8 297.9,864.7 299.0,801.5 300.2,879.9 301.3,821.4 302.4,802.8 303.5,814.4 304.7,731.4 305.8,782.5 306.9,751.6 308.0,772.1 309.2,816.2 310.3,695.3 311.4,760.9 312.5,782.2 313.7,746.8 314.8,771.8 315.9,762.0 317.1,764.0 318.2,801.8 319.3,834.7 320.4,802.3 321.6,831.1 322.7,788.7 323.8,796.9 324.9,815.7 326.1,845.9 327.2,807.4 328.3,916.7 329.4,852.0 330.6,852.3 331.7,740.1 332.8,783.4 334.0,807.8 335.1,828.0 336.2,777.1 337.3,894.0 338.5,775.8 339.6,857.2 340.7,868.8 341.8,863.9 343.0,869.0 344.1,845.9 345.2,868.7 346.3,850.5 347.5,833.8 348.6,806.5 349.7,898.6 350.9,783.6 352.0,857.5 353.1,826.7 354.2,854.5 355.4,825.0 356.5,835.2 357.6,827.5 358.7,816.7 359.9,825.1 361.0,752.4 362.1,782.5 363.2,858.6 364.4,799.2 365.5,782.4 366.6,817.6 367.8,803.5 368.9,807.9 370.0,759.5 371.1,783.9 372.3,832.4 373.4,780.4 374.5,794.3 375.6,788.8 376.8,818.8 377.9,771.7 379.0,817.5 380.1,828.8 381.3,864.9 382.4,879.3 383.5,765.6 384.7,824.1 385.8,809.5 386.9,817.2 388.0,800.8 389.2,827.0 390.3,757.7 391.4,842.1 392.5,849.7 393.7,812.8 394.8,899.3 395.9,860.5 397.0,831.8 398.2,808.0 399.3,781.2 400.4,843.8 401.6,849.5 402.7,865.8 403.8,778.0 404.9,797.8 406.1,837.0 407.2,801.3 408.3,821.3 409.4,730.2 410.6,782.3 411.7,918.5 412.8,862.3 413.9,841.8 415.1,749.0 416.2,807.4 417.3,844.6 418.5,734.8 419.6,810.8 420.7,748.7 421.8,780.4 423.0,721.2 424.1,808.4 425.2,825.1 426.3,785.8 427.5,793.9 428.6,798.7 429.7,877.9 430.8,819.6 432.0,817.5 433.1,801.9 434.2,739.9 435.4,830.6 436.5,805.8 437.6,872.3 438.7,902.1 439.9,874.2 441.0,870.1 442.1,858.2 443.2,838.6 444.4,841.8 445.5,844.6 446.6,804.1 447.7,846.9 448.9,852.7 450.0,865.1 451.1,841.4 452.3,798.6 453.4,795.1 454.5,803.5 455.6,806.6 456.8,744.6 457.9,703.9 459.0,790.9 460.1,869.4 461.3,760.1 462.4,767.3 463.5,741.8 464.6,808.7 465.8,773.1 466.9,733.8 468.0,829.0 469.2,782.5 470.3,809.7 471.4,809.1 472.5,870.3 473.7,807.1 474.8,854.4 475.9,854.9 477.0,826.0 478.2,784.3 479.3,852.5 480.4,865.8 481.5,858.5 482.7,844.8 483.8,812.1 484.9,899.9 486.1,880.3 487.2,806.4 488.3,886.8 489.4,828.7 490.6,815.6 491.7,893.6 492.8,897.0 493.9,800.6 495.1,785.9 496.2,750.2 497.3,756.4 498.4,722.9 499.6,822.4 500.7,772.4 501.8,816.7 503.0,796.6 504.1,758.7 505.2,800.7 506.3,752.9 507.5,762.6 508.6,796.0 509.7,791.1 510.8,753.3 512.0,794.5 513.1,863.1 514.2,880.1 515.3,862.7 516.5,850.7 517.6,794.2 518.7,776.1 519.9,863.3 521.0,783.8 522.1,861.9 523.2,852.7 524.4,762.1 525.5,807.2 526.6,824.8 527.7,880.3 528.9,760.1 530.0,804.6 531.1,836.2 532.2,813.2 533.4,883.5 534.5,878.1 535.6,884.6 536.8,892.6 537.9,871.7 539.0,804.4 540.1,837.9 541.3,761.5 542.4,887.9 543.5,844.6 544.6,828.5 545.8,815.6 546.9,875.7 548.0,883.5 549.1,859.3 550.3,788.0 551.4,763.1 552.5,804.4 553.7,835.2 554.8,817.1 555.9,771.6 557.0,851.3 558.2,807.9 559.3,867.4 560.4,814.5 561.5,829.6 562.7,797.9 563.8,778.0 564.9,853.5 566.0,852.1 567.2,840.9 568.3,818.8 569.4,860.4 570.6,781.6 571.7,814.5 572.8,859.3 573.9,848.2 575.1,852.2 576.2,864.4 577.3,874.7 578.4,842.0 579.6,836.3 580.7,880.6 581.8,833.9 582.9,857.4 584.1,833.5 585.2,822.3 586.3,828.4 587.5,871.1 588.6,816.9 589.7,808.2 590.8,860.0 592.0,814.1 593.1,796.1 594.2,860.8 595.3,823.3 596.5,876.1 597.6,811.8 598.7,764.6 599.8,823.8 601.0,813.1 602.1,855.8 603.2,803.9 604.4,853.6 605.5,793.3 606.6,886.7 607.7,844.2 608.9,799.9 610.0,766.2 611.1,777.5 612.2,817.0 613.4,824.1 614.5,751.6 615.6,842.5 616.7,762.5 617.9,801.0 619.0,791.4 620.1,820.7 621.3,757.2 622.4,821.8 623.5,787.0 624.6,766.8 625.8,792.1 626.9,835.3 628.0,822.3 629.1,813.1 630.3,777.8 631.4,791.7 632.5,864.3 633.6,885.5 634.8,858.1 635.9,797.6 637.0,785.2 638.2,755.3 639.3,803.5 640.4,830.9 641.5,793.1 642.7,786.5 643.8,784.7 644.9,793.6 646.0,901.9 647.2,825.8 648.3,821.2 649.4,799.7 650.5,815.7 651.7,800.4 652.8,884.8 653.9,793.4 655.1,779.7 656.2,807.9 657.3,828.2 658.4,793.8 659.6,747.5 660.7,804.8 661.8,816.0 662.9,770.6 664.1,781.0 665.2,833.2 666.3,854.7 667.4,777.0 668.6,806.6 669.7,866.4 670.8,890.9 672.0,871.3 673.1,771.5 674.2,813.5 675.3,833.6 676.5,848.6 677.6,797.0 678.7,883.6 679.8,803.7 681.0,788.9 682.1,827.3 683.2,844.4 684.3,836.5 685.5,826.4 686.6,847.3 687.7,791.0 688.9,771.4 690.0,824.4 691.1,816.1 692.2,788.2 693.4,775.4 694.5,817.8 695.6,841.2 696.7,813.9 697.9,802.8 699.0,809.7 700.1,846.4 701.2,845.7 702.4,757.5 703.5,843.2 704.6,782.9 705.8,802.1 706.9,813.1 708.0,832.2 709.1,839.1 710.3,845.3 711.4,805.8 712.5,774.4 713.6,863.2 714.8,830.7 715.9,836.4 717.0,837.3 718.1,875.3 719.3,849.2 720.4,820.2 721.5,848.2 722.7,829.0 723.8,874.5 724.9,871.6 726.0,811.3 727.2,796.1 728.3,730.3 729.4,838.1 730.5,812.6 731.7,780.5 732.8,809.3 733.9,827.1 735.0,823.2 736.2,770.4 737.3,788.5 738.4,766.7 739.6,757.4 740.7,776.8 741.8,779.0 742.9,800.5 744.1,784.6 745.2,767.0 746.3,784.5 747.4,846.1 748.6,820.2 749.7,800.3 750.8,811.2 751.9,778.7 753.1,820.8 754.2,849.6 755.3,826.9 756.5,768.1 757.6,807.5 758.7,785.1 759.8,813.6 761.0,819.3 762.1,854.1 763.2,784.9 764.3,805.6 765.5,825.1 766.6,802.8 767.7,846.1 768.8,778.7 770.0,848.4 771.1,882.6 772.2,814.9 773.4,770.1 774.5,788.2 775.6,806.6 776.7,812.3 777.9,828.4 779.0,751.1 780.1,848.3 781.2,793.9 782.4,826.4 783.5,746.2 784.6,767.2 785.7,798.6 786.9,770.1 788.0,866.9 789.1,881.3 790.3,858.2 791.4,790.7 792.5,825.5 793.6,750.3 794.8,828.9 795.9,821.8 797.0,812.4 798.1,826.2 799.3,743.7 800.4,823.7 801.5,812.6 802.6,846.5 803.8,852.5 804.9,814.1 806.0,859.8 807.2,876.1 808.3,901.0 809.4,876.7 810.5,811.4 811.7,850.1 812.8,742.7 813.9,862.6 815.0,802.7 816.2,858.6 817.3,803.9 818.4,835.4 819.5,818.3 820.7,777.7 821.8,782.1 822.9,786.1 824.1,849.8 825.2,846.2 826.3,814.0 827.4,767.1 828.6,745.4 829.7,797.4 830.8,749.1 831.9,797.9 833.1,805.3 834.2,788.2 835.3,758.4 836.4,782.4 837.6,768.6 838.7,773.2 839.8,786.6 841.0,813.4 842.1,765.6 843.2,837.2 844.3,883.7 845.5,781.6 846.6,786.8 847.7,769.7 848.8,818.1 850.0,766.3 851.1,843.9 852.2,820.8 853.3,837.5 854.5,852.1 855.6,853.4 856.7,933.3 857.9,836.4 859.0,848.3 860.1,838.3 861.2,873.4 862.4,849.2 863.5,860.2 864.6,787.6 865.7,836.6 866.9,857.6 868.0,853.6 869.1,828.5 870.2,832.0 871.4,713.4 872.5,886.5 873.6,877.0 874.8,894.7 875.9,872.7 877.0,842.5 878.1,841.8 879.3,817.8 880.4,910.0 881.5,837.7 882.6,871.6 883.8,886.1 884.9,815.0 886.0,809.1 887.1,808.9 888.3,752.1" fill="none" stroke="#000" stroke-width="1.0" stroke-linejoin="bevel"/>
<line x1="100.90" y1="848.30" x2="889.60" y2="848.30" stroke="#0a2a14" stroke-width="0.8"/>
<polyline points="100.7,882.2 101.9,879.9 103.0,882.7 104.1,880.5 105.2,877.1 106.4,877.9 107.5,877.9 108.6,869.4 109.7,861.3 110.9,865.6 112.0,871.0 113.1,868.3 114.3,863.0 115.4,861.5 116.5,862.5 117.6,863.6 118.8,859.6 119.9,850.6 121.0,839.8 122.1,828.9 123.3,819.1 124.4,811.8 125.5,806.9 126.6,801.2 127.8,798.3 128.9,797.9 130.0,798.9 131.2,802.4 132.3,803.3 133.4,797.6 134.5,787.5 135.7,784.2 136.8,786.3 137.9,788.9 139.0,794.5 140.2,798.7 141.3,799.8 142.4,798.3 143.5,797.3 144.7,797.0 145.8,797.9 146.9,796.7 148.1,793.4 149.2,795.0 150.3,800.9 151.4,803.5 152.6,802.8 153.7,806.9 154.8,810.1 155.9,812.4 157.1,814.1 158.2,812.8 159.3,814.6 160.4,821.7 161.6,827.3 162.7,827.9 163.8,826.9 165.0,829.0 166.1,835.4 167.2,840.7 168.3,842.2 169.5,840.0 170.6,836.6 171.7,829.0 172.8,823.2 174.0,822.4 175.1,825.1 176.2,827.8 177.3,822.4 178.5,819.6 179.6,829.4 180.7,835.7 181.9,827.5 183.0,816.4 184.1,812.8 185.2,818.5 186.4,826.3 187.5,828.9 188.6,824.8 189.7,819.4 190.9,821.6 192.0,829.8 193.1,833.0 194.2,825.4 195.4,822.7 196.5,829.7 197.6,831.3 198.8,831.2 199.9,837.1 201.0,840.7 202.1,840.4 203.3,840.4 204.4,842.6 205.5,847.3 206.6,845.2 207.8,843.9 208.9,843.5 210.0,836.9 211.1,833.5 212.3,837.5 213.4,840.0 214.5,835.4 215.7,829.7 216.8,828.7 217.9,829.7 219.0,831.0 220.2,824.8 221.3,814.6 222.4,808.4 223.5,807.7 224.7,814.4 225.8,817.0 226.9,813.5 228.0,810.0 229.2,808.5 230.3,812.2 231.4,812.2 232.6,811.8 233.7,820.6 234.8,823.2 235.9,814.7 237.1,810.0 238.2,811.7 239.3,819.8 240.4,827.7 241.6,825.0 242.7,820.0 243.8,818.9 244.9,819.5 246.1,819.6 247.2,817.9 248.3,821.3 249.5,828.0 250.6,831.8 251.7,833.6 252.8,836.4 254.0,841.7 255.1,841.0 256.2,836.5 257.3,830.9 258.5,825.6 259.6,821.0 260.7,817.9 261.8,813.8 263.0,805.3 264.1,802.2 265.2,805.4 266.4,802.4 267.5,795.9 268.6,795.2 269.7,801.0 270.9,804.8 272.0,801.6 273.1,802.4 274.2,805.7 275.4,808.5 276.5,809.7 277.6,810.2 278.7,810.2 279.9,809.0 281.0,811.2 282.1,814.0 283.3,817.1 284.4,821.7 285.5,826.3 286.6,830.4 287.8,830.2 288.9,825.5 290.0,823.8 291.1,830.1 292.3,840.0 293.4,841.2 294.5,833.3 295.6,827.9 296.8,827.4 297.9,827.9 299.0,824.7 300.2,819.2 301.3,811.4 302.4,803.2 303.5,801.9 304.7,802.3 305.8,793.9 306.9,786.8 308.0,789.0 309.2,787.7 310.3,780.2 311.4,773.4 312.5,772.7 313.7,774.5 314.8,774.8 315.9,772.6 317.1,776.7 318.2,783.0 319.3,787.2 320.4,795.7 321.6,805.9 322.7,808.6 323.8,812.0 324.9,815.3 326.1,815.4 327.2,819.9 328.3,828.4 329.4,834.8 330.6,833.5 331.7,832.3 332.8,831.1 334.0,824.3 335.1,823.4 336.2,830.9 337.3,838.4 338.5,840.1 339.6,838.8 340.7,838.1 341.8,839.0 343.0,842.8 344.1,843.0 345.2,843.0 346.3,846.0 347.5,849.3 348.6,851.4 349.7,847.9 350.9,843.5 352.0,840.2 353.1,838.2 354.2,837.2 355.4,834.7 356.5,834.6 357.6,834.6 358.7,832.2 359.9,831.6 361.0,828.3 362.1,823.7 363.2,820.6 364.4,812.8 365.5,807.5 366.6,806.7 367.8,803.2 368.9,799.1 370.0,796.4 371.1,795.4 372.3,798.8 373.4,797.1 374.5,795.9 375.6,801.6 376.8,807.2 377.9,810.0 379.0,810.2 380.1,812.3 381.3,811.5 382.4,806.8 383.5,811.2 384.7,820.2 385.8,824.1 386.9,823.5 388.0,824.3 389.2,828.8 390.3,834.3 391.4,837.3 392.5,835.4 393.7,836.5 394.8,842.3 395.9,846.3 397.0,846.0 398.2,843.7 399.3,844.0 400.4,840.5 401.6,835.7 402.7,832.8 403.8,829.1 404.9,828.2 406.1,825.6 407.2,816.4 408.3,807.7 409.4,806.9 410.6,809.9 411.7,806.0 412.8,800.4 413.9,797.2 415.1,794.3 416.2,792.0 417.3,788.6 418.5,789.0 419.6,790.6 420.7,789.7 421.8,790.1 423.0,791.3 424.1,790.5 425.2,793.9 426.3,797.6 427.5,804.2 428.6,808.4 429.7,806.4 430.8,807.9 432.0,815.1 433.1,823.2 434.2,832.5 435.4,838.5 436.5,840.5 437.6,847.6 438.7,850.5 439.9,848.6 441.0,850.3 442.1,853.3 443.2,852.6 444.4,842.1 445.5,833.2 446.6,832.8 447.7,832.3 448.9,830.0 450.0,823.6 451.1,815.7 452.3,809.4 453.4,802.3 454.5,796.0 455.6,790.0 456.8,782.9 457.9,776.4 459.0,775.6 460.1,774.1 461.3,768.4 462.4,770.4 463.5,772.8 464.6,777.7 465.8,782.5 466.9,785.3 468.0,790.9 469.2,799.4 470.3,803.6 471.4,805.3 472.5,808.1 473.7,809.6 474.8,812.1 475.9,817.0 477.0,823.5 478.2,836.8 479.3,847.9 480.4,844.2 481.5,842.3 482.7,845.6 483.8,844.6 484.9,838.7 486.1,837.1 487.2,839.7 488.3,839.5 489.4,840.4 490.6,827.6 491.7,807.7 492.8,799.7 493.9,796.6 495.1,791.4 496.2,783.5 497.3,779.2 498.4,776.9 499.6,775.6 500.7,775.7 501.8,772.8 503.0,775.0 504.1,776.6 505.2,772.7 506.3,775.0 507.5,784.6 508.6,791.6 509.7,793.5 510.8,790.5 512.0,792.5 513.1,799.7 514.2,800.4 515.3,806.7 516.5,816.7 517.6,817.0 518.7,813.9 519.9,816.7 521.0,819.3 522.1,814.8 523.2,813.8 524.4,821.5 525.5,826.8 526.6,824.6 527.7,823.1 528.9,821.4 530.0,823.0 531.1,830.4 532.2,834.9 533.4,839.5 534.5,844.7 535.6,848.8 536.8,847.8 537.9,846.0 539.0,840.2 540.1,828.4 541.3,826.3 542.4,829.0 543.5,826.8 544.6,827.3 545.8,831.5 546.9,828.4 548.0,820.2 549.1,817.2 550.3,822.9 551.4,826.0 552.5,818.8 553.7,819.6 554.8,824.6 555.9,822.7 557.0,820.6 558.2,820.6 559.3,825.2 560.4,830.8 561.5,830.4 562.7,831.9 563.8,833.9 564.9,831.8 566.0,832.9 567.2,832.5 568.3,825.7 569.4,819.2 570.6,820.8 571.7,822.2 572.8,819.7 573.9,820.2 575.1,822.2 576.2,824.7 577.3,824.2 578.4,820.8 579.6,823.1 580.7,827.4 581.8,821.5 582.9,815.3 584.1,820.6 585.2,826.8 586.3,828.2 587.5,828.9 588.6,825.6 589.7,822.7 590.8,828.2 592.0,829.0 593.1,820.0 594.2,815.9 595.3,815.8 596.5,815.6 597.6,821.6 598.7,822.7 599.8,817.7 601.0,818.4 602.1,819.1 603.2,818.4 604.4,816.4 605.5,815.2 606.6,821.2 607.7,826.3 608.9,825.6 610.0,819.7 611.1,812.8 612.2,808.7 613.4,801.0 614.5,796.5 615.6,794.8 616.7,788.7 617.9,784.2 619.0,783.3 620.1,789.7 621.3,792.7 622.4,788.7 623.5,788.9 624.6,791.8 625.8,792.5 626.9,791.9 628.0,789.6 629.1,792.2 630.3,797.8 631.4,800.7 632.5,805.0 633.6,805.9 634.8,805.0 635.9,809.8 637.0,812.3 638.2,809.8 639.3,807.4 640.4,810.1 641.5,815.1 642.7,815.2 643.8,814.3 644.9,814.7 646.0,811.4 647.2,807.2 648.3,800.9 649.4,797.1 650.5,800.3 651.7,802.3 652.8,804.4 653.9,802.7 655.1,797.6 656.2,797.2 657.3,801.6 658.4,807.0 659.6,806.7 660.7,802.2 661.8,797.7 662.9,797.2 664.1,805.8 665.2,811.3 666.3,811.9 667.4,815.1 668.6,817.4 669.7,821.5 670.8,828.2 672.0,829.4 673.1,826.4 674.2,822.1 675.3,816.4 676.5,821.8 677.6,823.6 678.7,816.9 679.8,817.4 681.0,815.8 682.1,813.9 683.2,815.9 684.3,818.8 685.5,820.9 686.6,819.2 687.7,817.6 688.9,816.9 690.0,814.8 691.1,816.4 692.2,820.7 693.4,819.8 694.5,818.5 695.6,819.5 696.7,819.2 697.9,817.3 699.0,815.7 700.1,816.7 701.2,813.5 702.4,810.7 703.5,812.3 704.6,814.6 705.8,815.5 706.9,811.3 708.0,810.9 709.1,818.5 710.3,825.9 711.4,830.8 712.5,832.1 713.6,830.5 714.8,833.4 715.9,835.6 717.0,834.5 718.1,832.0 719.3,826.3 720.4,826.0 721.5,824.4 722.7,821.4 723.8,820.9 724.9,818.7 726.0,814.8 727.2,806.3 728.3,801.2 729.4,807.6 730.5,809.0 731.7,802.8 732.8,798.2 733.9,790.3 735.0,785.9 736.2,791.2 737.3,798.1 738.4,798.5 739.6,797.1 740.7,793.2 741.8,791.5 742.9,795.5 744.1,796.9 745.2,796.8 746.3,799.9 747.4,802.9 748.6,803.2 749.7,804.5 750.8,806.0 751.9,805.4 753.1,800.4 754.2,798.3 755.3,809.3 756.5,816.1 757.6,812.1 758.7,814.5 759.8,823.9 761.0,828.1 762.1,826.4 763.2,824.0 764.3,825.2 765.5,828.7 766.6,827.4 767.7,822.5 768.8,823.6 770.0,827.0 771.1,824.3 772.2,819.2 773.4,816.9 774.5,811.1 775.6,806.7 776.7,809.3 777.9,806.2 779.0,805.5 780.1,814.4 781.2,818.2 782.4,812.6 783.5,806.8 784.6,804.4 785.7,805.5 786.9,805.9 788.0,809.6 789.1,815.7 790.3,817.9 791.4,820.3 792.5,820.6 793.6,817.6 794.8,820.3 795.9,825.8 797.0,829.3 798.1,832.5 799.3,833.1 800.4,830.0 801.5,823.3 802.6,822.6 803.8,828.0 804.9,828.1 806.0,828.2 807.2,829.2 808.3,825.7 809.4,822.5 810.5,819.7 811.7,818.0 812.8,820.2 813.9,820.6 815.0,815.6 816.2,806.6 817.3,798.5 818.4,797.5 819.5,799.2 820.7,795.9 821.8,792.4 822.9,796.2 824.1,801.0 825.2,803.1 826.3,802.0 827.4,797.8 828.6,794.0 829.7,796.3 830.8,801.7 831.9,807.3 833.1,810.0 834.2,805.5 835.3,802.6 836.4,804.4 837.6,806.2 838.7,807.2 839.8,807.5 841.0,807.1 842.1,806.6 843.2,807.3 844.3,808.9 845.5,813.3 846.6,816.5 847.7,815.5 848.8,813.7 850.0,816.1 851.1,822.4 852.2,825.0 853.3,825.8 854.5,827.9 855.6,828.6 856.7,830.1 857.9,836.7 859.0,847.4 860.1,853.7 861.2,851.0 862.4,844.2 863.5,842.5 864.6,845.0 865.7,847.1 866.9,845.0 868.0,839.8 869.1,837.8 870.2,838.5 871.4,839.0 872.5,841.4 873.6,842.4 874.8,837.7 875.9,832.7 877.0,828.9 878.1,821.7 879.3,820.4 880.4,824.9 881.5,824.2 882.6,821.8 883.8,822.6 884.9,817.4 886.0,807.0 887.1,798.8 888.3,794.1" fill="none" stroke="#6adcdf" stroke-width="1.8" stroke-linejoin="round" opacity="0.93"/>
</g>
<polygon points="100.9,1249.9 100.9,1296.3 100.7,1296.3 101.9,1315.6 103.0,1329.8 104.1,1347.6 105.2,1315.0 106.4,1291.9 107.5,1309.9 108.6,1276.5 109.7,1222.4 110.9,1282.3 112.0,1208.8 113.1,1282.0 114.3,1253.6 115.4,1269.2 116.5,1209.5 117.6,1283.5 118.8,1266.3 119.9,1324.0 121.0,1260.0 122.1,1321.7 123.3,1197.2 124.4,1208.6 125.5,1271.0 126.6,1171.4 127.8,1093.2 128.9,1228.9 130.0,1227.8 131.2,1245.1 132.3,1310.8 133.4,1109.0 134.5,1213.7 135.7,1173.8 136.8,1114.4 137.9,1181.4 139.0,1240.5 140.2,1300.3 141.3,1287.3 142.4,1173.8 143.5,1171.3 144.7,1170.0 145.8,1136.1 146.9,1203.3 148.1,1221.7 149.2,1259.3 150.3,1231.4 151.4,1092.5 152.6,1207.7 153.7,1185.1 154.8,1169.0 155.9,1211.1 157.1,1167.9 158.2,1203.3 159.3,1217.2 160.4,1212.3 161.6,1247.8 162.7,1230.1 163.8,1271.2 165.0,1277.8 166.1,1270.9 167.2,1204.7 168.3,1261.5 169.5,1262.0 170.6,1185.7 171.7,1240.5 172.8,1233.0 174.0,1246.0 175.1,1250.7 176.2,1247.7 177.3,1195.2 178.5,1246.0 179.6,1197.3 180.7,1216.6 181.9,1134.4 183.0,1250.7 184.1,1186.0 185.2,1351.5 186.4,1222.6 187.5,1121.3 188.6,1244.7 189.7,1205.6 190.9,1164.6 192.0,1210.8 193.1,1214.4 194.2,1244.3 195.4,1298.7 196.5,1237.5 197.6,1237.4 198.8,1211.0 199.9,1167.3 201.0,1216.7 202.1,1222.2 203.3,1265.9 204.4,1236.0 205.5,1236.0 206.6,1254.9 207.8,1245.0 208.9,1204.2 210.0,1180.4 211.1,1231.7 212.3,1187.7 213.4,1245.5 214.5,1308.9 215.7,1245.2 216.8,1221.0 217.9,1251.6 219.0,1231.1 220.2,1283.9 221.3,1203.9 222.4,1139.4 223.5,1214.1 224.7,1194.1 225.8,1156.5 226.9,1191.0 228.0,1197.1 229.2,1236.7 230.3,1261.1 231.4,1207.2 232.6,1219.2 233.7,1272.5 234.8,1182.7 235.9,1216.4 237.1,1266.5 238.2,1192.2 239.3,1221.4 240.4,1220.2 241.6,1272.0 242.7,1178.3 243.8,1204.1 244.9,1200.1 246.1,1184.1 247.2,1231.5 248.3,1270.6 249.5,1322.6 250.6,1232.4 251.7,1275.4 252.8,1274.5 254.0,1184.1 255.1,1287.9 256.2,1287.2 257.3,1260.7 258.5,1311.7 259.6,1261.5 260.7,1200.9 261.8,1129.8 263.0,1248.4 264.1,1229.6 265.2,1215.8 266.4,1261.4 267.5,1237.9 268.6,1228.7 269.7,1093.2 270.9,1241.7 272.0,1149.8 273.1,1215.7 274.2,1188.3 275.4,1156.6 276.5,1233.0 277.6,1195.9 278.7,1179.3 279.9,1290.9 281.0,1222.6 282.1,1199.8 283.3,1177.6 284.4,1236.4 285.5,1220.8 286.6,1282.4 287.8,1236.8 288.9,1222.0 290.0,1243.5 291.1,1174.0 292.3,1293.8 293.4,1233.2 294.5,1272.0 295.6,1263.5 296.8,1277.4 297.9,1261.4 299.0,1202.7 300.2,1275.0 301.3,1228.6 302.4,1198.2 303.5,1210.8 304.7,1117.2 305.8,1187.1 306.9,1152.7 308.0,1179.2 309.2,1216.6 310.3,1094.9 311.4,1174.8 312.5,1179.2 313.7,1152.7 314.8,1167.9 315.9,1165.8 317.1,1170.1 318.2,1200.6 319.3,1242.7 320.4,1214.9 321.6,1240.5 322.7,1192.3 323.8,1194.7 324.9,1209.5 326.1,1245.2 327.2,1214.1 328.3,1326.0 329.4,1253.3 330.6,1255.6 331.7,1139.4 332.8,1179.5 334.0,1213.0 335.1,1232.5 336.2,1172.2 337.3,1299.4 338.5,1170.3 339.6,1254.0 340.7,1267.4 341.8,1268.1 343.0,1270.8 344.1,1245.6 345.2,1266.8 346.3,1251.6 347.5,1233.8 348.6,1202.6 349.7,1292.0 350.9,1187.4 352.0,1246.7 353.1,1231.5 354.2,1251.9 355.4,1222.3 356.5,1236.4 357.6,1227.6 358.7,1218.4 359.9,1226.9 361.0,1149.3 362.1,1176.0 363.2,1270.6 364.4,1195.6 365.5,1189.6 366.6,1220.4 367.8,1201.3 368.9,1212.3 370.0,1164.4 371.1,1175.4 372.3,1242.2 373.4,1190.0 374.5,1202.2 375.6,1193.4 376.8,1220.1 377.9,1165.3 379.0,1216.6 380.1,1239.2 381.3,1256.9 382.4,1282.3 383.5,1163.6 384.7,1222.2 385.8,1219.6 386.9,1222.3 388.0,1207.4 389.2,1234.8 390.3,1157.6 391.4,1235.6 392.5,1252.6 393.7,1203.4 394.8,1294.2 395.9,1255.4 397.0,1236.2 398.2,1203.6 399.3,1183.4 400.4,1239.0 401.6,1255.8 402.7,1262.0 403.8,1178.5 404.9,1200.0 406.1,1235.9 407.2,1202.6 408.3,1219.9 409.4,1133.7 410.6,1191.7 411.7,1313.5 412.8,1266.2 413.9,1246.7 415.1,1146.8 416.2,1205.8 417.3,1235.9 418.5,1130.9 419.6,1219.0 420.7,1149.4 421.8,1188.7 423.0,1123.6 424.1,1214.2 425.2,1236.3 426.3,1191.1 427.5,1179.4 428.6,1202.2 429.7,1281.1 430.8,1220.0 432.0,1225.4 433.1,1200.2 434.2,1136.0 435.4,1221.2 436.5,1195.3 437.6,1282.4 438.7,1294.5 439.9,1267.2 441.0,1269.8 442.1,1254.0 443.2,1234.2 444.4,1242.6 445.5,1239.8 446.6,1208.2 447.7,1245.1 448.9,1253.6 450.0,1260.6 451.1,1245.8 452.3,1194.6 453.4,1202.9 454.5,1211.7 455.6,1212.8 456.8,1145.7 457.9,1107.7 459.0,1197.2 460.1,1282.9 461.3,1167.5 462.4,1167.9 463.5,1132.7 464.6,1205.7 465.8,1184.9 466.9,1135.2 468.0,1228.4 469.2,1184.0 470.3,1211.6 471.4,1205.4 472.5,1282.4 473.7,1207.5 474.8,1258.7 475.9,1246.1 477.0,1234.6 478.2,1186.5 479.3,1259.1 480.4,1262.0 481.5,1248.5 482.7,1246.0 483.8,1214.3 484.9,1305.9 486.1,1282.4 487.2,1214.9 488.3,1290.6 489.4,1230.4 490.6,1220.0 491.7,1304.5 492.8,1303.9 493.9,1199.6 495.1,1184.3 496.2,1145.8 497.3,1165.2 498.4,1127.7 499.6,1219.0 500.7,1187.5 501.8,1229.7 503.0,1197.1 504.1,1164.5 505.2,1206.9 506.3,1156.4 507.5,1166.1 508.6,1200.0 509.7,1186.2 510.8,1160.2 512.0,1190.5 513.1,1269.7 514.2,1284.1 515.3,1260.7 516.5,1247.7 517.6,1196.8 518.7,1177.9 519.9,1270.2 521.0,1172.2 522.1,1261.1 523.2,1256.4 524.4,1163.5 525.5,1203.0 526.6,1223.4 527.7,1281.5 528.9,1165.4 530.0,1200.7 531.1,1230.1 532.2,1214.5 533.4,1283.4 534.5,1277.1 535.6,1281.9 536.8,1285.4 537.9,1274.5 539.0,1213.7 540.1,1238.5 541.3,1159.8 542.4,1293.8 543.5,1238.2 544.6,1222.9 545.8,1207.1 546.9,1274.4 548.0,1297.6 549.1,1267.4 550.3,1201.4 551.4,1174.3 552.5,1204.1 553.7,1240.9 554.8,1217.5 555.9,1161.7 557.0,1246.9 558.2,1211.7 559.3,1260.4 560.4,1214.3 561.5,1233.9 562.7,1203.5 563.8,1179.4 564.9,1262.4 566.0,1257.0 567.2,1239.1 568.3,1214.4 569.4,1262.7 570.6,1178.2 571.7,1217.6 572.8,1266.5 573.9,1246.8 575.1,1249.5 576.2,1260.9 577.3,1279.2 578.4,1244.3 579.6,1231.6 580.7,1279.0 581.8,1234.4 582.9,1268.4 584.1,1234.0 585.2,1222.5 586.3,1234.3 587.5,1265.9 588.6,1215.6 589.7,1214.6 590.8,1263.7 592.0,1207.3 593.1,1201.3 594.2,1271.9 595.3,1226.2 596.5,1280.9 597.6,1200.4 598.7,1177.4 599.8,1219.1 601.0,1207.1 602.1,1255.5 603.2,1210.0 604.4,1258.3 605.5,1188.0 606.6,1294.4 607.7,1234.4 608.9,1197.4 610.0,1165.1 611.1,1178.9 612.2,1228.1 613.4,1228.0 614.5,1158.8 615.6,1240.3 616.7,1165.7 617.9,1198.1 619.0,1192.5 620.1,1226.4 621.3,1155.7 622.4,1219.8 623.5,1180.7 624.6,1169.7 625.8,1186.8 626.9,1238.7 628.0,1225.8 629.1,1201.4 630.3,1170.2 631.4,1202.1 632.5,1268.8 633.6,1286.4 634.8,1263.7 635.9,1195.7 637.0,1182.5 638.2,1162.6 639.3,1209.9 640.4,1227.6 641.5,1196.1 642.7,1189.0 643.8,1188.8 644.9,1193.1 646.0,1297.1 647.2,1224.5 648.3,1225.0 649.4,1204.7 650.5,1211.7 651.7,1207.8 652.8,1297.3 653.9,1184.3 655.1,1175.9 656.2,1199.9 657.3,1226.8 658.4,1197.9 659.6,1149.9 660.7,1200.9 661.8,1226.6 662.9,1165.3 664.1,1185.4 665.2,1234.3 666.3,1258.5 667.4,1178.6 668.6,1215.0 669.7,1261.2 670.8,1284.4 672.0,1270.3 673.1,1167.8 674.2,1209.3 675.3,1234.9 676.5,1243.5 677.6,1200.5 678.7,1283.6 679.8,1193.5 681.0,1188.3 682.1,1236.9 683.2,1240.6 684.3,1244.6 685.5,1224.6 686.6,1255.2 687.7,1189.7 688.9,1159.5 690.0,1236.9 691.1,1221.9 692.2,1191.3 693.4,1183.0 694.5,1225.2 695.6,1241.7 696.7,1217.4 697.9,1211.1 699.0,1214.0 700.1,1258.1 701.2,1239.7 702.4,1151.1 703.5,1236.3 704.6,1178.3 705.8,1206.1 706.9,1208.2 708.0,1224.3 709.1,1232.4 710.3,1249.6 711.4,1209.1 712.5,1173.3 713.6,1271.7 714.8,1233.3 715.9,1234.7 717.0,1245.5 718.1,1266.7 719.3,1245.6 720.4,1219.8 721.5,1258.1 722.7,1221.8 723.8,1277.2 724.9,1277.9 726.0,1216.6 727.2,1202.5 728.3,1118.3 729.4,1238.4 730.5,1211.0 731.7,1180.6 732.8,1206.6 733.9,1236.0 735.0,1221.8 736.2,1182.0 737.3,1192.0 738.4,1176.1 739.6,1157.5 740.7,1180.4 741.8,1178.8 742.9,1212.5 744.1,1183.0 745.2,1163.5 746.3,1194.6 747.4,1251.4 748.6,1213.8 749.7,1200.8 750.8,1205.4 751.9,1175.5 753.1,1215.4 754.2,1260.6 755.3,1223.1 756.5,1174.9 757.6,1206.8 758.7,1188.7 759.8,1204.2 761.0,1229.0 762.1,1253.4 763.2,1187.2 764.3,1207.1 765.5,1227.0 766.6,1204.6 767.7,1247.7 768.8,1175.1 770.0,1250.0 771.1,1289.2 772.2,1218.7 773.4,1170.3 774.5,1190.4 775.6,1208.6 776.7,1202.9 777.9,1237.0 779.0,1143.4 780.1,1257.3 781.2,1195.4 782.4,1241.4 783.5,1149.3 784.6,1176.1 785.7,1210.6 786.9,1175.3 788.0,1269.2 789.1,1274.9 790.3,1260.4 791.4,1197.6 792.5,1225.9 793.6,1152.0 794.8,1224.2 795.9,1225.3 797.0,1215.3 798.1,1226.6 799.3,1146.8 800.4,1216.9 801.5,1206.7 802.6,1243.9 803.8,1263.8 804.9,1211.4 806.0,1258.3 807.2,1270.8 808.3,1311.7 809.4,1284.2 810.5,1226.4 811.7,1247.2 812.8,1143.1 813.9,1247.8 815.0,1205.5 816.2,1265.4 817.3,1207.7 818.4,1240.9 819.5,1215.0 820.7,1189.0 821.8,1173.0 822.9,1181.2 824.1,1254.2 825.2,1250.5 826.3,1213.7 827.4,1171.7 828.6,1140.9 829.7,1201.5 830.8,1144.7 831.9,1206.1 833.1,1202.0 834.2,1182.3 835.3,1166.6 836.4,1185.5 837.6,1166.0 838.7,1173.7 839.8,1178.0 841.0,1215.4 842.1,1171.2 843.2,1239.3 844.3,1282.8 845.5,1186.0 846.6,1196.2 847.7,1176.5 848.8,1224.4 850.0,1161.1 851.1,1248.8 852.2,1227.7 853.3,1243.6 854.5,1257.7 855.6,1247.5 856.7,1332.8 857.9,1231.9 859.0,1250.5 860.1,1243.6 861.2,1265.6 862.4,1251.2 863.5,1253.5 864.6,1181.2 865.7,1236.8 866.9,1264.7 868.0,1254.9 869.1,1223.6 870.2,1228.9 871.4,1115.0 872.5,1290.2 873.6,1276.4 874.8,1292.5 875.9,1270.7 877.0,1241.7 878.1,1242.9 879.3,1215.6 880.4,1309.4 881.5,1238.0 882.6,1266.1 883.8,1289.4 884.9,1215.0 886.0,1207.8 887.1,1215.7 888.3,1166.2 889.6,1166.2 889.6,1249.9" fill="#1c6c3d" clip-path="url(#up2)"/>
<polygon points="100.9,1249.9 100.9,1296.3 100.7,1296.3 101.9,1315.6 103.0,1329.8 104.1,1347.6 105.2,1315.0 106.4,1291.9 107.5,1309.9 108.6,1276.5 109.7,1222.4 110.9,1282.3 112.0,1208.8 113.1,1282.0 114.3,1253.6 115.4,1269.2 116.5,1209.5 117.6,1283.5 118.8,1266.3 119.9,1324.0 121.0,1260.0 122.1,1321.7 123.3,1197.2 124.4,1208.6 125.5,1271.0 126.6,1171.4 127.8,1093.2 128.9,1228.9 130.0,1227.8 131.2,1245.1 132.3,1310.8 133.4,1109.0 134.5,1213.7 135.7,1173.8 136.8,1114.4 137.9,1181.4 139.0,1240.5 140.2,1300.3 141.3,1287.3 142.4,1173.8 143.5,1171.3 144.7,1170.0 145.8,1136.1 146.9,1203.3 148.1,1221.7 149.2,1259.3 150.3,1231.4 151.4,1092.5 152.6,1207.7 153.7,1185.1 154.8,1169.0 155.9,1211.1 157.1,1167.9 158.2,1203.3 159.3,1217.2 160.4,1212.3 161.6,1247.8 162.7,1230.1 163.8,1271.2 165.0,1277.8 166.1,1270.9 167.2,1204.7 168.3,1261.5 169.5,1262.0 170.6,1185.7 171.7,1240.5 172.8,1233.0 174.0,1246.0 175.1,1250.7 176.2,1247.7 177.3,1195.2 178.5,1246.0 179.6,1197.3 180.7,1216.6 181.9,1134.4 183.0,1250.7 184.1,1186.0 185.2,1351.5 186.4,1222.6 187.5,1121.3 188.6,1244.7 189.7,1205.6 190.9,1164.6 192.0,1210.8 193.1,1214.4 194.2,1244.3 195.4,1298.7 196.5,1237.5 197.6,1237.4 198.8,1211.0 199.9,1167.3 201.0,1216.7 202.1,1222.2 203.3,1265.9 204.4,1236.0 205.5,1236.0 206.6,1254.9 207.8,1245.0 208.9,1204.2 210.0,1180.4 211.1,1231.7 212.3,1187.7 213.4,1245.5 214.5,1308.9 215.7,1245.2 216.8,1221.0 217.9,1251.6 219.0,1231.1 220.2,1283.9 221.3,1203.9 222.4,1139.4 223.5,1214.1 224.7,1194.1 225.8,1156.5 226.9,1191.0 228.0,1197.1 229.2,1236.7 230.3,1261.1 231.4,1207.2 232.6,1219.2 233.7,1272.5 234.8,1182.7 235.9,1216.4 237.1,1266.5 238.2,1192.2 239.3,1221.4 240.4,1220.2 241.6,1272.0 242.7,1178.3 243.8,1204.1 244.9,1200.1 246.1,1184.1 247.2,1231.5 248.3,1270.6 249.5,1322.6 250.6,1232.4 251.7,1275.4 252.8,1274.5 254.0,1184.1 255.1,1287.9 256.2,1287.2 257.3,1260.7 258.5,1311.7 259.6,1261.5 260.7,1200.9 261.8,1129.8 263.0,1248.4 264.1,1229.6 265.2,1215.8 266.4,1261.4 267.5,1237.9 268.6,1228.7 269.7,1093.2 270.9,1241.7 272.0,1149.8 273.1,1215.7 274.2,1188.3 275.4,1156.6 276.5,1233.0 277.6,1195.9 278.7,1179.3 279.9,1290.9 281.0,1222.6 282.1,1199.8 283.3,1177.6 284.4,1236.4 285.5,1220.8 286.6,1282.4 287.8,1236.8 288.9,1222.0 290.0,1243.5 291.1,1174.0 292.3,1293.8 293.4,1233.2 294.5,1272.0 295.6,1263.5 296.8,1277.4 297.9,1261.4 299.0,1202.7 300.2,1275.0 301.3,1228.6 302.4,1198.2 303.5,1210.8 304.7,1117.2 305.8,1187.1 306.9,1152.7 308.0,1179.2 309.2,1216.6 310.3,1094.9 311.4,1174.8 312.5,1179.2 313.7,1152.7 314.8,1167.9 315.9,1165.8 317.1,1170.1 318.2,1200.6 319.3,1242.7 320.4,1214.9 321.6,1240.5 322.7,1192.3 323.8,1194.7 324.9,1209.5 326.1,1245.2 327.2,1214.1 328.3,1326.0 329.4,1253.3 330.6,1255.6 331.7,1139.4 332.8,1179.5 334.0,1213.0 335.1,1232.5 336.2,1172.2 337.3,1299.4 338.5,1170.3 339.6,1254.0 340.7,1267.4 341.8,1268.1 343.0,1270.8 344.1,1245.6 345.2,1266.8 346.3,1251.6 347.5,1233.8 348.6,1202.6 349.7,1292.0 350.9,1187.4 352.0,1246.7 353.1,1231.5 354.2,1251.9 355.4,1222.3 356.5,1236.4 357.6,1227.6 358.7,1218.4 359.9,1226.9 361.0,1149.3 362.1,1176.0 363.2,1270.6 364.4,1195.6 365.5,1189.6 366.6,1220.4 367.8,1201.3 368.9,1212.3 370.0,1164.4 371.1,1175.4 372.3,1242.2 373.4,1190.0 374.5,1202.2 375.6,1193.4 376.8,1220.1 377.9,1165.3 379.0,1216.6 380.1,1239.2 381.3,1256.9 382.4,1282.3 383.5,1163.6 384.7,1222.2 385.8,1219.6 386.9,1222.3 388.0,1207.4 389.2,1234.8 390.3,1157.6 391.4,1235.6 392.5,1252.6 393.7,1203.4 394.8,1294.2 395.9,1255.4 397.0,1236.2 398.2,1203.6 399.3,1183.4 400.4,1239.0 401.6,1255.8 402.7,1262.0 403.8,1178.5 404.9,1200.0 406.1,1235.9 407.2,1202.6 408.3,1219.9 409.4,1133.7 410.6,1191.7 411.7,1313.5 412.8,1266.2 413.9,1246.7 415.1,1146.8 416.2,1205.8 417.3,1235.9 418.5,1130.9 419.6,1219.0 420.7,1149.4 421.8,1188.7 423.0,1123.6 424.1,1214.2 425.2,1236.3 426.3,1191.1 427.5,1179.4 428.6,1202.2 429.7,1281.1 430.8,1220.0 432.0,1225.4 433.1,1200.2 434.2,1136.0 435.4,1221.2 436.5,1195.3 437.6,1282.4 438.7,1294.5 439.9,1267.2 441.0,1269.8 442.1,1254.0 443.2,1234.2 444.4,1242.6 445.5,1239.8 446.6,1208.2 447.7,1245.1 448.9,1253.6 450.0,1260.6 451.1,1245.8 452.3,1194.6 453.4,1202.9 454.5,1211.7 455.6,1212.8 456.8,1145.7 457.9,1107.7 459.0,1197.2 460.1,1282.9 461.3,1167.5 462.4,1167.9 463.5,1132.7 464.6,1205.7 465.8,1184.9 466.9,1135.2 468.0,1228.4 469.2,1184.0 470.3,1211.6 471.4,1205.4 472.5,1282.4 473.7,1207.5 474.8,1258.7 475.9,1246.1 477.0,1234.6 478.2,1186.5 479.3,1259.1 480.4,1262.0 481.5,1248.5 482.7,1246.0 483.8,1214.3 484.9,1305.9 486.1,1282.4 487.2,1214.9 488.3,1290.6 489.4,1230.4 490.6,1220.0 491.7,1304.5 492.8,1303.9 493.9,1199.6 495.1,1184.3 496.2,1145.8 497.3,1165.2 498.4,1127.7 499.6,1219.0 500.7,1187.5 501.8,1229.7 503.0,1197.1 504.1,1164.5 505.2,1206.9 506.3,1156.4 507.5,1166.1 508.6,1200.0 509.7,1186.2 510.8,1160.2 512.0,1190.5 513.1,1269.7 514.2,1284.1 515.3,1260.7 516.5,1247.7 517.6,1196.8 518.7,1177.9 519.9,1270.2 521.0,1172.2 522.1,1261.1 523.2,1256.4 524.4,1163.5 525.5,1203.0 526.6,1223.4 527.7,1281.5 528.9,1165.4 530.0,1200.7 531.1,1230.1 532.2,1214.5 533.4,1283.4 534.5,1277.1 535.6,1281.9 536.8,1285.4 537.9,1274.5 539.0,1213.7 540.1,1238.5 541.3,1159.8 542.4,1293.8 543.5,1238.2 544.6,1222.9 545.8,1207.1 546.9,1274.4 548.0,1297.6 549.1,1267.4 550.3,1201.4 551.4,1174.3 552.5,1204.1 553.7,1240.9 554.8,1217.5 555.9,1161.7 557.0,1246.9 558.2,1211.7 559.3,1260.4 560.4,1214.3 561.5,1233.9 562.7,1203.5 563.8,1179.4 564.9,1262.4 566.0,1257.0 567.2,1239.1 568.3,1214.4 569.4,1262.7 570.6,1178.2 571.7,1217.6 572.8,1266.5 573.9,1246.8 575.1,1249.5 576.2,1260.9 577.3,1279.2 578.4,1244.3 579.6,1231.6 580.7,1279.0 581.8,1234.4 582.9,1268.4 584.1,1234.0 585.2,1222.5 586.3,1234.3 587.5,1265.9 588.6,1215.6 589.7,1214.6 590.8,1263.7 592.0,1207.3 593.1,1201.3 594.2,1271.9 595.3,1226.2 596.5,1280.9 597.6,1200.4 598.7,1177.4 599.8,1219.1 601.0,1207.1 602.1,1255.5 603.2,1210.0 604.4,1258.3 605.5,1188.0 606.6,1294.4 607.7,1234.4 608.9,1197.4 610.0,1165.1 611.1,1178.9 612.2,1228.1 613.4,1228.0 614.5,1158.8 615.6,1240.3 616.7,1165.7 617.9,1198.1 619.0,1192.5 620.1,1226.4 621.3,1155.7 622.4,1219.8 623.5,1180.7 624.6,1169.7 625.8,1186.8 626.9,1238.7 628.0,1225.8 629.1,1201.4 630.3,1170.2 631.4,1202.1 632.5,1268.8 633.6,1286.4 634.8,1263.7 635.9,1195.7 637.0,1182.5 638.2,1162.6 639.3,1209.9 640.4,1227.6 641.5,1196.1 642.7,1189.0 643.8,1188.8 644.9,1193.1 646.0,1297.1 647.2,1224.5 648.3,1225.0 649.4,1204.7 650.5,1211.7 651.7,1207.8 652.8,1297.3 653.9,1184.3 655.1,1175.9 656.2,1199.9 657.3,1226.8 658.4,1197.9 659.6,1149.9 660.7,1200.9 661.8,1226.6 662.9,1165.3 664.1,1185.4 665.2,1234.3 666.3,1258.5 667.4,1178.6 668.6,1215.0 669.7,1261.2 670.8,1284.4 672.0,1270.3 673.1,1167.8 674.2,1209.3 675.3,1234.9 676.5,1243.5 677.6,1200.5 678.7,1283.6 679.8,1193.5 681.0,1188.3 682.1,1236.9 683.2,1240.6 684.3,1244.6 685.5,1224.6 686.6,1255.2 687.7,1189.7 688.9,1159.5 690.0,1236.9 691.1,1221.9 692.2,1191.3 693.4,1183.0 694.5,1225.2 695.6,1241.7 696.7,1217.4 697.9,1211.1 699.0,1214.0 700.1,1258.1 701.2,1239.7 702.4,1151.1 703.5,1236.3 704.6,1178.3 705.8,1206.1 706.9,1208.2 708.0,1224.3 709.1,1232.4 710.3,1249.6 711.4,1209.1 712.5,1173.3 713.6,1271.7 714.8,1233.3 715.9,1234.7 717.0,1245.5 718.1,1266.7 719.3,1245.6 720.4,1219.8 721.5,1258.1 722.7,1221.8 723.8,1277.2 724.9,1277.9 726.0,1216.6 727.2,1202.5 728.3,1118.3 729.4,1238.4 730.5,1211.0 731.7,1180.6 732.8,1206.6 733.9,1236.0 735.0,1221.8 736.2,1182.0 737.3,1192.0 738.4,1176.1 739.6,1157.5 740.7,1180.4 741.8,1178.8 742.9,1212.5 744.1,1183.0 745.2,1163.5 746.3,1194.6 747.4,1251.4 748.6,1213.8 749.7,1200.8 750.8,1205.4 751.9,1175.5 753.1,1215.4 754.2,1260.6 755.3,1223.1 756.5,1174.9 757.6,1206.8 758.7,1188.7 759.8,1204.2 761.0,1229.0 762.1,1253.4 763.2,1187.2 764.3,1207.1 765.5,1227.0 766.6,1204.6 767.7,1247.7 768.8,1175.1 770.0,1250.0 771.1,1289.2 772.2,1218.7 773.4,1170.3 774.5,1190.4 775.6,1208.6 776.7,1202.9 777.9,1237.0 779.0,1143.4 780.1,1257.3 781.2,1195.4 782.4,1241.4 783.5,1149.3 784.6,1176.1 785.7,1210.6 786.9,1175.3 788.0,1269.2 789.1,1274.9 790.3,1260.4 791.4,1197.6 792.5,1225.9 793.6,1152.0 794.8,1224.2 795.9,1225.3 797.0,1215.3 798.1,1226.6 799.3,1146.8 800.4,1216.9 801.5,1206.7 802.6,1243.9 803.8,1263.8 804.9,1211.4 806.0,1258.3 807.2,1270.8 808.3,1311.7 809.4,1284.2 810.5,1226.4 811.7,1247.2 812.8,1143.1 813.9,1247.8 815.0,1205.5 816.2,1265.4 817.3,1207.7 818.4,1240.9 819.5,1215.0 820.7,1189.0 821.8,1173.0 822.9,1181.2 824.1,1254.2 825.2,1250.5 826.3,1213.7 827.4,1171.7 828.6,1140.9 829.7,1201.5 830.8,1144.7 831.9,1206.1 833.1,1202.0 834.2,1182.3 835.3,1166.6 836.4,1185.5 837.6,1166.0 838.7,1173.7 839.8,1178.0 841.0,1215.4 842.1,1171.2 843.2,1239.3 844.3,1282.8 845.5,1186.0 846.6,1196.2 847.7,1176.5 848.8,1224.4 850.0,1161.1 851.1,1248.8 852.2,1227.7 853.3,1243.6 854.5,1257.7 855.6,1247.5 856.7,1332.8 857.9,1231.9 859.0,1250.5 860.1,1243.6 861.2,1265.6 862.4,1251.2 863.5,1253.5 864.6,1181.2 865.7,1236.8 866.9,1264.7 868.0,1254.9 869.1,1223.6 870.2,1228.9 871.4,1115.0 872.5,1290.2 873.6,1276.4 874.8,1292.5 875.9,1270.7 877.0,1241.7 878.1,1242.9 879.3,1215.6 880.4,1309.4 881.5,1238.0 882.6,1266.1 883.8,1289.4 884.9,1215.0 886.0,1207.8 887.1,1215.7 888.3,1166.2 889.6,1166.2 889.6,1249.9" fill="#f0862d" clip-path="url(#dn2)"/>
<g clip-path="url(#cp2)">
<polyline points="100.9,1296.3 100.7,1296.3 101.9,1315.6 103.0,1329.8 104.1,1347.6 105.2,1315.0 106.4,1291.9 107.5,1309.9 108.6,1276.5 109.7,1222.4 110.9,1282.3 112.0,1208.8 113.1,1282.0 114.3,1253.6 115.4,1269.2 116.5,1209.5 117.6,1283.5 118.8,1266.3 119.9,1324.0 121.0,1260.0 122.1,1321.7 123.3,1197.2 124.4,1208.6 125.5,1271.0 126.6,1171.4 127.8,1093.2 128.9,1228.9 130.0,1227.8 131.2,1245.1 132.3,1310.8 133.4,1109.0 134.5,1213.7 135.7,1173.8 136.8,1114.4 137.9,1181.4 139.0,1240.5 140.2,1300.3 141.3,1287.3 142.4,1173.8 143.5,1171.3 144.7,1170.0 145.8,1136.1 146.9,1203.3 148.1,1221.7 149.2,1259.3 150.3,1231.4 151.4,1092.5 152.6,1207.7 153.7,1185.1 154.8,1169.0 155.9,1211.1 157.1,1167.9 158.2,1203.3 159.3,1217.2 160.4,1212.3 161.6,1247.8 162.7,1230.1 163.8,1271.2 165.0,1277.8 166.1,1270.9 167.2,1204.7 168.3,1261.5 169.5,1262.0 170.6,1185.7 171.7,1240.5 172.8,1233.0 174.0,1246.0 175.1,1250.7 176.2,1247.7 177.3,1195.2 178.5,1246.0 179.6,1197.3 180.7,1216.6 181.9,1134.4 183.0,1250.7 184.1,1186.0 185.2,1351.5 186.4,1222.6 187.5,1121.3 188.6,1244.7 189.7,1205.6 190.9,1164.6 192.0,1210.8 193.1,1214.4 194.2,1244.3 195.4,1298.7 196.5,1237.5 197.6,1237.4 198.8,1211.0 199.9,1167.3 201.0,1216.7 202.1,1222.2 203.3,1265.9 204.4,1236.0 205.5,1236.0 206.6,1254.9 207.8,1245.0 208.9,1204.2 210.0,1180.4 211.1,1231.7 212.3,1187.7 213.4,1245.5 214.5,1308.9 215.7,1245.2 216.8,1221.0 217.9,1251.6 219.0,1231.1 220.2,1283.9 221.3,1203.9 222.4,1139.4 223.5,1214.1 224.7,1194.1 225.8,1156.5 226.9,1191.0 228.0,1197.1 229.2,1236.7 230.3,1261.1 231.4,1207.2 232.6,1219.2 233.7,1272.5 234.8,1182.7 235.9,1216.4 237.1,1266.5 238.2,1192.2 239.3,1221.4 240.4,1220.2 241.6,1272.0 242.7,1178.3 243.8,1204.1 244.9,1200.1 246.1,1184.1 247.2,1231.5 248.3,1270.6 249.5,1322.6 250.6,1232.4 251.7,1275.4 252.8,1274.5 254.0,1184.1 255.1,1287.9 256.2,1287.2 257.3,1260.7 258.5,1311.7 259.6,1261.5 260.7,1200.9 261.8,1129.8 263.0,1248.4 264.1,1229.6 265.2,1215.8 266.4,1261.4 267.5,1237.9 268.6,1228.7 269.7,1093.2 270.9,1241.7 272.0,1149.8 273.1,1215.7 274.2,1188.3 275.4,1156.6 276.5,1233.0 277.6,1195.9 278.7,1179.3 279.9,1290.9 281.0,1222.6 282.1,1199.8 283.3,1177.6 284.4,1236.4 285.5,1220.8 286.6,1282.4 287.8,1236.8 288.9,1222.0 290.0,1243.5 291.1,1174.0 292.3,1293.8 293.4,1233.2 294.5,1272.0 295.6,1263.5 296.8,1277.4 297.9,1261.4 299.0,1202.7 300.2,1275.0 301.3,1228.6 302.4,1198.2 303.5,1210.8 304.7,1117.2 305.8,1187.1 306.9,1152.7 308.0,1179.2 309.2,1216.6 310.3,1094.9 311.4,1174.8 312.5,1179.2 313.7,1152.7 314.8,1167.9 315.9,1165.8 317.1,1170.1 318.2,1200.6 319.3,1242.7 320.4,1214.9 321.6,1240.5 322.7,1192.3 323.8,1194.7 324.9,1209.5 326.1,1245.2 327.2,1214.1 328.3,1326.0 329.4,1253.3 330.6,1255.6 331.7,1139.4 332.8,1179.5 334.0,1213.0 335.1,1232.5 336.2,1172.2 337.3,1299.4 338.5,1170.3 339.6,1254.0 340.7,1267.4 341.8,1268.1 343.0,1270.8 344.1,1245.6 345.2,1266.8 346.3,1251.6 347.5,1233.8 348.6,1202.6 349.7,1292.0 350.9,1187.4 352.0,1246.7 353.1,1231.5 354.2,1251.9 355.4,1222.3 356.5,1236.4 357.6,1227.6 358.7,1218.4 359.9,1226.9 361.0,1149.3 362.1,1176.0 363.2,1270.6 364.4,1195.6 365.5,1189.6 366.6,1220.4 367.8,1201.3 368.9,1212.3 370.0,1164.4 371.1,1175.4 372.3,1242.2 373.4,1190.0 374.5,1202.2 375.6,1193.4 376.8,1220.1 377.9,1165.3 379.0,1216.6 380.1,1239.2 381.3,1256.9 382.4,1282.3 383.5,1163.6 384.7,1222.2 385.8,1219.6 386.9,1222.3 388.0,1207.4 389.2,1234.8 390.3,1157.6 391.4,1235.6 392.5,1252.6 393.7,1203.4 394.8,1294.2 395.9,1255.4 397.0,1236.2 398.2,1203.6 399.3,1183.4 400.4,1239.0 401.6,1255.8 402.7,1262.0 403.8,1178.5 404.9,1200.0 406.1,1235.9 407.2,1202.6 408.3,1219.9 409.4,1133.7 410.6,1191.7 411.7,1313.5 412.8,1266.2 413.9,1246.7 415.1,1146.8 416.2,1205.8 417.3,1235.9 418.5,1130.9 419.6,1219.0 420.7,1149.4 421.8,1188.7 423.0,1123.6 424.1,1214.2 425.2,1236.3 426.3,1191.1 427.5,1179.4 428.6,1202.2 429.7,1281.1 430.8,1220.0 432.0,1225.4 433.1,1200.2 434.2,1136.0 435.4,1221.2 436.5,1195.3 437.6,1282.4 438.7,1294.5 439.9,1267.2 441.0,1269.8 442.1,1254.0 443.2,1234.2 444.4,1242.6 445.5,1239.8 446.6,1208.2 447.7,1245.1 448.9,1253.6 450.0,1260.6 451.1,1245.8 452.3,1194.6 453.4,1202.9 454.5,1211.7 455.6,1212.8 456.8,1145.7 457.9,1107.7 459.0,1197.2 460.1,1282.9 461.3,1167.5 462.4,1167.9 463.5,1132.7 464.6,1205.7 465.8,1184.9 466.9,1135.2 468.0,1228.4 469.2,1184.0 470.3,1211.6 471.4,1205.4 472.5,1282.4 473.7,1207.5 474.8,1258.7 475.9,1246.1 477.0,1234.6 478.2,1186.5 479.3,1259.1 480.4,1262.0 481.5,1248.5 482.7,1246.0 483.8,1214.3 484.9,1305.9 486.1,1282.4 487.2,1214.9 488.3,1290.6 489.4,1230.4 490.6,1220.0 491.7,1304.5 492.8,1303.9 493.9,1199.6 495.1,1184.3 496.2,1145.8 497.3,1165.2 498.4,1127.7 499.6,1219.0 500.7,1187.5 501.8,1229.7 503.0,1197.1 504.1,1164.5 505.2,1206.9 506.3,1156.4 507.5,1166.1 508.6,1200.0 509.7,1186.2 510.8,1160.2 512.0,1190.5 513.1,1269.7 514.2,1284.1 515.3,1260.7 516.5,1247.7 517.6,1196.8 518.7,1177.9 519.9,1270.2 521.0,1172.2 522.1,1261.1 523.2,1256.4 524.4,1163.5 525.5,1203.0 526.6,1223.4 527.7,1281.5 528.9,1165.4 530.0,1200.7 531.1,1230.1 532.2,1214.5 533.4,1283.4 534.5,1277.1 535.6,1281.9 536.8,1285.4 537.9,1274.5 539.0,1213.7 540.1,1238.5 541.3,1159.8 542.4,1293.8 543.5,1238.2 544.6,1222.9 545.8,1207.1 546.9,1274.4 548.0,1297.6 549.1,1267.4 550.3,1201.4 551.4,1174.3 552.5,1204.1 553.7,1240.9 554.8,1217.5 555.9,1161.7 557.0,1246.9 558.2,1211.7 559.3,1260.4 560.4,1214.3 561.5,1233.9 562.7,1203.5 563.8,1179.4 564.9,1262.4 566.0,1257.0 567.2,1239.1 568.3,1214.4 569.4,1262.7 570.6,1178.2 571.7,1217.6 572.8,1266.5 573.9,1246.8 575.1,1249.5 576.2,1260.9 577.3,1279.2 578.4,1244.3 579.6,1231.6 580.7,1279.0 581.8,1234.4 582.9,1268.4 584.1,1234.0 585.2,1222.5 586.3,1234.3 587.5,1265.9 588.6,1215.6 589.7,1214.6 590.8,1263.7 592.0,1207.3 593.1,1201.3 594.2,1271.9 595.3,1226.2 596.5,1280.9 597.6,1200.4 598.7,1177.4 599.8,1219.1 601.0,1207.1 602.1,1255.5 603.2,1210.0 604.4,1258.3 605.5,1188.0 606.6,1294.4 607.7,1234.4 608.9,1197.4 610.0,1165.1 611.1,1178.9 612.2,1228.1 613.4,1228.0 614.5,1158.8 615.6,1240.3 616.7,1165.7 617.9,1198.1 619.0,1192.5 620.1,1226.4 621.3,1155.7 622.4,1219.8 623.5,1180.7 624.6,1169.7 625.8,1186.8 626.9,1238.7 628.0,1225.8 629.1,1201.4 630.3,1170.2 631.4,1202.1 632.5,1268.8 633.6,1286.4 634.8,1263.7 635.9,1195.7 637.0,1182.5 638.2,1162.6 639.3,1209.9 640.4,1227.6 641.5,1196.1 642.7,1189.0 643.8,1188.8 644.9,1193.1 646.0,1297.1 647.2,1224.5 648.3,1225.0 649.4,1204.7 650.5,1211.7 651.7,1207.8 652.8,1297.3 653.9,1184.3 655.1,1175.9 656.2,1199.9 657.3,1226.8 658.4,1197.9 659.6,1149.9 660.7,1200.9 661.8,1226.6 662.9,1165.3 664.1,1185.4 665.2,1234.3 666.3,1258.5 667.4,1178.6 668.6,1215.0 669.7,1261.2 670.8,1284.4 672.0,1270.3 673.1,1167.8 674.2,1209.3 675.3,1234.9 676.5,1243.5 677.6,1200.5 678.7,1283.6 679.8,1193.5 681.0,1188.3 682.1,1236.9 683.2,1240.6 684.3,1244.6 685.5,1224.6 686.6,1255.2 687.7,1189.7 688.9,1159.5 690.0,1236.9 691.1,1221.9 692.2,1191.3 693.4,1183.0 694.5,1225.2 695.6,1241.7 696.7,1217.4 697.9,1211.1 699.0,1214.0 700.1,1258.1 701.2,1239.7 702.4,1151.1 703.5,1236.3 704.6,1178.3 705.8,1206.1 706.9,1208.2 708.0,1224.3 709.1,1232.4 710.3,1249.6 711.4,1209.1 712.5,1173.3 713.6,1271.7 714.8,1233.3 715.9,1234.7 717.0,1245.5 718.1,1266.7 719.3,1245.6 720.4,1219.8 721.5,1258.1 722.7,1221.8 723.8,1277.2 724.9,1277.9 726.0,1216.6 727.2,1202.5 728.3,1118.3 729.4,1238.4 730.5,1211.0 731.7,1180.6 732.8,1206.6 733.9,1236.0 735.0,1221.8 736.2,1182.0 737.3,1192.0 738.4,1176.1 739.6,1157.5 740.7,1180.4 741.8,1178.8 742.9,1212.5 744.1,1183.0 745.2,1163.5 746.3,1194.6 747.4,1251.4 748.6,1213.8 749.7,1200.8 750.8,1205.4 751.9,1175.5 753.1,1215.4 754.2,1260.6 755.3,1223.1 756.5,1174.9 757.6,1206.8 758.7,1188.7 759.8,1204.2 761.0,1229.0 762.1,1253.4 763.2,1187.2 764.3,1207.1 765.5,1227.0 766.6,1204.6 767.7,1247.7 768.8,1175.1 770.0,1250.0 771.1,1289.2 772.2,1218.7 773.4,1170.3 774.5,1190.4 775.6,1208.6 776.7,1202.9 777.9,1237.0 779.0,1143.4 780.1,1257.3 781.2,1195.4 782.4,1241.4 783.5,1149.3 784.6,1176.1 785.7,1210.6 786.9,1175.3 788.0,1269.2 789.1,1274.9 790.3,1260.4 791.4,1197.6 792.5,1225.9 793.6,1152.0 794.8,1224.2 795.9,1225.3 797.0,1215.3 798.1,1226.6 799.3,1146.8 800.4,1216.9 801.5,1206.7 802.6,1243.9 803.8,1263.8 804.9,1211.4 806.0,1258.3 807.2,1270.8 808.3,1311.7 809.4,1284.2 810.5,1226.4 811.7,1247.2 812.8,1143.1 813.9,1247.8 815.0,1205.5 816.2,1265.4 817.3,1207.7 818.4,1240.9 819.5,1215.0 820.7,1189.0 821.8,1173.0 822.9,1181.2 824.1,1254.2 825.2,1250.5 826.3,1213.7 827.4,1171.7 828.6,1140.9 829.7,1201.5 830.8,1144.7 831.9,1206.1 833.1,1202.0 834.2,1182.3 835.3,1166.6 836.4,1185.5 837.6,1166.0 838.7,1173.7 839.8,1178.0 841.0,1215.4 842.1,1171.2 843.2,1239.3 844.3,1282.8 845.5,1186.0 846.6,1196.2 847.7,1176.5 848.8,1224.4 850.0,1161.1 851.1,1248.8 852.2,1227.7 853.3,1243.6 854.5,1257.7 855.6,1247.5 856.7,1332.8 857.9,1231.9 859.0,1250.5 860.1,1243.6 861.2,1265.6 862.4,1251.2 863.5,1253.5 864.6,1181.2 865.7,1236.8 866.9,1264.7 868.0,1254.9 869.1,1223.6 870.2,1228.9 871.4,1115.0 872.5,1290.2 873.6,1276.4 874.8,1292.5 875.9,1270.7 877.0,1241.7 878.1,1242.9 879.3,1215.6 880.4,1309.4 881.5,1238.0 882.6,1266.1 883.8,1289.4 884.9,1215.0 886.0,1207.8 887.1,1215.7 888.3,1166.2" fill="none" stroke="#000" stroke-width="1.0" stroke-linejoin="bevel"/>
<line x1="100.90" y1="1249.90" x2="889.60" y2="1249.90" stroke="#0a2a14" stroke-width="0.8"/>
<polyline points="100.7,1295.4 101.9,1291.1 103.0,1287.0 104.1,1281.6 105.2,1273.5 106.4,1267.0 107.5,1266.0 108.6,1264.0 109.7,1258.9 110.9,1255.3 112.0,1252.8 113.1,1252.0 114.3,1251.0 115.4,1249.8 116.5,1253.1 117.6,1254.7 118.8,1250.7 119.9,1248.3 121.0,1242.8 122.1,1229.2 123.3,1219.0 124.4,1217.4 125.5,1218.1 126.6,1212.9 127.8,1202.4 128.9,1197.5 130.0,1196.7 131.2,1195.4 132.3,1197.5 133.4,1199.6 134.5,1201.6 135.7,1203.0 136.8,1202.2 137.9,1201.5 139.0,1199.4 140.2,1197.8 141.3,1199.7 142.4,1200.4 143.5,1200.4 144.7,1197.3 145.8,1194.8 146.9,1193.6 148.1,1190.8 149.2,1194.6 150.3,1200.2 151.4,1206.5 152.6,1214.1 153.7,1210.5 154.8,1201.5 155.9,1200.6 157.1,1203.7 158.2,1210.1 159.3,1217.0 160.4,1220.3 161.6,1223.3 162.7,1224.8 163.8,1225.4 165.0,1228.0 166.1,1228.7 167.2,1230.2 168.3,1236.3 169.5,1234.9 170.6,1230.4 171.7,1232.2 172.8,1230.0 174.0,1224.3 175.1,1224.2 176.2,1227.7 177.3,1225.8 178.5,1219.4 179.6,1219.2 180.7,1220.9 181.9,1217.8 183.0,1215.8 184.1,1219.9 185.2,1223.5 186.4,1220.8 187.5,1220.8 188.6,1226.6 189.7,1230.5 190.9,1231.3 192.0,1226.0 193.1,1222.8 194.2,1228.0 195.4,1229.3 196.5,1227.1 197.6,1226.6 198.8,1228.4 199.9,1235.1 201.0,1240.7 202.1,1241.3 203.3,1240.8 204.4,1242.4 205.5,1245.7 206.6,1240.1 207.8,1231.6 208.9,1232.7 210.0,1231.1 211.1,1223.5 212.3,1226.2 213.4,1229.8 214.5,1224.9 215.7,1221.0 216.8,1223.9 217.9,1228.2 219.0,1228.5 220.2,1222.0 221.3,1211.7 222.4,1211.0 223.5,1220.2 224.7,1224.9 225.8,1221.7 226.9,1216.6 228.0,1214.3 229.2,1214.6 230.3,1212.0 231.4,1208.4 232.6,1211.2 233.7,1213.8 234.8,1213.1 235.9,1216.6 237.1,1218.2 238.2,1213.5 239.3,1213.4 240.4,1218.8 241.6,1223.5 242.7,1224.6 243.8,1220.0 244.9,1216.9 246.1,1220.0 247.2,1223.5 248.3,1225.0 249.5,1224.5 250.6,1226.1 251.7,1229.7 252.8,1236.2 254.0,1244.4 255.1,1241.7 256.2,1233.8 257.3,1229.0 258.5,1225.8 259.6,1221.1 260.7,1218.3 261.8,1216.1 263.0,1212.9 264.1,1210.2 265.2,1211.2 266.4,1216.8 267.5,1216.8 268.6,1209.4 269.7,1203.8 270.9,1209.5 272.0,1217.2 273.1,1214.4 274.2,1210.5 275.4,1210.9 276.5,1206.9 277.6,1207.3 278.7,1217.7 279.9,1223.0 281.0,1222.2 282.1,1222.0 283.3,1221.3 284.4,1222.8 285.5,1225.8 286.6,1227.6 287.8,1232.7 288.9,1232.8 290.0,1221.8 291.1,1217.8 292.3,1223.5 293.4,1228.8 294.5,1233.8 295.6,1234.5 296.8,1227.9 297.9,1223.5 299.0,1222.2 300.2,1217.7 301.3,1211.8 302.4,1205.5 303.5,1200.4 304.7,1197.9 305.8,1192.4 306.9,1186.0 308.0,1183.0 309.2,1184.1 310.3,1189.3 311.4,1194.2 312.5,1194.1 313.7,1186.7 314.8,1181.0 315.9,1182.7 317.1,1192.9 318.2,1196.3 319.3,1194.7 320.4,1202.4 321.6,1214.3 322.7,1218.6 323.8,1213.5 324.9,1210.2 326.1,1210.6 327.2,1215.5 328.3,1223.1 329.4,1222.1 330.6,1219.6 331.7,1222.2 332.8,1224.0 334.0,1223.8 335.1,1224.5 336.2,1229.1 337.3,1230.2 338.5,1228.6 339.6,1232.7 340.7,1234.8 341.8,1233.4 343.0,1237.4 344.1,1243.0 345.2,1243.3 346.3,1243.1 347.5,1247.4 348.6,1250.1 349.7,1248.6 350.9,1244.6 352.0,1238.6 353.1,1234.7 354.2,1232.9 355.4,1234.6 356.5,1236.3 357.6,1231.0 358.7,1219.6 359.9,1213.0 361.0,1210.6 362.1,1210.9 363.2,1215.2 364.4,1214.5 365.5,1212.3 366.6,1212.7 367.8,1205.4 368.9,1196.6 370.0,1200.2 371.1,1206.7 372.3,1207.5 373.4,1204.5 374.5,1207.9 375.6,1211.8 376.8,1210.2 377.9,1208.3 379.0,1210.8 380.1,1215.5 381.3,1215.4 382.4,1214.6 383.5,1213.5 384.7,1213.3 385.8,1218.7 386.9,1224.1 388.0,1224.7 389.2,1224.1 390.3,1225.8 391.4,1225.1 392.5,1226.6 393.7,1233.9 394.8,1239.4 395.9,1239.2 397.0,1235.4 398.2,1232.3 399.3,1233.0 400.4,1231.0 401.6,1225.8 402.7,1221.5 403.8,1219.6 404.9,1224.2 406.1,1228.6 407.2,1222.4 408.3,1214.0 409.4,1209.1 410.6,1206.3 411.7,1207.4 412.8,1205.8 413.9,1199.2 415.1,1197.3 416.2,1199.9 417.3,1198.5 418.5,1194.3 419.6,1191.9 420.7,1193.8 421.8,1193.1 423.0,1191.6 424.1,1195.9 425.2,1199.8 426.3,1196.7 427.5,1195.1 428.6,1199.0 429.7,1207.3 430.8,1214.3 432.0,1219.5 433.1,1225.1 434.2,1231.6 435.4,1236.7 436.5,1234.6 437.6,1233.9 438.7,1238.9 439.9,1241.3 441.0,1243.9 442.1,1249.8 443.2,1248.4 444.4,1240.1 445.5,1232.7 446.6,1229.5 447.7,1229.8 448.9,1227.0 450.0,1223.3 451.1,1220.0 452.3,1215.2 453.4,1212.2 454.5,1206.3 455.6,1198.8 456.8,1192.3 457.9,1185.3 459.0,1185.9 460.1,1187.0 461.3,1179.7 462.4,1180.3 463.5,1187.3 464.6,1188.2 465.8,1186.7 466.9,1194.0 468.0,1199.2 469.2,1198.1 470.3,1195.9 471.4,1198.4 472.5,1207.5 473.7,1215.9 474.8,1217.4 475.9,1219.5 477.0,1223.7 478.2,1225.7 479.3,1229.3 480.4,1233.2 481.5,1237.9 482.7,1239.7 483.8,1239.5 484.9,1238.9 486.1,1233.4 487.2,1225.3 488.3,1225.4 489.4,1231.6 490.6,1226.5 491.7,1214.3 492.8,1208.3 493.9,1206.7 495.1,1200.5 496.2,1193.6 497.3,1189.2 498.4,1181.9 499.6,1176.5 500.7,1177.8 501.8,1178.3 503.0,1180.5 504.1,1183.1 505.2,1183.0 506.3,1185.5 507.5,1187.3 508.6,1188.0 509.7,1192.6 510.8,1197.4 512.0,1200.2 513.1,1203.9 514.2,1207.5 515.3,1206.5 516.5,1206.3 517.6,1212.9 518.7,1214.2 519.9,1212.1 521.0,1213.0 522.1,1211.7 523.2,1213.4 524.4,1216.9 525.5,1217.3 526.6,1219.8 527.7,1227.7 528.9,1231.3 530.0,1228.7 531.1,1229.6 532.2,1233.3 533.4,1233.5 534.5,1232.4 535.6,1236.8 536.8,1243.3 537.9,1243.5 539.0,1237.1 540.1,1231.5 541.3,1228.6 542.4,1224.1 543.5,1224.1 544.6,1228.0 545.8,1226.1 546.9,1228.1 548.0,1230.9 549.1,1222.3 550.3,1216.3 551.4,1220.8 552.5,1221.6 553.7,1217.4 554.8,1217.2 555.9,1218.9 557.0,1217.1 558.2,1218.8 559.3,1223.0 560.4,1220.9 561.5,1218.0 562.7,1218.4 563.8,1221.0 564.9,1222.5 566.0,1223.7 567.2,1225.4 568.3,1224.1 569.4,1221.5 570.6,1221.5 571.7,1226.5 572.8,1230.5 573.9,1225.8 575.1,1222.3 576.2,1226.4 577.3,1226.9 578.4,1221.7 579.6,1219.6 580.7,1219.5 581.8,1219.7 582.9,1222.8 584.1,1224.6 585.2,1224.9 586.3,1226.2 587.5,1227.0 588.6,1226.8 589.7,1222.3 590.8,1221.3 592.0,1227.7 593.1,1224.6 594.2,1215.6 595.3,1214.7 596.5,1219.3 597.6,1224.0 598.7,1221.9 599.8,1218.3 601.0,1221.6 602.1,1222.2 603.2,1213.7 604.4,1209.2 605.5,1212.6 606.6,1209.6 607.7,1204.2 608.9,1210.7 610.0,1217.1 611.1,1212.5 612.2,1209.1 613.4,1208.1 614.5,1206.0 615.6,1206.9 616.7,1206.0 617.9,1198.6 619.0,1195.5 620.1,1196.3 621.3,1196.2 622.4,1200.7 623.5,1199.1 624.6,1193.9 625.8,1195.5 626.9,1196.1 628.0,1194.2 629.1,1198.0 630.3,1200.3 631.4,1200.0 632.5,1206.0 633.6,1209.5 634.8,1207.2 635.9,1209.7 637.0,1215.8 638.2,1219.1 639.3,1218.4 640.4,1214.5 641.5,1211.2 642.7,1210.9 643.8,1209.1 644.9,1206.5 646.0,1207.3 647.2,1209.9 648.3,1213.5 649.4,1213.6 650.5,1209.9 651.7,1206.1 652.8,1204.5 653.9,1207.1 655.1,1207.2 656.2,1207.2 657.3,1211.8 658.4,1212.0 659.6,1205.2 660.7,1199.0 661.8,1199.6 662.9,1204.0 664.1,1204.3 665.2,1201.1 666.3,1202.2 667.4,1210.3 668.6,1220.5 669.7,1223.1 670.8,1227.1 672.0,1232.5 673.1,1224.1 674.2,1221.0 675.3,1225.2 676.5,1224.4 677.6,1221.0 678.7,1216.5 679.8,1216.7 681.0,1221.2 682.1,1216.5 683.2,1205.2 684.3,1204.6 685.5,1209.6 686.6,1213.1 687.7,1218.0 688.9,1221.4 690.0,1221.8 691.1,1219.6 692.2,1217.8 693.4,1219.0 694.5,1222.0 695.6,1224.2 696.7,1219.8 697.9,1214.6 699.0,1215.7 700.1,1215.9 701.2,1216.1 702.4,1222.3 703.5,1227.7 704.6,1226.6 705.8,1217.0 706.9,1211.1 708.0,1215.3 709.1,1217.1 710.3,1214.4 711.4,1214.0 712.5,1216.0 713.6,1214.5 714.8,1218.8 715.9,1228.0 717.0,1231.6 718.1,1233.7 719.3,1230.7 720.4,1224.8 721.5,1222.5 722.7,1223.8 723.8,1223.3 724.9,1222.8 726.0,1220.1 727.2,1214.1 728.3,1210.3 729.4,1207.2 730.5,1202.2 731.7,1197.0 732.8,1197.3 733.9,1197.5 735.0,1198.4 736.2,1205.8 737.3,1211.0 738.4,1209.9 739.6,1205.5 740.7,1204.1 741.8,1204.4 742.9,1203.7 744.1,1208.6 745.2,1209.0 746.3,1207.4 747.4,1211.3 748.6,1211.9 749.7,1208.7 750.8,1207.9 751.9,1210.1 753.1,1210.8 754.2,1211.6 755.3,1212.9 756.5,1212.4 757.6,1215.1 758.7,1218.9 759.8,1220.8 761.0,1227.2 762.1,1228.2 763.2,1228.0 764.3,1237.4 765.5,1238.0 766.6,1227.5 767.7,1223.5 768.8,1227.4 770.0,1227.2 771.1,1222.6 772.2,1214.3 773.4,1208.4 774.5,1211.8 775.6,1212.4 776.7,1210.3 777.9,1210.4 779.0,1207.3 780.1,1208.2 781.2,1214.1 782.4,1213.1 783.5,1209.7 784.6,1209.1 785.7,1211.9 786.9,1216.2 788.0,1217.1 789.1,1217.8 790.3,1219.1 791.4,1217.9 792.5,1219.9 793.6,1221.5 794.8,1221.0 795.9,1226.9 797.0,1232.4 798.1,1232.2 799.3,1233.2 800.4,1230.2 801.5,1220.8 802.6,1219.0 803.8,1223.1 804.9,1225.6 806.0,1228.1 807.2,1225.3 808.3,1221.9 809.4,1222.7 810.5,1220.6 811.7,1218.0 812.8,1221.5 813.9,1220.3 815.0,1209.4 816.2,1204.7 817.3,1211.1 818.4,1217.5 819.5,1212.0 820.7,1203.6 821.8,1203.2 822.9,1203.0 824.1,1203.2 825.2,1205.7 826.3,1204.5 827.4,1201.7 828.6,1202.5 829.7,1208.8 830.8,1212.7 831.9,1211.2 833.1,1208.9 834.2,1207.9 835.3,1210.7 836.4,1210.7 837.6,1208.8 838.7,1207.4 839.8,1203.6 841.0,1206.2 842.1,1212.3 843.2,1212.4 844.3,1210.0 845.5,1213.8 846.6,1218.9 847.7,1221.0 848.8,1222.6 850.0,1220.3 851.1,1218.4 852.2,1220.9 853.3,1222.3 854.5,1226.9 855.6,1235.0 856.7,1237.0 857.9,1232.9 859.0,1231.2 860.1,1234.1 861.2,1239.8 862.4,1248.6 863.5,1255.3 864.6,1254.0 865.7,1248.8 866.9,1244.6 868.0,1239.7 869.1,1238.6 870.2,1241.2 871.4,1236.6 872.5,1229.7 873.6,1232.0 874.8,1235.0 875.9,1234.3 877.0,1235.8 878.1,1235.0 879.3,1227.8 880.4,1221.6 881.5,1221.1 882.6,1219.5 883.8,1215.0 884.9,1207.5 886.0,1202.9 887.1,1204.6 888.3,1208.2" fill="none" stroke="#6adcdf" stroke-width="1.8" stroke-linejoin="round" opacity="0.93"/>
</g>
<line x1="411.60" y1="450.80" x2="411.60" y2="506.50" stroke="#000" stroke-width="0.9"/>
<line x1="411.60" y1="850.30" x2="411.60" y2="905.90" stroke="#000" stroke-width="0.9"/>
<line x1="411.60" y1="1251.90" x2="411.60" y2="1315.80" stroke="#000" stroke-width="0.9"/>
<g clip-path="url(#cp0)">
<line x1="92.55" y1="604.40" x2="116.05" y2="604.40" stroke="#c96a2b" stroke-width="1.3"/>
<line x1="104.30" y1="595.80" x2="104.30" y2="613.00" stroke="#c96a2b" stroke-width="5.81"/>
<line x1="105.20" y1="604.40" x2="125.33" y2="604.40" stroke="#c96a2b" stroke-width="1.3"/>
<line x1="115.26" y1="595.80" x2="115.26" y2="613.00" stroke="#c96a2b" stroke-width="2.5"/>
<line x1="111.42" y1="604.40" x2="131.54" y2="604.40" stroke="#c96a2b" stroke-width="1.3"/>
<line x1="121.48" y1="595.80" x2="121.48" y2="613.00" stroke="#c96a2b" stroke-width="2.5"/>
<line x1="129.84" y1="604.40" x2="149.96" y2="604.40" stroke="#c96a2b" stroke-width="1.3"/>
<line x1="139.90" y1="595.80" x2="139.90" y2="613.00" stroke="#c96a2b" stroke-width="2.5"/>
<line x1="155.16" y1="604.40" x2="175.29" y2="604.40" stroke="#c96a2b" stroke-width="1.3"/>
<line x1="165.23" y1="595.80" x2="165.23" y2="613.00" stroke="#c96a2b" stroke-width="2.5"/>
<line x1="166.68" y1="604.40" x2="186.80" y2="604.40" stroke="#c96a2b" stroke-width="1.3"/>
<line x1="176.74" y1="595.80" x2="176.74" y2="613.00" stroke="#c96a2b" stroke-width="2.5"/>
<line x1="195.46" y1="604.40" x2="215.59" y2="604.40" stroke="#c96a2b" stroke-width="1.3"/>
<line x1="205.52" y1="595.80" x2="205.52" y2="613.00" stroke="#c96a2b" stroke-width="2.5"/>
<line x1="205.27" y1="604.40" x2="226.53" y2="604.40" stroke="#c96a2b" stroke-width="1.3"/>
<line x1="215.90" y1="595.80" x2="215.90" y2="613.00" stroke="#c96a2b" stroke-width="3.2"/>
<line x1="230.00" y1="604.40" x2="250.12" y2="604.40" stroke="#c96a2b" stroke-width="1.3"/>
<line x1="240.06" y1="595.80" x2="240.06" y2="613.00" stroke="#c96a2b" stroke-width="2.5"/>
<line x1="246.12" y1="604.40" x2="266.24" y2="604.40" stroke="#c96a2b" stroke-width="1.3"/>
<line x1="256.18" y1="595.80" x2="256.18" y2="613.00" stroke="#c96a2b" stroke-width="2.5"/>
<line x1="248.88" y1="604.40" x2="269.01" y2="604.40" stroke="#c96a2b" stroke-width="1.3"/>
<line x1="258.94" y1="595.80" x2="258.94" y2="613.00" stroke="#c96a2b" stroke-width="2.5"/>
<line x1="284.11" y1="604.40" x2="304.23" y2="604.40" stroke="#c96a2b" stroke-width="1.3"/>
<line x1="294.17" y1="595.80" x2="294.17" y2="613.00" stroke="#c96a2b" stroke-width="2.5"/>
<line x1="288.71" y1="604.40" x2="308.84" y2="604.40" stroke="#c96a2b" stroke-width="1.3"/>
<line x1="298.78" y1="595.80" x2="298.78" y2="613.00" stroke="#c96a2b" stroke-width="2.5"/>
<line x1="318.65" y1="604.40" x2="338.77" y2="604.40" stroke="#c96a2b" stroke-width="1.3"/>
<line x1="328.71" y1="595.80" x2="328.71" y2="613.00" stroke="#c96a2b" stroke-width="2.5"/>
<line x1="332.46" y1="604.40" x2="352.59" y2="604.40" stroke="#c96a2b" stroke-width="1.3"/>
<line x1="342.52" y1="595.80" x2="342.52" y2="613.00" stroke="#c96a2b" stroke-width="2.5"/>
<line x1="342.82" y1="604.40" x2="362.95" y2="604.40" stroke="#c96a2b" stroke-width="1.3"/>
<line x1="352.89" y1="595.80" x2="352.89" y2="613.00" stroke="#c96a2b" stroke-width="2.5"/>
<line x1="384.27" y1="604.40" x2="404.40" y2="604.40" stroke="#c96a2b" stroke-width="1.3"/>
<line x1="394.33" y1="595.80" x2="394.33" y2="613.00" stroke="#c96a2b" stroke-width="2.5"/>
<line x1="401.54" y1="604.40" x2="421.66" y2="604.40" stroke="#c96a2b" stroke-width="1.3"/>
<line x1="411.60" y1="595.80" x2="411.60" y2="613.00" stroke="#c96a2b" stroke-width="2.5"/>
<line x1="419.96" y1="604.40" x2="440.09" y2="604.40" stroke="#c96a2b" stroke-width="1.3"/>
<line x1="430.02" y1="595.80" x2="430.02" y2="613.00" stroke="#c96a2b" stroke-width="2.5"/>
<line x1="429.17" y1="604.40" x2="449.30" y2="604.40" stroke="#c96a2b" stroke-width="1.3"/>
<line x1="439.23" y1="595.80" x2="439.23" y2="613.00" stroke="#c96a2b" stroke-width="2.5"/>
<line x1="438.38" y1="604.40" x2="458.51" y2="604.40" stroke="#c96a2b" stroke-width="1.3"/>
<line x1="448.44" y1="595.80" x2="448.44" y2="613.00" stroke="#c96a2b" stroke-width="2.5"/>
<line x1="451.04" y1="604.40" x2="471.17" y2="604.40" stroke="#c96a2b" stroke-width="1.3"/>
<line x1="461.11" y1="595.80" x2="461.11" y2="613.00" stroke="#c96a2b" stroke-width="2.5"/>
<line x1="475.22" y1="604.40" x2="495.35" y2="604.40" stroke="#c96a2b" stroke-width="1.3"/>
<line x1="485.28" y1="595.80" x2="485.28" y2="613.00" stroke="#c96a2b" stroke-width="2.5"/>
<line x1="482.13" y1="604.40" x2="502.25" y2="604.40" stroke="#c96a2b" stroke-width="1.3"/>
<line x1="492.19" y1="595.80" x2="492.19" y2="613.00" stroke="#c96a2b" stroke-width="2.5"/>
<line x1="482.24" y1="604.40" x2="502.37" y2="604.40" stroke="#c96a2b" stroke-width="1.3"/>
<line x1="492.30" y1="595.80" x2="492.30" y2="613.00" stroke="#c96a2b" stroke-width="2.5"/>
<line x1="504.57" y1="604.40" x2="524.70" y2="604.40" stroke="#c96a2b" stroke-width="1.3"/>
<line x1="514.64" y1="595.80" x2="514.64" y2="613.00" stroke="#c96a2b" stroke-width="2.5"/>
<line x1="527.14" y1="604.40" x2="547.27" y2="604.40" stroke="#c96a2b" stroke-width="1.3"/>
<line x1="537.20" y1="595.80" x2="537.20" y2="613.00" stroke="#c96a2b" stroke-width="2.5"/>
<line x1="537.50" y1="604.40" x2="557.63" y2="604.40" stroke="#c96a2b" stroke-width="1.3"/>
<line x1="547.56" y1="595.80" x2="547.56" y2="613.00" stroke="#c96a2b" stroke-width="2.5"/>
<line x1="623.85" y1="604.40" x2="643.97" y2="604.40" stroke="#c96a2b" stroke-width="1.3"/>
<line x1="633.91" y1="595.80" x2="633.91" y2="613.00" stroke="#c96a2b" stroke-width="2.5"/>
<line x1="659.54" y1="604.40" x2="679.66" y2="604.40" stroke="#c96a2b" stroke-width="1.3"/>
<line x1="669.60" y1="595.80" x2="669.60" y2="613.00" stroke="#c96a2b" stroke-width="2.5"/>
<line x1="709.50" y1="604.40" x2="729.63" y2="604.40" stroke="#c96a2b" stroke-width="1.3"/>
<line x1="719.56" y1="595.80" x2="719.56" y2="613.00" stroke="#c96a2b" stroke-width="2.5"/>
<line x1="760.39" y1="604.40" x2="780.51" y2="604.40" stroke="#c96a2b" stroke-width="1.3"/>
<line x1="770.45" y1="595.80" x2="770.45" y2="613.00" stroke="#c96a2b" stroke-width="2.5"/>
<line x1="779.27" y1="604.40" x2="799.40" y2="604.40" stroke="#c96a2b" stroke-width="1.3"/>
<line x1="789.33" y1="595.80" x2="789.33" y2="613.00" stroke="#c96a2b" stroke-width="2.5"/>
<line x1="797.69" y1="604.40" x2="817.82" y2="604.40" stroke="#c96a2b" stroke-width="1.3"/>
<line x1="807.75" y1="595.80" x2="807.75" y2="613.00" stroke="#c96a2b" stroke-width="2.5"/>
<line x1="845.68" y1="604.40" x2="870.32" y2="604.40" stroke="#c96a2b" stroke-width="1.3"/>
<line x1="858.00" y1="595.80" x2="858.00" y2="613.00" stroke="#c96a2b" stroke-width="6.94"/>
<line x1="864.92" y1="604.40" x2="885.05" y2="604.40" stroke="#c96a2b" stroke-width="1.3"/>
<line x1="874.99" y1="595.80" x2="874.99" y2="613.00" stroke="#c96a2b" stroke-width="2.5"/>
<line x1="92.55" y1="585.00" x2="116.05" y2="585.00" stroke="#7c1d1f" stroke-width="1.3"/>
<line x1="104.30" y1="576.40" x2="104.30" y2="593.60" stroke="#7c1d1f" stroke-width="5.81"/>
<line x1="110.97" y1="585.00" x2="132.23" y2="585.00" stroke="#7c1d1f" stroke-width="1.3"/>
<line x1="121.60" y1="576.40" x2="121.60" y2="593.60" stroke="#7c1d1f" stroke-width="3.2"/>
<line x1="205.26" y1="585.00" x2="226.51" y2="585.00" stroke="#7c1d1f" stroke-width="1.3"/>
<line x1="215.88" y1="576.40" x2="215.88" y2="593.60" stroke="#7c1d1f" stroke-width="3.2"/>
<line x1="283.54" y1="585.00" x2="304.80" y2="585.00" stroke="#7c1d1f" stroke-width="1.3"/>
<line x1="294.17" y1="576.40" x2="294.17" y2="593.60" stroke="#7c1d1f" stroke-width="3.2"/>
<line x1="318.08" y1="585.00" x2="339.34" y2="585.00" stroke="#7c1d1f" stroke-width="1.3"/>
<line x1="328.71" y1="576.40" x2="328.71" y2="593.60" stroke="#7c1d1f" stroke-width="3.2"/>
<line x1="342.26" y1="585.00" x2="363.51" y2="585.00" stroke="#7c1d1f" stroke-width="1.3"/>
<line x1="352.89" y1="576.40" x2="352.89" y2="593.60" stroke="#7c1d1f" stroke-width="3.2"/>
<line x1="428.57" y1="585.00" x2="449.83" y2="585.00" stroke="#7c1d1f" stroke-width="1.3"/>
<line x1="439.20" y1="576.40" x2="439.20" y2="593.60" stroke="#7c1d1f" stroke-width="3.2"/>
<line x1="437.77" y1="585.00" x2="459.03" y2="585.00" stroke="#7c1d1f" stroke-width="1.3"/>
<line x1="448.40" y1="576.40" x2="448.40" y2="593.60" stroke="#7c1d1f" stroke-width="3.2"/>
<line x1="504.01" y1="585.00" x2="525.26" y2="585.00" stroke="#7c1d1f" stroke-width="1.3"/>
<line x1="514.64" y1="576.40" x2="514.64" y2="593.60" stroke="#7c1d1f" stroke-width="3.2"/>
<line x1="526.58" y1="585.00" x2="547.83" y2="585.00" stroke="#7c1d1f" stroke-width="1.3"/>
<line x1="537.20" y1="576.40" x2="537.20" y2="593.60" stroke="#7c1d1f" stroke-width="3.2"/>
<line x1="708.94" y1="585.00" x2="730.19" y2="585.00" stroke="#7c1d1f" stroke-width="1.3"/>
<line x1="719.56" y1="576.40" x2="719.56" y2="593.60" stroke="#7c1d1f" stroke-width="3.2"/>
<line x1="797.13" y1="585.00" x2="818.38" y2="585.00" stroke="#7c1d1f" stroke-width="1.3"/>
<line x1="807.75" y1="576.40" x2="807.75" y2="593.60" stroke="#7c1d1f" stroke-width="3.2"/>
<line x1="846.25" y1="585.00" x2="869.75" y2="585.00" stroke="#7c1d1f" stroke-width="1.3"/>
<line x1="858.00" y1="576.40" x2="858.00" y2="593.60" stroke="#7c1d1f" stroke-width="5.81"/>
<line x1="94.37" y1="565.50" x2="115.63" y2="565.50" stroke="#ea2a2c" stroke-width="1.3"/>
<line x1="105.00" y1="556.90" x2="105.00" y2="574.10" stroke="#ea2a2c" stroke-width="3.2"/>
<line x1="428.57" y1="565.50" x2="449.83" y2="565.50" stroke="#ea2a2c" stroke-width="1.3"/>
<line x1="439.20" y1="556.90" x2="439.20" y2="574.10" stroke="#ea2a2c" stroke-width="3.2"/>
<line x1="797.17" y1="565.50" x2="818.43" y2="565.50" stroke="#ea2a2c" stroke-width="1.3"/>
<line x1="807.80" y1="556.90" x2="807.80" y2="574.10" stroke="#ea2a2c" stroke-width="3.2"/>
<line x1="95.67" y1="547.00" x2="116.93" y2="547.00" stroke="#c468b8" stroke-width="1.3"/>
<line x1="106.30" y1="538.40" x2="106.30" y2="555.60" stroke="#c468b8" stroke-width="3.2"/>
<line x1="205.82" y1="547.00" x2="225.95" y2="547.00" stroke="#c468b8" stroke-width="1.3"/>
<line x1="215.88" y1="538.40" x2="215.88" y2="555.60" stroke="#c468b8" stroke-width="2.5"/>
<line x1="247.96" y1="547.00" x2="268.08" y2="547.00" stroke="#c468b8" stroke-width="1.3"/>
<line x1="258.02" y1="538.40" x2="258.02" y2="555.60" stroke="#c468b8" stroke-width="2.5"/>
<line x1="318.65" y1="547.00" x2="338.77" y2="547.00" stroke="#c468b8" stroke-width="1.3"/>
<line x1="328.71" y1="538.40" x2="328.71" y2="555.60" stroke="#c468b8" stroke-width="2.5"/>
<line x1="428.57" y1="547.00" x2="449.83" y2="547.00" stroke="#c468b8" stroke-width="1.3"/>
<line x1="439.20" y1="538.40" x2="439.20" y2="555.60" stroke="#c468b8" stroke-width="3.2"/>
<line x1="797.17" y1="547.00" x2="818.43" y2="547.00" stroke="#c468b8" stroke-width="1.3"/>
<line x1="807.80" y1="538.40" x2="807.80" y2="555.60" stroke="#c468b8" stroke-width="3.2"/>
<line x1="846.04" y1="547.00" x2="866.17" y2="547.00" stroke="#c468b8" stroke-width="1.3"/>
<line x1="856.11" y1="538.40" x2="856.11" y2="555.60" stroke="#c468b8" stroke-width="2.5"/>
<line x1="865.61" y1="547.00" x2="885.74" y2="547.00" stroke="#c468b8" stroke-width="1.3"/>
<line x1="875.68" y1="538.40" x2="875.68" y2="555.60" stroke="#c468b8" stroke-width="2.5"/>
</g>
<g clip-path="url(#cp1)">
<line x1="94.77" y1="1006.00" x2="116.03" y2="1006.00" stroke="#c96a2b" stroke-width="1.3"/>
<line x1="105.40" y1="997.40" x2="105.40" y2="1014.60" stroke="#c96a2b" stroke-width="3.2"/>
<line x1="105.20" y1="1006.00" x2="125.33" y2="1006.00" stroke="#c96a2b" stroke-width="1.3"/>
<line x1="115.26" y1="997.40" x2="115.26" y2="1014.60" stroke="#c96a2b" stroke-width="2.5"/>
<line x1="129.84" y1="1006.00" x2="149.96" y2="1006.00" stroke="#c96a2b" stroke-width="1.3"/>
<line x1="139.90" y1="997.40" x2="139.90" y2="1014.60" stroke="#c96a2b" stroke-width="2.5"/>
<line x1="155.16" y1="1006.00" x2="175.29" y2="1006.00" stroke="#c96a2b" stroke-width="1.3"/>
<line x1="165.23" y1="997.40" x2="165.23" y2="1014.60" stroke="#c96a2b" stroke-width="2.5"/>
<line x1="166.68" y1="1006.00" x2="186.80" y2="1006.00" stroke="#c96a2b" stroke-width="1.3"/>
<line x1="176.74" y1="997.40" x2="176.74" y2="1014.60" stroke="#c96a2b" stroke-width="2.5"/>
<line x1="205.27" y1="1006.00" x2="226.53" y2="1006.00" stroke="#c96a2b" stroke-width="1.3"/>
<line x1="215.90" y1="997.40" x2="215.90" y2="1014.60" stroke="#c96a2b" stroke-width="3.2"/>
<line x1="230.00" y1="1006.00" x2="250.12" y2="1006.00" stroke="#c96a2b" stroke-width="1.3"/>
<line x1="240.06" y1="997.40" x2="240.06" y2="1014.60" stroke="#c96a2b" stroke-width="2.5"/>
<line x1="246.12" y1="1006.00" x2="266.24" y2="1006.00" stroke="#c96a2b" stroke-width="1.3"/>
<line x1="256.18" y1="997.40" x2="256.18" y2="1014.60" stroke="#c96a2b" stroke-width="2.5"/>
<line x1="248.88" y1="1006.00" x2="269.01" y2="1006.00" stroke="#c96a2b" stroke-width="1.3"/>
<line x1="258.94" y1="997.40" x2="258.94" y2="1014.60" stroke="#c96a2b" stroke-width="2.5"/>
<line x1="284.11" y1="1006.00" x2="304.23" y2="1006.00" stroke="#c96a2b" stroke-width="1.3"/>
<line x1="294.17" y1="997.40" x2="294.17" y2="1014.60" stroke="#c96a2b" stroke-width="2.5"/>
<line x1="288.71" y1="1006.00" x2="308.84" y2="1006.00" stroke="#c96a2b" stroke-width="1.3"/>
<line x1="298.78" y1="997.40" x2="298.78" y2="1014.60" stroke="#c96a2b" stroke-width="2.5"/>
<line x1="318.65" y1="1006.00" x2="338.77" y2="1006.00" stroke="#c96a2b" stroke-width="1.3"/>
<line x1="328.71" y1="997.40" x2="328.71" y2="1014.60" stroke="#c96a2b" stroke-width="2.5"/>
<line x1="342.82" y1="1006.00" x2="362.95" y2="1006.00" stroke="#c96a2b" stroke-width="1.3"/>
<line x1="352.89" y1="997.40" x2="352.89" y2="1014.60" stroke="#c96a2b" stroke-width="2.5"/>
<line x1="384.27" y1="1006.00" x2="404.40" y2="1006.00" stroke="#c96a2b" stroke-width="1.3"/>
<line x1="394.33" y1="997.40" x2="394.33" y2="1014.60" stroke="#c96a2b" stroke-width="2.5"/>
<line x1="401.54" y1="1006.00" x2="421.66" y2="1006.00" stroke="#c96a2b" stroke-width="1.3"/>
<line x1="411.60" y1="997.40" x2="411.60" y2="1014.60" stroke="#c96a2b" stroke-width="2.5"/>
<line x1="429.17" y1="1006.00" x2="449.30" y2="1006.00" stroke="#c96a2b" stroke-width="1.3"/>
<line x1="439.23" y1="997.40" x2="439.23" y2="1014.60" stroke="#c96a2b" stroke-width="2.5"/>
<line x1="438.38" y1="1006.00" x2="458.51" y2="1006.00" stroke="#c96a2b" stroke-width="1.3"/>
<line x1="448.44" y1="997.40" x2="448.44" y2="1014.60" stroke="#c96a2b" stroke-width="2.5"/>
<line x1="451.04" y1="1006.00" x2="471.17" y2="1006.00" stroke="#c96a2b" stroke-width="1.3"/>
<line x1="461.11" y1="997.40" x2="461.11" y2="1014.60" stroke="#c96a2b" stroke-width="2.5"/>
<line x1="475.22" y1="1006.00" x2="495.35" y2="1006.00" stroke="#c96a2b" stroke-width="1.3"/>
<line x1="485.28" y1="997.40" x2="485.28" y2="1014.60" stroke="#c96a2b" stroke-width="2.5"/>
<line x1="482.13" y1="1006.00" x2="502.25" y2="1006.00" stroke="#c96a2b" stroke-width="1.3"/>
<line x1="492.19" y1="997.40" x2="492.19" y2="1014.60" stroke="#c96a2b" stroke-width="2.5"/>
<line x1="482.24" y1="1006.00" x2="502.37" y2="1006.00" stroke="#c96a2b" stroke-width="1.3"/>
<line x1="492.30" y1="997.40" x2="492.30" y2="1014.60" stroke="#c96a2b" stroke-width="2.5"/>
<line x1="504.57" y1="1006.00" x2="524.70" y2="1006.00" stroke="#c96a2b" stroke-width="1.3"/>
<line x1="514.64" y1="997.40" x2="514.64" y2="1014.60" stroke="#c96a2b" stroke-width="2.5"/>
<line x1="527.14" y1="1006.00" x2="547.27" y2="1006.00" stroke="#c96a2b" stroke-width="1.3"/>
<line x1="537.20" y1="997.40" x2="537.20" y2="1014.60" stroke="#c96a2b" stroke-width="2.5"/>
<line x1="537.50" y1="1006.00" x2="557.63" y2="1006.00" stroke="#c96a2b" stroke-width="1.3"/>
<line x1="547.56" y1="997.40" x2="547.56" y2="1014.60" stroke="#c96a2b" stroke-width="2.5"/>
<line x1="623.85" y1="1006.00" x2="643.97" y2="1006.00" stroke="#c96a2b" stroke-width="1.3"/>
<line x1="633.91" y1="997.40" x2="633.91" y2="1014.60" stroke="#c96a2b" stroke-width="2.5"/>
<line x1="659.54" y1="1006.00" x2="679.66" y2="1006.00" stroke="#c96a2b" stroke-width="1.3"/>
<line x1="669.60" y1="997.40" x2="669.60" y2="1014.60" stroke="#c96a2b" stroke-width="2.5"/>
<line x1="707.85" y1="1006.00" x2="731.35" y2="1006.00" stroke="#c96a2b" stroke-width="1.3"/>
<line x1="719.60" y1="997.40" x2="719.60" y2="1014.60" stroke="#c96a2b" stroke-width="5.81"/>
<line x1="760.39" y1="1006.00" x2="780.51" y2="1006.00" stroke="#c96a2b" stroke-width="1.3"/>
<line x1="770.45" y1="997.40" x2="770.45" y2="1014.60" stroke="#c96a2b" stroke-width="2.5"/>
<line x1="779.27" y1="1006.00" x2="799.40" y2="1006.00" stroke="#c96a2b" stroke-width="1.3"/>
<line x1="789.33" y1="997.40" x2="789.33" y2="1014.60" stroke="#c96a2b" stroke-width="2.5"/>
<line x1="797.69" y1="1006.00" x2="817.82" y2="1006.00" stroke="#c96a2b" stroke-width="1.3"/>
<line x1="807.75" y1="997.40" x2="807.75" y2="1014.60" stroke="#c96a2b" stroke-width="2.5"/>
<line x1="846.04" y1="1006.00" x2="866.17" y2="1006.00" stroke="#c96a2b" stroke-width="1.3"/>
<line x1="856.11" y1="997.40" x2="856.11" y2="1014.60" stroke="#c96a2b" stroke-width="2.5"/>
<line x1="849.04" y1="1006.00" x2="869.16" y2="1006.00" stroke="#c96a2b" stroke-width="1.3"/>
<line x1="859.10" y1="997.40" x2="859.10" y2="1014.60" stroke="#c96a2b" stroke-width="2.5"/>
<line x1="864.92" y1="1006.00" x2="885.05" y2="1006.00" stroke="#c96a2b" stroke-width="1.3"/>
<line x1="874.99" y1="997.40" x2="874.99" y2="1014.60" stroke="#c96a2b" stroke-width="2.5"/>
<line x1="94.77" y1="986.60" x2="116.03" y2="986.60" stroke="#7c1d1f" stroke-width="1.3"/>
<line x1="105.40" y1="978.00" x2="105.40" y2="995.20" stroke="#7c1d1f" stroke-width="3.2"/>
<line x1="205.26" y1="986.60" x2="226.51" y2="986.60" stroke="#7c1d1f" stroke-width="1.3"/>
<line x1="215.88" y1="978.00" x2="215.88" y2="995.20" stroke="#7c1d1f" stroke-width="3.2"/>
<line x1="283.54" y1="986.60" x2="304.80" y2="986.60" stroke="#7c1d1f" stroke-width="1.3"/>
<line x1="294.17" y1="978.00" x2="294.17" y2="995.20" stroke="#7c1d1f" stroke-width="3.2"/>
<line x1="318.08" y1="986.60" x2="339.34" y2="986.60" stroke="#7c1d1f" stroke-width="1.3"/>
<line x1="328.71" y1="978.00" x2="328.71" y2="995.20" stroke="#7c1d1f" stroke-width="3.2"/>
<line x1="342.26" y1="986.60" x2="363.51" y2="986.60" stroke="#7c1d1f" stroke-width="1.3"/>
<line x1="352.89" y1="978.00" x2="352.89" y2="995.20" stroke="#7c1d1f" stroke-width="3.2"/>
<line x1="428.57" y1="986.60" x2="449.83" y2="986.60" stroke="#7c1d1f" stroke-width="1.3"/>
<line x1="439.20" y1="978.00" x2="439.20" y2="995.20" stroke="#7c1d1f" stroke-width="3.2"/>
<line x1="437.77" y1="986.60" x2="459.03" y2="986.60" stroke="#7c1d1f" stroke-width="1.3"/>
<line x1="448.40" y1="978.00" x2="448.40" y2="995.20" stroke="#7c1d1f" stroke-width="3.2"/>
<line x1="504.01" y1="986.60" x2="525.26" y2="986.60" stroke="#7c1d1f" stroke-width="1.3"/>
<line x1="514.64" y1="978.00" x2="514.64" y2="995.20" stroke="#7c1d1f" stroke-width="3.2"/>
<line x1="526.58" y1="986.60" x2="547.83" y2="986.60" stroke="#7c1d1f" stroke-width="1.3"/>
<line x1="537.20" y1="978.00" x2="537.20" y2="995.20" stroke="#7c1d1f" stroke-width="3.2"/>
<line x1="707.85" y1="986.60" x2="731.35" y2="986.60" stroke="#7c1d1f" stroke-width="1.3"/>
<line x1="719.60" y1="978.00" x2="719.60" y2="995.20" stroke="#7c1d1f" stroke-width="5.81"/>
<line x1="797.13" y1="986.60" x2="818.38" y2="986.60" stroke="#7c1d1f" stroke-width="1.3"/>
<line x1="807.75" y1="978.00" x2="807.75" y2="995.20" stroke="#7c1d1f" stroke-width="3.2"/>
<line x1="94.37" y1="967.10" x2="115.63" y2="967.10" stroke="#ea2a2c" stroke-width="1.3"/>
<line x1="105.00" y1="958.50" x2="105.00" y2="975.70" stroke="#ea2a2c" stroke-width="3.2"/>
<line x1="428.57" y1="967.10" x2="449.83" y2="967.10" stroke="#ea2a2c" stroke-width="1.3"/>
<line x1="439.20" y1="958.50" x2="439.20" y2="975.70" stroke="#ea2a2c" stroke-width="3.2"/>
<line x1="797.17" y1="967.10" x2="818.43" y2="967.10" stroke="#ea2a2c" stroke-width="1.3"/>
<line x1="807.80" y1="958.50" x2="807.80" y2="975.70" stroke="#ea2a2c" stroke-width="3.2"/>
<line x1="94.87" y1="948.60" x2="116.13" y2="948.60" stroke="#c468b8" stroke-width="1.3"/>
<line x1="105.50" y1="940.00" x2="105.50" y2="957.20" stroke="#c468b8" stroke-width="3.2"/>
<line x1="129.84" y1="948.60" x2="149.96" y2="948.60" stroke="#c468b8" stroke-width="1.3"/>
<line x1="139.90" y1="940.00" x2="139.90" y2="957.20" stroke="#c468b8" stroke-width="2.5"/>
<line x1="318.65" y1="948.60" x2="338.77" y2="948.60" stroke="#c468b8" stroke-width="1.3"/>
<line x1="328.71" y1="940.00" x2="328.71" y2="957.20" stroke="#c468b8" stroke-width="2.5"/>
<line x1="428.57" y1="948.60" x2="449.83" y2="948.60" stroke="#c468b8" stroke-width="1.3"/>
<line x1="439.20" y1="940.00" x2="439.20" y2="957.20" stroke="#c468b8" stroke-width="3.2"/>
<line x1="504.57" y1="948.60" x2="524.70" y2="948.60" stroke="#c468b8" stroke-width="1.3"/>
<line x1="514.64" y1="940.00" x2="514.64" y2="957.20" stroke="#c468b8" stroke-width="2.5"/>
<line x1="797.17" y1="948.60" x2="818.43" y2="948.60" stroke="#c468b8" stroke-width="1.3"/>
<line x1="807.80" y1="940.00" x2="807.80" y2="957.20" stroke="#c468b8" stroke-width="3.2"/>
</g>
<g clip-path="url(#cp2)">
<line x1="90.99" y1="1406.80" x2="119.01" y2="1406.80" stroke="#c96a2b" stroke-width="1.3"/>
<line x1="105.00" y1="1398.20" x2="105.00" y2="1415.40" stroke="#c96a2b" stroke-width="10.33"/>
<line x1="105.20" y1="1406.80" x2="125.33" y2="1406.80" stroke="#c96a2b" stroke-width="1.3"/>
<line x1="115.26" y1="1398.20" x2="115.26" y2="1415.40" stroke="#c96a2b" stroke-width="2.5"/>
<line x1="111.42" y1="1406.80" x2="131.54" y2="1406.80" stroke="#c96a2b" stroke-width="1.3"/>
<line x1="121.48" y1="1398.20" x2="121.48" y2="1415.40" stroke="#c96a2b" stroke-width="2.5"/>
<line x1="129.84" y1="1406.80" x2="149.96" y2="1406.80" stroke="#c96a2b" stroke-width="1.3"/>
<line x1="139.90" y1="1398.20" x2="139.90" y2="1415.40" stroke="#c96a2b" stroke-width="2.5"/>
<line x1="150.11" y1="1406.80" x2="172.49" y2="1406.80" stroke="#c96a2b" stroke-width="1.3"/>
<line x1="161.30" y1="1398.20" x2="161.30" y2="1415.40" stroke="#c96a2b" stroke-width="4.69"/>
<line x1="156.32" y1="1406.80" x2="176.44" y2="1406.80" stroke="#c96a2b" stroke-width="1.3"/>
<line x1="166.38" y1="1398.20" x2="166.38" y2="1415.40" stroke="#c96a2b" stroke-width="2.5"/>
<line x1="166.68" y1="1406.80" x2="186.80" y2="1406.80" stroke="#c96a2b" stroke-width="1.3"/>
<line x1="176.74" y1="1398.20" x2="176.74" y2="1415.40" stroke="#c96a2b" stroke-width="2.5"/>
<line x1="205.82" y1="1406.80" x2="225.95" y2="1406.80" stroke="#c96a2b" stroke-width="1.3"/>
<line x1="215.88" y1="1398.20" x2="215.88" y2="1415.40" stroke="#c96a2b" stroke-width="2.5"/>
<line x1="244.18" y1="1406.80" x2="268.82" y2="1406.80" stroke="#c96a2b" stroke-width="1.3"/>
<line x1="256.50" y1="1398.20" x2="256.50" y2="1415.40" stroke="#c96a2b" stroke-width="6.94"/>
<line x1="284.11" y1="1406.80" x2="304.23" y2="1406.80" stroke="#c96a2b" stroke-width="1.3"/>
<line x1="294.17" y1="1398.20" x2="294.17" y2="1415.40" stroke="#c96a2b" stroke-width="2.5"/>
<line x1="288.71" y1="1406.80" x2="308.84" y2="1406.80" stroke="#c96a2b" stroke-width="1.3"/>
<line x1="298.78" y1="1398.20" x2="298.78" y2="1415.40" stroke="#c96a2b" stroke-width="2.5"/>
<line x1="318.65" y1="1406.80" x2="338.77" y2="1406.80" stroke="#c96a2b" stroke-width="1.3"/>
<line x1="328.71" y1="1398.20" x2="328.71" y2="1415.40" stroke="#c96a2b" stroke-width="2.5"/>
<line x1="342.82" y1="1406.80" x2="362.95" y2="1406.80" stroke="#c96a2b" stroke-width="1.3"/>
<line x1="352.89" y1="1398.20" x2="352.89" y2="1415.40" stroke="#c96a2b" stroke-width="2.5"/>
<line x1="384.27" y1="1406.80" x2="404.40" y2="1406.80" stroke="#c96a2b" stroke-width="1.3"/>
<line x1="394.33" y1="1398.20" x2="394.33" y2="1415.40" stroke="#c96a2b" stroke-width="2.5"/>
<line x1="401.54" y1="1406.80" x2="421.66" y2="1406.80" stroke="#c96a2b" stroke-width="1.3"/>
<line x1="411.60" y1="1398.20" x2="411.60" y2="1415.40" stroke="#c96a2b" stroke-width="2.5"/>
<line x1="428.57" y1="1406.80" x2="449.83" y2="1406.80" stroke="#c96a2b" stroke-width="1.3"/>
<line x1="439.20" y1="1398.20" x2="439.20" y2="1415.40" stroke="#c96a2b" stroke-width="3.2"/>
<line x1="434.44" y1="1406.80" x2="454.56" y2="1406.80" stroke="#c96a2b" stroke-width="1.3"/>
<line x1="444.50" y1="1398.20" x2="444.50" y2="1415.40" stroke="#c96a2b" stroke-width="2.5"/>
<line x1="438.38" y1="1406.80" x2="458.51" y2="1406.80" stroke="#c96a2b" stroke-width="1.3"/>
<line x1="448.44" y1="1398.20" x2="448.44" y2="1415.40" stroke="#c96a2b" stroke-width="2.5"/>
<line x1="451.04" y1="1406.80" x2="471.17" y2="1406.80" stroke="#c96a2b" stroke-width="1.3"/>
<line x1="461.11" y1="1398.20" x2="461.11" y2="1415.40" stroke="#c96a2b" stroke-width="2.5"/>
<line x1="475.22" y1="1406.80" x2="495.35" y2="1406.80" stroke="#c96a2b" stroke-width="1.3"/>
<line x1="485.28" y1="1398.20" x2="485.28" y2="1415.40" stroke="#c96a2b" stroke-width="2.5"/>
<line x1="482.13" y1="1406.80" x2="502.25" y2="1406.80" stroke="#c96a2b" stroke-width="1.3"/>
<line x1="492.19" y1="1398.20" x2="492.19" y2="1415.40" stroke="#c96a2b" stroke-width="2.5"/>
<line x1="482.24" y1="1406.80" x2="502.37" y2="1406.80" stroke="#c96a2b" stroke-width="1.3"/>
<line x1="492.30" y1="1398.20" x2="492.30" y2="1415.40" stroke="#c96a2b" stroke-width="2.5"/>
<line x1="504.57" y1="1406.80" x2="524.70" y2="1406.80" stroke="#c96a2b" stroke-width="1.3"/>
<line x1="514.64" y1="1398.20" x2="514.64" y2="1415.40" stroke="#c96a2b" stroke-width="2.5"/>
<line x1="527.14" y1="1406.80" x2="547.27" y2="1406.80" stroke="#c96a2b" stroke-width="1.3"/>
<line x1="537.20" y1="1398.20" x2="537.20" y2="1415.40" stroke="#c96a2b" stroke-width="2.5"/>
<line x1="537.50" y1="1406.80" x2="557.63" y2="1406.80" stroke="#c96a2b" stroke-width="1.3"/>
<line x1="547.56" y1="1398.20" x2="547.56" y2="1415.40" stroke="#c96a2b" stroke-width="2.5"/>
<line x1="623.85" y1="1406.80" x2="643.97" y2="1406.80" stroke="#c96a2b" stroke-width="1.3"/>
<line x1="633.91" y1="1398.20" x2="633.91" y2="1415.40" stroke="#c96a2b" stroke-width="2.5"/>
<line x1="659.54" y1="1406.80" x2="679.66" y2="1406.80" stroke="#c96a2b" stroke-width="1.3"/>
<line x1="669.60" y1="1398.20" x2="669.60" y2="1415.40" stroke="#c96a2b" stroke-width="2.5"/>
<line x1="707.85" y1="1406.80" x2="731.35" y2="1406.80" stroke="#c96a2b" stroke-width="1.3"/>
<line x1="719.60" y1="1398.20" x2="719.60" y2="1415.40" stroke="#c96a2b" stroke-width="5.81"/>
<line x1="760.39" y1="1406.80" x2="780.51" y2="1406.80" stroke="#c96a2b" stroke-width="1.3"/>
<line x1="770.45" y1="1398.20" x2="770.45" y2="1415.40" stroke="#c96a2b" stroke-width="2.5"/>
<line x1="779.27" y1="1406.80" x2="799.40" y2="1406.80" stroke="#c96a2b" stroke-width="1.3"/>
<line x1="789.33" y1="1398.20" x2="789.33" y2="1415.40" stroke="#c96a2b" stroke-width="2.5"/>
<line x1="797.69" y1="1406.80" x2="817.82" y2="1406.80" stroke="#c96a2b" stroke-width="1.3"/>
<line x1="807.75" y1="1398.20" x2="807.75" y2="1415.40" stroke="#c96a2b" stroke-width="2.5"/>
<line x1="846.04" y1="1406.80" x2="866.17" y2="1406.80" stroke="#c96a2b" stroke-width="1.3"/>
<line x1="856.11" y1="1398.20" x2="856.11" y2="1415.40" stroke="#c96a2b" stroke-width="2.5"/>
<line x1="849.04" y1="1406.80" x2="869.16" y2="1406.80" stroke="#c96a2b" stroke-width="1.3"/>
<line x1="859.10" y1="1398.20" x2="859.10" y2="1415.40" stroke="#c96a2b" stroke-width="2.5"/>
<line x1="864.11" y1="1406.80" x2="886.49" y2="1406.80" stroke="#c96a2b" stroke-width="1.3"/>
<line x1="875.30" y1="1398.20" x2="875.30" y2="1415.40" stroke="#c96a2b" stroke-width="4.69"/>
<line x1="90.99" y1="1387.40" x2="119.01" y2="1387.40" stroke="#7c1d1f" stroke-width="1.3"/>
<line x1="105.00" y1="1378.80" x2="105.00" y2="1396.00" stroke="#7c1d1f" stroke-width="10.33"/>
<line x1="110.97" y1="1387.40" x2="132.23" y2="1387.40" stroke="#7c1d1f" stroke-width="1.3"/>
<line x1="121.60" y1="1378.80" x2="121.60" y2="1396.00" stroke="#7c1d1f" stroke-width="3.2"/>
<line x1="150.11" y1="1387.40" x2="172.49" y2="1387.40" stroke="#7c1d1f" stroke-width="1.3"/>
<line x1="161.30" y1="1378.80" x2="161.30" y2="1396.00" stroke="#7c1d1f" stroke-width="4.69"/>
<line x1="205.26" y1="1387.40" x2="226.51" y2="1387.40" stroke="#7c1d1f" stroke-width="1.3"/>
<line x1="215.88" y1="1378.80" x2="215.88" y2="1396.00" stroke="#7c1d1f" stroke-width="3.2"/>
<line x1="247.31" y1="1387.40" x2="269.69" y2="1387.40" stroke="#7c1d1f" stroke-width="1.3"/>
<line x1="258.50" y1="1378.80" x2="258.50" y2="1396.00" stroke="#7c1d1f" stroke-width="4.69"/>
<line x1="283.54" y1="1387.40" x2="304.80" y2="1387.40" stroke="#7c1d1f" stroke-width="1.3"/>
<line x1="294.17" y1="1378.80" x2="294.17" y2="1396.00" stroke="#7c1d1f" stroke-width="3.2"/>
<line x1="318.08" y1="1387.40" x2="339.34" y2="1387.40" stroke="#7c1d1f" stroke-width="1.3"/>
<line x1="328.71" y1="1378.80" x2="328.71" y2="1396.00" stroke="#7c1d1f" stroke-width="3.2"/>
<line x1="342.26" y1="1387.40" x2="363.51" y2="1387.40" stroke="#7c1d1f" stroke-width="1.3"/>
<line x1="352.89" y1="1378.80" x2="352.89" y2="1396.00" stroke="#7c1d1f" stroke-width="3.2"/>
<line x1="428.57" y1="1387.40" x2="449.83" y2="1387.40" stroke="#7c1d1f" stroke-width="1.3"/>
<line x1="439.20" y1="1378.80" x2="439.20" y2="1396.00" stroke="#7c1d1f" stroke-width="3.2"/>
<line x1="437.77" y1="1387.40" x2="459.03" y2="1387.40" stroke="#7c1d1f" stroke-width="1.3"/>
<line x1="448.40" y1="1378.80" x2="448.40" y2="1396.00" stroke="#7c1d1f" stroke-width="3.2"/>
<line x1="504.01" y1="1387.40" x2="525.26" y2="1387.40" stroke="#7c1d1f" stroke-width="1.3"/>
<line x1="514.64" y1="1378.80" x2="514.64" y2="1396.00" stroke="#7c1d1f" stroke-width="3.2"/>
<line x1="708.41" y1="1387.40" x2="730.79" y2="1387.40" stroke="#7c1d1f" stroke-width="1.3"/>
<line x1="719.60" y1="1378.80" x2="719.60" y2="1396.00" stroke="#7c1d1f" stroke-width="4.69"/>
<line x1="797.13" y1="1387.40" x2="818.38" y2="1387.40" stroke="#7c1d1f" stroke-width="1.3"/>
<line x1="807.75" y1="1378.80" x2="807.75" y2="1396.00" stroke="#7c1d1f" stroke-width="3.2"/>
<line x1="864.11" y1="1387.40" x2="886.49" y2="1387.40" stroke="#7c1d1f" stroke-width="1.3"/>
<line x1="875.30" y1="1378.80" x2="875.30" y2="1396.00" stroke="#7c1d1f" stroke-width="4.69"/>
<line x1="94.37" y1="1367.90" x2="115.63" y2="1367.90" stroke="#ea2a2c" stroke-width="1.3"/>
<line x1="105.00" y1="1359.30" x2="105.00" y2="1376.50" stroke="#ea2a2c" stroke-width="3.2"/>
<line x1="428.57" y1="1367.90" x2="449.83" y2="1367.90" stroke="#ea2a2c" stroke-width="1.3"/>
<line x1="439.20" y1="1359.30" x2="439.20" y2="1376.50" stroke="#ea2a2c" stroke-width="3.2"/>
<line x1="797.17" y1="1367.90" x2="818.43" y2="1367.90" stroke="#ea2a2c" stroke-width="1.3"/>
<line x1="807.80" y1="1359.30" x2="807.80" y2="1376.50" stroke="#ea2a2c" stroke-width="3.2"/>
<line x1="94.67" y1="1349.40" x2="115.93" y2="1349.40" stroke="#c468b8" stroke-width="1.3"/>
<line x1="105.30" y1="1340.80" x2="105.30" y2="1358.00" stroke="#c468b8" stroke-width="3.2"/>
<line x1="129.84" y1="1349.40" x2="149.96" y2="1349.40" stroke="#c468b8" stroke-width="1.3"/>
<line x1="139.90" y1="1340.80" x2="139.90" y2="1358.00" stroke="#c468b8" stroke-width="2.5"/>
<line x1="428.57" y1="1349.40" x2="449.83" y2="1349.40" stroke="#c468b8" stroke-width="1.3"/>
<line x1="439.20" y1="1340.80" x2="439.20" y2="1358.00" stroke="#c468b8" stroke-width="3.2"/>
<line x1="623.85" y1="1349.40" x2="643.97" y2="1349.40" stroke="#c468b8" stroke-width="1.3"/>
<line x1="633.91" y1="1340.80" x2="633.91" y2="1358.00" stroke="#c468b8" stroke-width="2.5"/>
<line x1="797.17" y1="1349.40" x2="818.43" y2="1349.40" stroke="#c468b8" stroke-width="1.3"/>
<line x1="807.80" y1="1340.80" x2="807.80" y2="1358.00" stroke="#c468b8" stroke-width="3.2"/>
</g>
<rect x="100.90" y="221.20" width="639.10" height="67.80" fill="#fff" stroke="#333" stroke-width="1.5"/>
<rect x="105.90" y="226.90" width="53.80" height="25.60" fill="#f08329" stroke="#4a2a12" stroke-width="1.2"/>
<line x1="104.20" y1="270.70" x2="162.10" y2="270.70" stroke="#9ad9dc" stroke-width="2.1"/>
<text x="168.49" y="248.30" font-size="25" textLength="569.56" lengthAdjust="spacingAndGlyphs" stroke="#000" stroke-width="0.15">GOR Spline 50% cutoff ARS lowest 25th percentile</text>
<text x="168.15" y="279.70" font-size="25" textLength="200.55" lengthAdjust="spacingAndGlyphs" stroke="#000" stroke-width="0.15">28 pts SG smooth</text>
<rect x="100.90" y="622.90" width="644.40" height="66.90" fill="#fff" stroke="#333" stroke-width="1.5"/>
<rect x="105.90" y="627.40" width="53.80" height="25.60" fill="#f08329" stroke="#4a2a12" stroke-width="1.2"/>
<line x1="104.20" y1="671.20" x2="162.10" y2="671.20" stroke="#9ad9dc" stroke-width="2.1"/>
<text x="168.49" y="648.80" font-size="25" textLength="574.36" lengthAdjust="spacingAndGlyphs" stroke="#000" stroke-width="0.15">GOR Friedmann vSS_5 ARS lowest 25th percentile</text>
<text x="168.15" y="680.20" font-size="25" textLength="200.55" lengthAdjust="spacingAndGlyphs" stroke="#000" stroke-width="0.15">28 pts SG smooth</text>
<rect x="100.90" y="1024.00" width="672.50" height="66.90" fill="#fff" stroke="#333" stroke-width="1.5"/>
<rect x="105.90" y="1028.50" width="53.80" height="25.60" fill="#f08329" stroke="#4a2a12" stroke-width="1.2"/>
<line x1="104.20" y1="1072.30" x2="162.10" y2="1072.30" stroke="#9ad9dc" stroke-width="2.1"/>
<text x="168.49" y="1049.90" font-size="25" textLength="602.06" lengthAdjust="spacingAndGlyphs" stroke="#000" stroke-width="0.15">GOR Spline 100 yrs cutoff ARS lowest 25th percentile</text>
<text x="168.15" y="1081.30" font-size="25" textLength="200.55" lengthAdjust="spacingAndGlyphs" stroke="#000" stroke-width="0.15">28 pts SG smooth</text>
<line x1="99.90" y1="196.90" x2="890.70" y2="196.90" stroke="#000" stroke-width="2.3"/>
<line x1="109.03" y1="196.90" x2="109.03" y2="204.30" stroke="#000" stroke-width="2.2"/>
<line x1="120.30" y1="196.90" x2="120.30" y2="204.30" stroke="#000" stroke-width="2.2"/>
<line x1="131.56" y1="196.90" x2="131.56" y2="204.30" stroke="#000" stroke-width="2.2"/>
<line x1="142.82" y1="196.90" x2="142.82" y2="204.30" stroke="#000" stroke-width="2.2"/>
<line x1="154.09" y1="196.90" x2="154.09" y2="204.30" stroke="#000" stroke-width="2.2"/>
<line x1="165.35" y1="196.90" x2="165.35" y2="204.30" stroke="#000" stroke-width="2.2"/>
<line x1="176.61" y1="196.90" x2="176.61" y2="204.30" stroke="#000" stroke-width="2.2"/>
<line x1="187.87" y1="196.90" x2="187.87" y2="204.30" stroke="#000" stroke-width="2.2"/>
<line x1="199.14" y1="196.90" x2="199.14" y2="204.30" stroke="#000" stroke-width="2.2"/>
<line x1="210.40" y1="196.90" x2="210.40" y2="211.60" stroke="#000" stroke-width="2.3"/>
<line x1="221.66" y1="196.90" x2="221.66" y2="204.30" stroke="#000" stroke-width="2.2"/>
<line x1="232.93" y1="196.90" x2="232.93" y2="204.30" stroke="#000" stroke-width="2.2"/>
<line x1="244.19" y1="196.90" x2="244.19" y2="204.30" stroke="#000" stroke-width="2.2"/>
<line x1="255.45" y1="196.90" x2="255.45" y2="204.30" stroke="#000" stroke-width="2.2"/>
<line x1="266.72" y1="196.90" x2="266.72" y2="204.30" stroke="#000" stroke-width="2.2"/>
<line x1="277.98" y1="196.90" x2="277.98" y2="204.30" stroke="#000" stroke-width="2.2"/>
<line x1="289.24" y1="196.90" x2="289.24" y2="204.30" stroke="#000" stroke-width="2.2"/>
<line x1="300.50" y1="196.90" x2="300.50" y2="204.30" stroke="#000" stroke-width="2.2"/>
<line x1="311.77" y1="196.90" x2="311.77" y2="204.30" stroke="#000" stroke-width="2.2"/>
<line x1="323.03" y1="196.90" x2="323.03" y2="211.60" stroke="#000" stroke-width="2.3"/>
<line x1="334.29" y1="196.90" x2="334.29" y2="204.30" stroke="#000" stroke-width="2.2"/>
<line x1="345.56" y1="196.90" x2="345.56" y2="204.30" stroke="#000" stroke-width="2.2"/>
<line x1="356.82" y1="196.90" x2="356.82" y2="204.30" stroke="#000" stroke-width="2.2"/>
<line x1="368.08" y1="196.90" x2="368.08" y2="204.30" stroke="#000" stroke-width="2.2"/>
<line x1="379.35" y1="196.90" x2="379.35" y2="204.30" stroke="#000" stroke-width="2.2"/>
<line x1="390.61" y1="196.90" x2="390.61" y2="204.30" stroke="#000" stroke-width="2.2"/>
<line x1="401.87" y1="196.90" x2="401.87" y2="204.30" stroke="#000" stroke-width="2.2"/>
<line x1="413.13" y1="196.90" x2="413.13" y2="204.30" stroke="#000" stroke-width="2.2"/>
<line x1="424.40" y1="196.90" x2="424.40" y2="204.30" stroke="#000" stroke-width="2.2"/>
<line x1="435.66" y1="196.90" x2="435.66" y2="211.60" stroke="#000" stroke-width="2.3"/>
<line x1="446.92" y1="196.90" x2="446.92" y2="204.30" stroke="#000" stroke-width="2.2"/>
<line x1="458.19" y1="196.90" x2="458.19" y2="204.30" stroke="#000" stroke-width="2.2"/>
<line x1="469.45" y1="196.90" x2="469.45" y2="204.30" stroke="#000" stroke-width="2.2"/>
<line x1="480.71" y1="196.90" x2="480.71" y2="204.30" stroke="#000" stroke-width="2.2"/>
<line x1="491.98" y1="196.90" x2="491.98" y2="204.30" stroke="#000" stroke-width="2.2"/>
<line x1="503.24" y1="196.90" x2="503.24" y2="204.30" stroke="#000" stroke-width="2.2"/>
<line x1="514.50" y1="196.90" x2="514.50" y2="204.30" stroke="#000" stroke-width="2.2"/>
<line x1="525.76" y1="196.90" x2="525.76" y2="204.30" stroke="#000" stroke-width="2.2"/>
<line x1="537.03" y1="196.90" x2="537.03" y2="204.30" stroke="#000" stroke-width="2.2"/>
<line x1="548.29" y1="196.90" x2="548.29" y2="211.60" stroke="#000" stroke-width="2.3"/>
<line x1="559.55" y1="196.90" x2="559.55" y2="204.30" stroke="#000" stroke-width="2.2"/>
<line x1="570.82" y1="196.90" x2="570.82" y2="204.30" stroke="#000" stroke-width="2.2"/>
<line x1="582.08" y1="196.90" x2="582.08" y2="204.30" stroke="#000" stroke-width="2.2"/>
<line x1="593.34" y1="196.90" x2="593.34" y2="204.30" stroke="#000" stroke-width="2.2"/>
<line x1="604.61" y1="196.90" x2="604.61" y2="204.30" stroke="#000" stroke-width="2.2"/>
<line x1="615.87" y1="196.90" x2="615.87" y2="204.30" stroke="#000" stroke-width="2.2"/>
<line x1="627.13" y1="196.90" x2="627.13" y2="204.30" stroke="#000" stroke-width="2.2"/>
<line x1="638.39" y1="196.90" x2="638.39" y2="204.30" stroke="#000" stroke-width="2.2"/>
<line x1="649.66" y1="196.90" x2="649.66" y2="204.30" stroke="#000" stroke-width="2.2"/>
<line x1="660.92" y1="196.90" x2="660.92" y2="211.60" stroke="#000" stroke-width="2.3"/>
<line x1="672.18" y1="196.90" x2="672.18" y2="204.30" stroke="#000" stroke-width="2.2"/>
<line x1="683.45" y1="196.90" x2="683.45" y2="204.30" stroke="#000" stroke-width="2.2"/>
<line x1="694.71" y1="196.90" x2="694.71" y2="204.30" stroke="#000" stroke-width="2.2"/>
<line x1="705.97" y1="196.90" x2="705.97" y2="204.30" stroke="#000" stroke-width="2.2"/>
<line x1="717.24" y1="196.90" x2="717.24" y2="204.30" stroke="#000" stroke-width="2.2"/>
<line x1="728.50" y1="196.90" x2="728.50" y2="204.30" stroke="#000" stroke-width="2.2"/>
<line x1="739.76" y1="196.90" x2="739.76" y2="204.30" stroke="#000" stroke-width="2.2"/>
<line x1="751.02" y1="196.90" x2="751.02" y2="204.30" stroke="#000" stroke-width="2.2"/>
<line x1="762.29" y1="196.90" x2="762.29" y2="204.30" stroke="#000" stroke-width="2.2"/>
<line x1="773.55" y1="196.90" x2="773.55" y2="211.60" stroke="#000" stroke-width="2.3"/>
<line x1="784.81" y1="196.90" x2="784.81" y2="204.30" stroke="#000" stroke-width="2.2"/>
<line x1="796.08" y1="196.90" x2="796.08" y2="204.30" stroke="#000" stroke-width="2.2"/>
<line x1="807.34" y1="196.90" x2="807.34" y2="204.30" stroke="#000" stroke-width="2.2"/>
<line x1="818.60" y1="196.90" x2="818.60" y2="204.30" stroke="#000" stroke-width="2.2"/>
<line x1="829.87" y1="196.90" x2="829.87" y2="204.30" stroke="#000" stroke-width="2.2"/>
<line x1="841.13" y1="196.90" x2="841.13" y2="204.30" stroke="#000" stroke-width="2.2"/>
<line x1="852.39" y1="196.90" x2="852.39" y2="204.30" stroke="#000" stroke-width="2.2"/>
<line x1="863.65" y1="196.90" x2="863.65" y2="204.30" stroke="#000" stroke-width="2.2"/>
<line x1="874.92" y1="196.90" x2="874.92" y2="204.30" stroke="#000" stroke-width="2.2"/>
<line x1="886.18" y1="196.90" x2="886.18" y2="211.60" stroke="#000" stroke-width="2.3"/>
<line x1="100.90" y1="574.30" x2="115.40" y2="574.30" stroke="#000" stroke-width="2.1"/>
<line x1="875.10" y1="574.30" x2="889.60" y2="574.30" stroke="#000" stroke-width="2.1"/>
<line x1="100.90" y1="523.81" x2="108.40" y2="523.81" stroke="#000" stroke-width="2.1"/>
<line x1="882.10" y1="523.81" x2="889.60" y2="523.81" stroke="#000" stroke-width="2.1"/>
<line x1="100.90" y1="473.31" x2="115.40" y2="473.31" stroke="#000" stroke-width="2.1"/>
<line x1="875.10" y1="473.31" x2="889.60" y2="473.31" stroke="#000" stroke-width="2.1"/>
<line x1="100.90" y1="422.82" x2="108.40" y2="422.82" stroke="#000" stroke-width="2.1"/>
<line x1="882.10" y1="422.82" x2="889.60" y2="422.82" stroke="#000" stroke-width="2.1"/>
<line x1="100.90" y1="372.32" x2="115.40" y2="372.32" stroke="#000" stroke-width="2.1"/>
<line x1="875.10" y1="372.32" x2="889.60" y2="372.32" stroke="#000" stroke-width="2.1"/>
<line x1="100.90" y1="321.83" x2="108.40" y2="321.83" stroke="#000" stroke-width="2.1"/>
<line x1="882.10" y1="321.83" x2="889.60" y2="321.83" stroke="#000" stroke-width="2.1"/>
<line x1="875.10" y1="271.33" x2="889.60" y2="271.33" stroke="#000" stroke-width="2.1"/>
<line x1="106.37" y1="622.90" x2="106.37" y2="615.70" stroke="#000" stroke-width="2.1"/>
<line x1="117.63" y1="622.90" x2="117.63" y2="615.70" stroke="#000" stroke-width="2.1"/>
<line x1="128.90" y1="622.90" x2="128.90" y2="615.70" stroke="#000" stroke-width="2.1"/>
<line x1="140.17" y1="622.90" x2="140.17" y2="615.70" stroke="#000" stroke-width="2.1"/>
<line x1="151.43" y1="622.90" x2="151.43" y2="615.70" stroke="#000" stroke-width="2.1"/>
<line x1="162.70" y1="622.90" x2="162.70" y2="615.70" stroke="#000" stroke-width="2.1"/>
<line x1="173.97" y1="622.90" x2="173.97" y2="615.70" stroke="#000" stroke-width="2.1"/>
<line x1="185.23" y1="622.90" x2="185.23" y2="615.70" stroke="#000" stroke-width="2.1"/>
<line x1="196.50" y1="622.90" x2="196.50" y2="609.10" stroke="#000" stroke-width="2.2"/>
<line x1="207.77" y1="622.90" x2="207.77" y2="615.70" stroke="#000" stroke-width="2.1"/>
<line x1="219.03" y1="622.90" x2="219.03" y2="615.70" stroke="#000" stroke-width="2.1"/>
<line x1="230.30" y1="622.90" x2="230.30" y2="615.70" stroke="#000" stroke-width="2.1"/>
<line x1="241.57" y1="622.90" x2="241.57" y2="615.70" stroke="#000" stroke-width="2.1"/>
<line x1="252.83" y1="622.90" x2="252.83" y2="615.70" stroke="#000" stroke-width="2.1"/>
<line x1="264.10" y1="622.90" x2="264.10" y2="615.70" stroke="#000" stroke-width="2.1"/>
<line x1="275.37" y1="622.90" x2="275.37" y2="615.70" stroke="#000" stroke-width="2.1"/>
<line x1="286.63" y1="622.90" x2="286.63" y2="615.70" stroke="#000" stroke-width="2.1"/>
<line x1="297.90" y1="622.90" x2="297.90" y2="615.70" stroke="#000" stroke-width="2.1"/>
<line x1="309.17" y1="622.90" x2="309.17" y2="609.10" stroke="#000" stroke-width="2.2"/>
<line x1="320.43" y1="622.90" x2="320.43" y2="615.70" stroke="#000" stroke-width="2.1"/>
<line x1="331.70" y1="622.90" x2="331.70" y2="615.70" stroke="#000" stroke-width="2.1"/>
<line x1="342.97" y1="622.90" x2="342.97" y2="615.70" stroke="#000" stroke-width="2.1"/>
<line x1="354.23" y1="622.90" x2="354.23" y2="615.70" stroke="#000" stroke-width="2.1"/>
<line x1="365.50" y1="622.90" x2="365.50" y2="615.70" stroke="#000" stroke-width="2.1"/>
<line x1="376.77" y1="622.90" x2="376.77" y2="615.70" stroke="#000" stroke-width="2.1"/>
<line x1="388.03" y1="622.90" x2="388.03" y2="615.70" stroke="#000" stroke-width="2.1"/>
<line x1="399.30" y1="622.90" x2="399.30" y2="615.70" stroke="#000" stroke-width="2.1"/>
<line x1="410.57" y1="622.90" x2="410.57" y2="615.70" stroke="#000" stroke-width="2.1"/>
<line x1="421.83" y1="622.90" x2="421.83" y2="609.10" stroke="#000" stroke-width="2.2"/>
<line x1="433.10" y1="622.90" x2="433.10" y2="615.70" stroke="#000" stroke-width="2.1"/>
<line x1="444.37" y1="622.90" x2="444.37" y2="615.70" stroke="#000" stroke-width="2.1"/>
<line x1="455.63" y1="622.90" x2="455.63" y2="615.70" stroke="#000" stroke-width="2.1"/>
<line x1="466.90" y1="622.90" x2="466.90" y2="615.70" stroke="#000" stroke-width="2.1"/>
<line x1="478.17" y1="622.90" x2="478.17" y2="615.70" stroke="#000" stroke-width="2.1"/>
<line x1="489.43" y1="622.90" x2="489.43" y2="615.70" stroke="#000" stroke-width="2.1"/>
<line x1="500.70" y1="622.90" x2="500.70" y2="615.70" stroke="#000" stroke-width="2.1"/>
<line x1="511.97" y1="622.90" x2="511.97" y2="615.70" stroke="#000" stroke-width="2.1"/>
<line x1="523.23" y1="622.90" x2="523.23" y2="615.70" stroke="#000" stroke-width="2.1"/>
<line x1="534.50" y1="622.90" x2="534.50" y2="609.10" stroke="#000" stroke-width="2.2"/>
<line x1="545.77" y1="622.90" x2="545.77" y2="615.70" stroke="#000" stroke-width="2.1"/>
<line x1="557.03" y1="622.90" x2="557.03" y2="615.70" stroke="#000" stroke-width="2.1"/>
<line x1="568.30" y1="622.90" x2="568.30" y2="615.70" stroke="#000" stroke-width="2.1"/>
<line x1="579.57" y1="622.90" x2="579.57" y2="615.70" stroke="#000" stroke-width="2.1"/>
<line x1="590.83" y1="622.90" x2="590.83" y2="615.70" stroke="#000" stroke-width="2.1"/>
<line x1="602.10" y1="622.90" x2="602.10" y2="615.70" stroke="#000" stroke-width="2.1"/>
<line x1="613.37" y1="622.90" x2="613.37" y2="615.70" stroke="#000" stroke-width="2.1"/>
<line x1="624.63" y1="622.90" x2="624.63" y2="615.70" stroke="#000" stroke-width="2.1"/>
<line x1="635.90" y1="622.90" x2="635.90" y2="615.70" stroke="#000" stroke-width="2.1"/>
<line x1="647.17" y1="622.90" x2="647.17" y2="609.10" stroke="#000" stroke-width="2.2"/>
<line x1="658.43" y1="622.90" x2="658.43" y2="615.70" stroke="#000" stroke-width="2.1"/>
<line x1="669.70" y1="622.90" x2="669.70" y2="615.70" stroke="#000" stroke-width="2.1"/>
<line x1="680.97" y1="622.90" x2="680.97" y2="615.70" stroke="#000" stroke-width="2.1"/>
<line x1="692.23" y1="622.90" x2="692.23" y2="615.70" stroke="#000" stroke-width="2.1"/>
<line x1="703.50" y1="622.90" x2="703.50" y2="615.70" stroke="#000" stroke-width="2.1"/>
<line x1="714.77" y1="622.90" x2="714.77" y2="615.70" stroke="#000" stroke-width="2.1"/>
<line x1="726.03" y1="622.90" x2="726.03" y2="615.70" stroke="#000" stroke-width="2.1"/>
<line x1="737.30" y1="622.90" x2="737.30" y2="615.70" stroke="#000" stroke-width="2.1"/>
<line x1="748.57" y1="622.90" x2="748.57" y2="615.70" stroke="#000" stroke-width="2.1"/>
<line x1="759.84" y1="622.90" x2="759.84" y2="609.10" stroke="#000" stroke-width="2.2"/>
<line x1="771.10" y1="622.90" x2="771.10" y2="615.70" stroke="#000" stroke-width="2.1"/>
<line x1="782.37" y1="622.90" x2="782.37" y2="615.70" stroke="#000" stroke-width="2.1"/>
<line x1="793.64" y1="622.90" x2="793.64" y2="615.70" stroke="#000" stroke-width="2.1"/>
<line x1="804.90" y1="622.90" x2="804.90" y2="615.70" stroke="#000" stroke-width="2.1"/>
<line x1="816.17" y1="622.90" x2="816.17" y2="615.70" stroke="#000" stroke-width="2.1"/>
<line x1="827.44" y1="622.90" x2="827.44" y2="615.70" stroke="#000" stroke-width="2.1"/>
<line x1="838.70" y1="622.90" x2="838.70" y2="615.70" stroke="#000" stroke-width="2.1"/>
<line x1="849.97" y1="622.90" x2="849.97" y2="615.70" stroke="#000" stroke-width="2.1"/>
<line x1="861.24" y1="622.90" x2="861.24" y2="615.70" stroke="#000" stroke-width="2.1"/>
<line x1="872.50" y1="622.90" x2="872.50" y2="609.10" stroke="#000" stroke-width="2.2"/>
<line x1="883.77" y1="622.90" x2="883.77" y2="615.70" stroke="#000" stroke-width="2.1"/>
<line x1="748.57" y1="221.20" x2="748.57" y2="228.50" stroke="#000" stroke-width="2.1"/>
<line x1="759.84" y1="221.20" x2="759.84" y2="235.80" stroke="#000" stroke-width="2.2"/>
<line x1="771.10" y1="221.20" x2="771.10" y2="228.50" stroke="#000" stroke-width="2.1"/>
<line x1="782.37" y1="221.20" x2="782.37" y2="228.50" stroke="#000" stroke-width="2.1"/>
<line x1="793.64" y1="221.20" x2="793.64" y2="228.50" stroke="#000" stroke-width="2.1"/>
<line x1="804.90" y1="221.20" x2="804.90" y2="228.50" stroke="#000" stroke-width="2.1"/>
<line x1="816.17" y1="221.20" x2="816.17" y2="228.50" stroke="#000" stroke-width="2.1"/>
<line x1="827.44" y1="221.20" x2="827.44" y2="228.50" stroke="#000" stroke-width="2.1"/>
<line x1="838.70" y1="221.20" x2="838.70" y2="228.50" stroke="#000" stroke-width="2.1"/>
<line x1="849.97" y1="221.20" x2="849.97" y2="228.50" stroke="#000" stroke-width="2.1"/>
<line x1="861.24" y1="221.20" x2="861.24" y2="228.50" stroke="#000" stroke-width="2.1"/>
<line x1="872.50" y1="221.20" x2="872.50" y2="235.80" stroke="#000" stroke-width="2.2"/>
<line x1="883.77" y1="221.20" x2="883.77" y2="228.50" stroke="#000" stroke-width="2.1"/>
<line x1="100.90" y1="976.00" x2="115.40" y2="976.00" stroke="#000" stroke-width="2.1"/>
<line x1="875.10" y1="976.00" x2="889.60" y2="976.00" stroke="#000" stroke-width="2.1"/>
<line x1="100.90" y1="925.51" x2="108.40" y2="925.51" stroke="#000" stroke-width="2.1"/>
<line x1="882.10" y1="925.51" x2="889.60" y2="925.51" stroke="#000" stroke-width="2.1"/>
<line x1="100.90" y1="875.01" x2="115.40" y2="875.01" stroke="#000" stroke-width="2.1"/>
<line x1="875.10" y1="875.01" x2="889.60" y2="875.01" stroke="#000" stroke-width="2.1"/>
<line x1="100.90" y1="824.52" x2="108.40" y2="824.52" stroke="#000" stroke-width="2.1"/>
<line x1="882.10" y1="824.52" x2="889.60" y2="824.52" stroke="#000" stroke-width="2.1"/>
<line x1="100.90" y1="774.02" x2="115.40" y2="774.02" stroke="#000" stroke-width="2.1"/>
<line x1="875.10" y1="774.02" x2="889.60" y2="774.02" stroke="#000" stroke-width="2.1"/>
<line x1="100.90" y1="723.53" x2="108.40" y2="723.53" stroke="#000" stroke-width="2.1"/>
<line x1="882.10" y1="723.53" x2="889.60" y2="723.53" stroke="#000" stroke-width="2.1"/>
<line x1="875.10" y1="673.03" x2="889.60" y2="673.03" stroke="#000" stroke-width="2.1"/>
<line x1="106.37" y1="1024.00" x2="106.37" y2="1016.80" stroke="#000" stroke-width="2.1"/>
<line x1="117.63" y1="1024.00" x2="117.63" y2="1016.80" stroke="#000" stroke-width="2.1"/>
<line x1="128.90" y1="1024.00" x2="128.90" y2="1016.80" stroke="#000" stroke-width="2.1"/>
<line x1="140.17" y1="1024.00" x2="140.17" y2="1016.80" stroke="#000" stroke-width="2.1"/>
<line x1="151.43" y1="1024.00" x2="151.43" y2="1016.80" stroke="#000" stroke-width="2.1"/>
<line x1="162.70" y1="1024.00" x2="162.70" y2="1016.80" stroke="#000" stroke-width="2.1"/>
<line x1="173.97" y1="1024.00" x2="173.97" y2="1016.80" stroke="#000" stroke-width="2.1"/>
<line x1="185.23" y1="1024.00" x2="185.23" y2="1016.80" stroke="#000" stroke-width="2.1"/>
<line x1="196.50" y1="1024.00" x2="196.50" y2="1010.20" stroke="#000" stroke-width="2.2"/>
<line x1="207.77" y1="1024.00" x2="207.77" y2="1016.80" stroke="#000" stroke-width="2.1"/>
<line x1="219.03" y1="1024.00" x2="219.03" y2="1016.80" stroke="#000" stroke-width="2.1"/>
<line x1="230.30" y1="1024.00" x2="230.30" y2="1016.80" stroke="#000" stroke-width="2.1"/>
<line x1="241.57" y1="1024.00" x2="241.57" y2="1016.80" stroke="#000" stroke-width="2.1"/>
<line x1="252.83" y1="1024.00" x2="252.83" y2="1016.80" stroke="#000" stroke-width="2.1"/>
<line x1="264.10" y1="1024.00" x2="264.10" y2="1016.80" stroke="#000" stroke-width="2.1"/>
<line x1="275.37" y1="1024.00" x2="275.37" y2="1016.80" stroke="#000" stroke-width="2.1"/>
<line x1="286.63" y1="1024.00" x2="286.63" y2="1016.80" stroke="#000" stroke-width="2.1"/>
<line x1="297.90" y1="1024.00" x2="297.90" y2="1016.80" stroke="#000" stroke-width="2.1"/>
<line x1="309.17" y1="1024.00" x2="309.17" y2="1010.20" stroke="#000" stroke-width="2.2"/>
<line x1="320.43" y1="1024.00" x2="320.43" y2="1016.80" stroke="#000" stroke-width="2.1"/>
<line x1="331.70" y1="1024.00" x2="331.70" y2="1016.80" stroke="#000" stroke-width="2.1"/>
<line x1="342.97" y1="1024.00" x2="342.97" y2="1016.80" stroke="#000" stroke-width="2.1"/>
<line x1="354.23" y1="1024.00" x2="354.23" y2="1016.80" stroke="#000" stroke-width="2.1"/>
<line x1="365.50" y1="1024.00" x2="365.50" y2="1016.80" stroke="#000" stroke-width="2.1"/>
<line x1="376.77" y1="1024.00" x2="376.77" y2="1016.80" stroke="#000" stroke-width="2.1"/>
<line x1="388.03" y1="1024.00" x2="388.03" y2="1016.80" stroke="#000" stroke-width="2.1"/>
<line x1="399.30" y1="1024.00" x2="399.30" y2="1016.80" stroke="#000" stroke-width="2.1"/>
<line x1="410.57" y1="1024.00" x2="410.57" y2="1016.80" stroke="#000" stroke-width="2.1"/>
<line x1="421.83" y1="1024.00" x2="421.83" y2="1010.20" stroke="#000" stroke-width="2.2"/>
<line x1="433.10" y1="1024.00" x2="433.10" y2="1016.80" stroke="#000" stroke-width="2.1"/>
<line x1="444.37" y1="1024.00" x2="444.37" y2="1016.80" stroke="#000" stroke-width="2.1"/>
<line x1="455.63" y1="1024.00" x2="455.63" y2="1016.80" stroke="#000" stroke-width="2.1"/>
<line x1="466.90" y1="1024.00" x2="466.90" y2="1016.80" stroke="#000" stroke-width="2.1"/>
<line x1="478.17" y1="1024.00" x2="478.17" y2="1016.80" stroke="#000" stroke-width="2.1"/>
<line x1="489.43" y1="1024.00" x2="489.43" y2="1016.80" stroke="#000" stroke-width="2.1"/>
<line x1="500.70" y1="1024.00" x2="500.70" y2="1016.80" stroke="#000" stroke-width="2.1"/>
<line x1="511.97" y1="1024.00" x2="511.97" y2="1016.80" stroke="#000" stroke-width="2.1"/>
<line x1="523.23" y1="1024.00" x2="523.23" y2="1016.80" stroke="#000" stroke-width="2.1"/>
<line x1="534.50" y1="1024.00" x2="534.50" y2="1010.20" stroke="#000" stroke-width="2.2"/>
<line x1="545.77" y1="1024.00" x2="545.77" y2="1016.80" stroke="#000" stroke-width="2.1"/>
<line x1="557.03" y1="1024.00" x2="557.03" y2="1016.80" stroke="#000" stroke-width="2.1"/>
<line x1="568.30" y1="1024.00" x2="568.30" y2="1016.80" stroke="#000" stroke-width="2.1"/>
<line x1="579.57" y1="1024.00" x2="579.57" y2="1016.80" stroke="#000" stroke-width="2.1"/>
<line x1="590.83" y1="1024.00" x2="590.83" y2="1016.80" stroke="#000" stroke-width="2.1"/>
<line x1="602.10" y1="1024.00" x2="602.10" y2="1016.80" stroke="#000" stroke-width="2.1"/>
<line x1="613.37" y1="1024.00" x2="613.37" y2="1016.80" stroke="#000" stroke-width="2.1"/>
<line x1="624.63" y1="1024.00" x2="624.63" y2="1016.80" stroke="#000" stroke-width="2.1"/>
<line x1="635.90" y1="1024.00" x2="635.90" y2="1016.80" stroke="#000" stroke-width="2.1"/>
<line x1="647.17" y1="1024.00" x2="647.17" y2="1010.20" stroke="#000" stroke-width="2.2"/>
<line x1="658.43" y1="1024.00" x2="658.43" y2="1016.80" stroke="#000" stroke-width="2.1"/>
<line x1="669.70" y1="1024.00" x2="669.70" y2="1016.80" stroke="#000" stroke-width="2.1"/>
<line x1="680.97" y1="1024.00" x2="680.97" y2="1016.80" stroke="#000" stroke-width="2.1"/>
<line x1="692.23" y1="1024.00" x2="692.23" y2="1016.80" stroke="#000" stroke-width="2.1"/>
<line x1="703.50" y1="1024.00" x2="703.50" y2="1016.80" stroke="#000" stroke-width="2.1"/>
<line x1="714.77" y1="1024.00" x2="714.77" y2="1016.80" stroke="#000" stroke-width="2.1"/>
<line x1="726.03" y1="1024.00" x2="726.03" y2="1016.80" stroke="#000" stroke-width="2.1"/>
<line x1="737.30" y1="1024.00" x2="737.30" y2="1016.80" stroke="#000" stroke-width="2.1"/>
<line x1="748.57" y1="1024.00" x2="748.57" y2="1016.80" stroke="#000" stroke-width="2.1"/>
<line x1="759.84" y1="1024.00" x2="759.84" y2="1010.20" stroke="#000" stroke-width="2.2"/>
<line x1="771.10" y1="1024.00" x2="771.10" y2="1016.80" stroke="#000" stroke-width="2.1"/>
<line x1="782.37" y1="1024.00" x2="782.37" y2="1016.80" stroke="#000" stroke-width="2.1"/>
<line x1="793.64" y1="1024.00" x2="793.64" y2="1016.80" stroke="#000" stroke-width="2.1"/>
<line x1="804.90" y1="1024.00" x2="804.90" y2="1016.80" stroke="#000" stroke-width="2.1"/>
<line x1="816.17" y1="1024.00" x2="816.17" y2="1016.80" stroke="#000" stroke-width="2.1"/>
<line x1="827.44" y1="1024.00" x2="827.44" y2="1016.80" stroke="#000" stroke-width="2.1"/>
<line x1="838.70" y1="1024.00" x2="838.70" y2="1016.80" stroke="#000" stroke-width="2.1"/>
<line x1="849.97" y1="1024.00" x2="849.97" y2="1016.80" stroke="#000" stroke-width="2.1"/>
<line x1="861.24" y1="1024.00" x2="861.24" y2="1016.80" stroke="#000" stroke-width="2.1"/>
<line x1="872.50" y1="1024.00" x2="872.50" y2="1010.20" stroke="#000" stroke-width="2.2"/>
<line x1="883.77" y1="1024.00" x2="883.77" y2="1016.80" stroke="#000" stroke-width="2.1"/>
<line x1="100.90" y1="1377.00" x2="115.40" y2="1377.00" stroke="#000" stroke-width="2.1"/>
<line x1="875.10" y1="1377.00" x2="889.60" y2="1377.00" stroke="#000" stroke-width="2.1"/>
<line x1="100.90" y1="1326.51" x2="108.40" y2="1326.51" stroke="#000" stroke-width="2.1"/>
<line x1="882.10" y1="1326.51" x2="889.60" y2="1326.51" stroke="#000" stroke-width="2.1"/>
<line x1="100.90" y1="1276.01" x2="115.40" y2="1276.01" stroke="#000" stroke-width="2.1"/>
<line x1="875.10" y1="1276.01" x2="889.60" y2="1276.01" stroke="#000" stroke-width="2.1"/>
<line x1="100.90" y1="1225.52" x2="108.40" y2="1225.52" stroke="#000" stroke-width="2.1"/>
<line x1="882.10" y1="1225.52" x2="889.60" y2="1225.52" stroke="#000" stroke-width="2.1"/>
<line x1="100.90" y1="1175.02" x2="115.40" y2="1175.02" stroke="#000" stroke-width="2.1"/>
<line x1="875.10" y1="1175.02" x2="889.60" y2="1175.02" stroke="#000" stroke-width="2.1"/>
<line x1="100.90" y1="1124.53" x2="108.40" y2="1124.53" stroke="#000" stroke-width="2.1"/>
<line x1="882.10" y1="1124.53" x2="889.60" y2="1124.53" stroke="#000" stroke-width="2.1"/>
<line x1="875.10" y1="1074.03" x2="889.60" y2="1074.03" stroke="#000" stroke-width="2.1"/>
<line x1="106.37" y1="1425.20" x2="106.37" y2="1418.00" stroke="#000" stroke-width="2.1"/>
<line x1="117.63" y1="1425.20" x2="117.63" y2="1418.00" stroke="#000" stroke-width="2.1"/>
<line x1="128.90" y1="1425.20" x2="128.90" y2="1418.00" stroke="#000" stroke-width="2.1"/>
<line x1="140.17" y1="1425.20" x2="140.17" y2="1418.00" stroke="#000" stroke-width="2.1"/>
<line x1="151.43" y1="1425.20" x2="151.43" y2="1418.00" stroke="#000" stroke-width="2.1"/>
<line x1="162.70" y1="1425.20" x2="162.70" y2="1418.00" stroke="#000" stroke-width="2.1"/>
<line x1="173.97" y1="1425.20" x2="173.97" y2="1418.00" stroke="#000" stroke-width="2.1"/>
<line x1="185.23" y1="1425.20" x2="185.23" y2="1418.00" stroke="#000" stroke-width="2.1"/>
<line x1="196.50" y1="1425.20" x2="196.50" y2="1411.40" stroke="#000" stroke-width="2.2"/>
<line x1="207.77" y1="1425.20" x2="207.77" y2="1418.00" stroke="#000" stroke-width="2.1"/>
<line x1="219.03" y1="1425.20" x2="219.03" y2="1418.00" stroke="#000" stroke-width="2.1"/>
<line x1="230.30" y1="1425.20" x2="230.30" y2="1418.00" stroke="#000" stroke-width="2.1"/>
<line x1="241.57" y1="1425.20" x2="241.57" y2="1418.00" stroke="#000" stroke-width="2.1"/>
<line x1="252.83" y1="1425.20" x2="252.83" y2="1418.00" stroke="#000" stroke-width="2.1"/>
<line x1="264.10" y1="1425.20" x2="264.10" y2="1418.00" stroke="#000" stroke-width="2.1"/>
<line x1="275.37" y1="1425.20" x2="275.37" y2="1418.00" stroke="#000" stroke-width="2.1"/>
<line x1="286.63" y1="1425.20" x2="286.63" y2="1418.00" stroke="#000" stroke-width="2.1"/>
<line x1="297.90" y1="1425.20" x2="297.90" y2="1418.00" stroke="#000" stroke-width="2.1"/>
<line x1="309.17" y1="1425.20" x2="309.17" y2="1411.40" stroke="#000" stroke-width="2.2"/>
<line x1="320.43" y1="1425.20" x2="320.43" y2="1418.00" stroke="#000" stroke-width="2.1"/>
<line x1="331.70" y1="1425.20" x2="331.70" y2="1418.00" stroke="#000" stroke-width="2.1"/>
<line x1="342.97" y1="1425.20" x2="342.97" y2="1418.00" stroke="#000" stroke-width="2.1"/>
<line x1="354.23" y1="1425.20" x2="354.23" y2="1418.00" stroke="#000" stroke-width="2.1"/>
<line x1="365.50" y1="1425.20" x2="365.50" y2="1418.00" stroke="#000" stroke-width="2.1"/>
<line x1="376.77" y1="1425.20" x2="376.77" y2="1418.00" stroke="#000" stroke-width="2.1"/>
<line x1="388.03" y1="1425.20" x2="388.03" y2="1418.00" stroke="#000" stroke-width="2.1"/>
<line x1="399.30" y1="1425.20" x2="399.30" y2="1418.00" stroke="#000" stroke-width="2.1"/>
<line x1="410.57" y1="1425.20" x2="410.57" y2="1418.00" stroke="#000" stroke-width="2.1"/>
<line x1="421.83" y1="1425.20" x2="421.83" y2="1411.40" stroke="#000" stroke-width="2.2"/>
<line x1="433.10" y1="1425.20" x2="433.10" y2="1418.00" stroke="#000" stroke-width="2.1"/>
<line x1="444.37" y1="1425.20" x2="444.37" y2="1418.00" stroke="#000" stroke-width="2.1"/>
<line x1="455.63" y1="1425.20" x2="455.63" y2="1418.00" stroke="#000" stroke-width="2.1"/>
<line x1="466.90" y1="1425.20" x2="466.90" y2="1418.00" stroke="#000" stroke-width="2.1"/>
<line x1="478.17" y1="1425.20" x2="478.17" y2="1418.00" stroke="#000" stroke-width="2.1"/>
<line x1="489.43" y1="1425.20" x2="489.43" y2="1418.00" stroke="#000" stroke-width="2.1"/>
<line x1="500.70" y1="1425.20" x2="500.70" y2="1418.00" stroke="#000" stroke-width="2.1"/>
<line x1="511.97" y1="1425.20" x2="511.97" y2="1418.00" stroke="#000" stroke-width="2.1"/>
<line x1="523.23" y1="1425.20" x2="523.23" y2="1418.00" stroke="#000" stroke-width="2.1"/>
<line x1="534.50" y1="1425.20" x2="534.50" y2="1411.40" stroke="#000" stroke-width="2.2"/>
<line x1="545.77" y1="1425.20" x2="545.77" y2="1418.00" stroke="#000" stroke-width="2.1"/>
<line x1="557.03" y1="1425.20" x2="557.03" y2="1418.00" stroke="#000" stroke-width="2.1"/>
<line x1="568.30" y1="1425.20" x2="568.30" y2="1418.00" stroke="#000" stroke-width="2.1"/>
<line x1="579.57" y1="1425.20" x2="579.57" y2="1418.00" stroke="#000" stroke-width="2.1"/>
<line x1="590.83" y1="1425.20" x2="590.83" y2="1418.00" stroke="#000" stroke-width="2.1"/>
<line x1="602.10" y1="1425.20" x2="602.10" y2="1418.00" stroke="#000" stroke-width="2.1"/>
<line x1="613.37" y1="1425.20" x2="613.37" y2="1418.00" stroke="#000" stroke-width="2.1"/>
<line x1="624.63" y1="1425.20" x2="624.63" y2="1418.00" stroke="#000" stroke-width="2.1"/>
<line x1="635.90" y1="1425.20" x2="635.90" y2="1418.00" stroke="#000" stroke-width="2.1"/>
<line x1="647.17" y1="1425.20" x2="647.17" y2="1411.40" stroke="#000" stroke-width="2.2"/>
<line x1="658.43" y1="1425.20" x2="658.43" y2="1418.00" stroke="#000" stroke-width="2.1"/>
<line x1="669.70" y1="1425.20" x2="669.70" y2="1418.00" stroke="#000" stroke-width="2.1"/>
<line x1="680.97" y1="1425.20" x2="680.97" y2="1418.00" stroke="#000" stroke-width="2.1"/>
<line x1="692.23" y1="1425.20" x2="692.23" y2="1418.00" stroke="#000" stroke-width="2.1"/>
<line x1="703.50" y1="1425.20" x2="703.50" y2="1418.00" stroke="#000" stroke-width="2.1"/>
<line x1="714.77" y1="1425.20" x2="714.77" y2="1418.00" stroke="#000" stroke-width="2.1"/>
<line x1="726.03" y1="1425.20" x2="726.03" y2="1418.00" stroke="#000" stroke-width="2.1"/>
<line x1="737.30" y1="1425.20" x2="737.30" y2="1418.00" stroke="#000" stroke-width="2.1"/>
<line x1="748.57" y1="1425.20" x2="748.57" y2="1418.00" stroke="#000" stroke-width="2.1"/>
<line x1="759.84" y1="1425.20" x2="759.84" y2="1411.40" stroke="#000" stroke-width="2.2"/>
<line x1="771.10" y1="1425.20" x2="771.10" y2="1418.00" stroke="#000" stroke-width="2.1"/>
<line x1="782.37" y1="1425.20" x2="782.37" y2="1418.00" stroke="#000" stroke-width="2.1"/>
<line x1="793.64" y1="1425.20" x2="793.64" y2="1418.00" stroke="#000" stroke-width="2.1"/>
<line x1="804.90" y1="1425.20" x2="804.90" y2="1418.00" stroke="#000" stroke-width="2.1"/>
<line x1="816.17" y1="1425.20" x2="816.17" y2="1418.00" stroke="#000" stroke-width="2.1"/>
<line x1="827.44" y1="1425.20" x2="827.44" y2="1418.00" stroke="#000" stroke-width="2.1"/>
<line x1="838.70" y1="1425.20" x2="838.70" y2="1418.00" stroke="#000" stroke-width="2.1"/>
<line x1="849.97" y1="1425.20" x2="849.97" y2="1418.00" stroke="#000" stroke-width="2.1"/>
<line x1="861.24" y1="1425.20" x2="861.24" y2="1418.00" stroke="#000" stroke-width="2.1"/>
<line x1="872.50" y1="1425.20" x2="872.50" y2="1411.40" stroke="#000" stroke-width="2.2"/>
<line x1="883.77" y1="1425.20" x2="883.77" y2="1418.00" stroke="#000" stroke-width="2.1"/>
<line x1="101.10" y1="220.20" x2="101.10" y2="1426.40" stroke="#000" stroke-width="2.2"/>
<line x1="889.60" y1="220.20" x2="889.60" y2="1426.40" stroke="#000" stroke-width="2.2"/>
<line x1="99.90" y1="221.30" x2="890.60" y2="221.30" stroke="#000" stroke-width="2.1"/>
<line x1="99.90" y1="622.90" x2="890.60" y2="622.90" stroke="#000" stroke-width="2.0"/>
<line x1="99.90" y1="1024.00" x2="890.60" y2="1024.00" stroke="#000" stroke-width="2.0"/>
<line x1="99.90" y1="1425.20" x2="890.60" y2="1425.20" stroke="#000" stroke-width="2.4"/>
<text x="402.80" y="510.46" font-size="25" textLength="64.53" lengthAdjust="spacingAndGlyphs" transform="rotate(90 402.80 510.46)" stroke="#000" stroke-width="0.15">-1222</text>
<text x="438.31" y="510.77" font-size="25" textLength="61.80" lengthAdjust="spacingAndGlyphs" transform="rotate(20 438.31 510.77)" stroke="#000" stroke-width="0.15" font-style="italic">-1196</text>
<polyline points="438.6,494.5 439.3,498.5 441.0,501.0" fill="none" stroke="#000" stroke-width="1"/>
<text x="402.80" y="909.86" font-size="25" textLength="64.53" lengthAdjust="spacingAndGlyphs" transform="rotate(90 402.80 909.86)" stroke="#000" stroke-width="0.15">-1222</text>
<text x="436.01" y="910.17" font-size="25" textLength="61.92" lengthAdjust="spacingAndGlyphs" transform="rotate(20 436.01 910.17)" stroke="#000" stroke-width="0.15" font-style="italic">-1198</text>
<polyline points="436.3,893.9 437.0,897.9 438.7,900.4" fill="none" stroke="#000" stroke-width="1"/>
<text x="402.80" y="1319.76" font-size="25" textLength="64.53" lengthAdjust="spacingAndGlyphs" transform="rotate(90 402.80 1319.76)" stroke="#000" stroke-width="0.15">-1222</text>
<text x="436.11" y="1316.67" font-size="25" textLength="61.92" lengthAdjust="spacingAndGlyphs" transform="rotate(20 436.11 1316.67)" stroke="#000" stroke-width="0.15" font-style="italic">-1198</text>
<polyline points="438.2,1296.5 438.4,1308.5 440.6,1311.5" fill="none" stroke="#000" stroke-width="1"/>
<text x="112.28" y="553.40" font-size="25" textLength="46.28" lengthAdjust="spacingAndGlyphs" fill="#b85aa6" stroke="#b85aa6" stroke-width="0.12">3yrs</text>
<text x="446.47" y="554.60" font-size="25" textLength="47.00" lengthAdjust="spacingAndGlyphs" fill="#b85aa6" stroke="#b85aa6" stroke-width="0.12">3yrs</text>
<text x="820.67" y="551.42" font-size="25" textLength="47.00" lengthAdjust="spacingAndGlyphs" transform="rotate(-27 820.67 551.42)" fill="#b85aa6" stroke="#b85aa6" stroke-width="0.12">3yrs</text>
<text x="117.54" y="948.14" font-size="25" textLength="47.00" lengthAdjust="spacingAndGlyphs" transform="rotate(-35 117.54 948.14)" fill="#b85aa6" stroke="#b85aa6" stroke-width="0.12">3yrs</text>
<text x="446.47" y="956.20" font-size="25" textLength="47.00" lengthAdjust="spacingAndGlyphs" fill="#b85aa6" stroke="#b85aa6" stroke-width="0.12">3yrs</text>
<text x="814.87" y="956.80" font-size="25" textLength="47.00" lengthAdjust="spacingAndGlyphs" fill="#b85aa6" stroke="#b85aa6" stroke-width="0.12">3yrs</text>
<text x="118.54" y="1350.64" font-size="25" textLength="47.00" lengthAdjust="spacingAndGlyphs" transform="rotate(-35 118.54 1350.64)" fill="#b85aa6" stroke="#b85aa6" stroke-width="0.12">3yrs</text>
<text x="446.47" y="1357.00" font-size="25" textLength="47.00" lengthAdjust="spacingAndGlyphs" fill="#b85aa6" stroke="#b85aa6" stroke-width="0.12">3yrs</text>
<text x="816.57" y="1357.80" font-size="25" textLength="47.00" lengthAdjust="spacingAndGlyphs" fill="#b85aa6" stroke="#b85aa6" stroke-width="0.12">3yrs</text>
<text x="158.42" y="20.10" font-size="29.5" stroke="#000" stroke-width="0.15" font-weight="bold">a</text>
<text x="293.33" y="127.00" font-size="29" textLength="403.74" lengthAdjust="spacingAndGlyphs" stroke="#000" stroke-width="0.15">Approximate Calendar Date BC</text>
<text x="173.32" y="170.70" font-size="29" stroke="#000" stroke-width="0.15">-1400</text>
<text x="285.95" y="170.70" font-size="29" stroke="#000" stroke-width="0.15">-1300</text>
<text x="398.58" y="170.70" font-size="29" stroke="#000" stroke-width="0.15">-1200</text>
<text x="511.21" y="170.70" font-size="29" stroke="#000" stroke-width="0.15">-1100</text>
<text x="623.84" y="170.70" font-size="29" stroke="#000" stroke-width="0.15">-1000</text>
<text x="744.54" y="170.70" font-size="29" stroke="#000" stroke-width="0.15">-900</text>
<text x="857.17" y="170.70" font-size="29" stroke="#000" stroke-width="0.15">-800</text>
<text x="35.81" y="582.60" font-size="25" stroke="#000" stroke-width="0.15">0.00</text>
<text x="35.93" y="481.61" font-size="25" stroke="#000" stroke-width="0.15">0.63</text>
<text x="36.13" y="380.62" font-size="25" textLength="48.45" lengthAdjust="spacingAndGlyphs" stroke="#000" stroke-width="0.15">1.26</text>
<text x="36.13" y="279.63" font-size="25" textLength="48.52" lengthAdjust="spacingAndGlyphs" stroke="#000" stroke-width="0.15">1.89</text>
<text x="35.81" y="984.30" font-size="25" stroke="#000" stroke-width="0.15">0.00</text>
<text x="35.93" y="883.31" font-size="25" stroke="#000" stroke-width="0.15">0.63</text>
<text x="36.13" y="782.32" font-size="25" textLength="48.45" lengthAdjust="spacingAndGlyphs" stroke="#000" stroke-width="0.15">1.26</text>
<text x="36.13" y="681.33" font-size="25" textLength="48.52" lengthAdjust="spacingAndGlyphs" stroke="#000" stroke-width="0.15">1.89</text>
<text x="35.81" y="1385.30" font-size="25" stroke="#000" stroke-width="0.15">0.00</text>
<text x="35.93" y="1284.31" font-size="25" stroke="#000" stroke-width="0.15">0.63</text>
<text x="36.13" y="1183.32" font-size="25" textLength="48.45" lengthAdjust="spacingAndGlyphs" stroke="#000" stroke-width="0.15">1.26</text>
<text x="36.13" y="1082.33" font-size="25" textLength="48.52" lengthAdjust="spacingAndGlyphs" stroke="#000" stroke-width="0.15">1.89</text>
<text x="25.70" y="945.67" font-size="29" textLength="194.03" lengthAdjust="spacingAndGlyphs" transform="rotate(-90 25.70 945.67)" stroke="#000" stroke-width="0.15">ARSTAN Index</text>
<text x="164.02" y="1463.90" font-size="29" stroke="#000" stroke-width="0.15">1100</text>
<text x="276.68" y="1463.90" font-size="29" stroke="#000" stroke-width="0.15">1200</text>
<text x="389.35" y="1463.90" font-size="29" stroke="#000" stroke-width="0.15">1300</text>
<text x="502.02" y="1463.90" font-size="29" stroke="#000" stroke-width="0.15">1400</text>
<text x="614.68" y="1463.90" font-size="29" stroke="#000" stroke-width="0.15">1500</text>
<text x="727.35" y="1463.90" font-size="29" stroke="#000" stroke-width="0.15">1600</text>
<text x="840.02" y="1463.90" font-size="29" stroke="#000" stroke-width="0.15">1700</text>
<text x="374.61" y="1510.90" font-size="29" textLength="241.14" lengthAdjust="spacingAndGlyphs" stroke="#000" stroke-width="0.15">RY (Relative Year)</text>
<rect x="928.80" y="182.50" width="72.90" height="1108.90" fill="#fff" stroke="#222" stroke-width="1.3"/>
<text x="959.00" y="671.31" font-size="25" textLength="484.91" lengthAdjust="spacingAndGlyphs" transform="rotate(-90 959.00 671.31)" stroke="#000" stroke-width="0.15">≥3 consecutive years lowest 10th percentile</text>
<text x="991.40" y="671.31" font-size="25" textLength="484.91" lengthAdjust="spacingAndGlyphs" transform="rotate(-90 991.40 671.31)" stroke="#000" stroke-width="0.15">≥2 consecutive years lowest 20th percentile</text>
<text x="959.00" y="1225.12" font-size="25" textLength="471.29" lengthAdjust="spacingAndGlyphs" transform="rotate(-90 959.00 1225.12)" stroke="#000" stroke-width="0.15">≥2 consecutive years lowest 6.25% values</text>
<text x="991.40" y="1225.12" font-size="25" textLength="488.93" lengthAdjust="spacingAndGlyphs" transform="rotate(-90 991.40 1225.12)" stroke="#000" stroke-width="0.15">≥3 consecutive years lowest 20th percentile</text>
<line x1="941.90" y1="707.70" x2="958.90" y2="707.70" stroke="#e05a6a" stroke-width="1.0"/>
<line x1="950.40" y1="699.20" x2="950.40" y2="716.20" stroke="#e05a6a" stroke-width="1.0"/>
<line x1="973.80" y1="707.70" x2="990.80" y2="707.70" stroke="#d98a55" stroke-width="1.0"/>
<line x1="982.30" y1="699.20" x2="982.30" y2="716.20" stroke="#d98a55" stroke-width="1.0"/>
<line x1="941.50" y1="1259.20" x2="958.50" y2="1259.20" stroke="#c77fc0" stroke-width="1.0"/>
<line x1="950.00" y1="1250.70" x2="950.00" y2="1267.70" stroke="#c77fc0" stroke-width="1.0"/>
<line x1="973.70" y1="1259.20" x2="990.70" y2="1259.20" stroke="#9a3a3c" stroke-width="1.0"/>
<line x1="982.20" y1="1250.70" x2="982.20" y2="1267.70" stroke="#9a3a3c" stroke-width="1.0"/>
<rect x="1241.20" y="727.40" width="716.30" height="38.90" fill="#fbdac0" stroke="#6e5040" stroke-width="0.8"/>
<rect x="1241.20" y="766.30" width="716.30" height="46.20" fill="#f8c59e" stroke="#6e5040" stroke-width="0.8"/>
<rect x="1241.20" y="812.50" width="716.30" height="47.80" fill="#f6a766" stroke="#6e5040" stroke-width="0.8"/>
<rect x="1241.20" y="860.30" width="716.30" height="31.90" fill="#b15a28" stroke="#6e5040" stroke-width="0.8"/>
<line x1="1261.38" y1="996.60" x2="1261.38" y2="886.97" stroke="#662026" stroke-width="1.25"/>
<line x1="1291.65" y1="996.60" x2="1291.65" y2="873.91" stroke="#662026" stroke-width="1.25"/>
<line x1="1321.92" y1="996.60" x2="1321.92" y2="856.59" stroke="#662026" stroke-width="1.25"/>
<line x1="1392.55" y1="996.60" x2="1392.55" y2="803.35" stroke="#662026" stroke-width="1.25"/>
<line x1="1432.91" y1="996.60" x2="1432.91" y2="864.70" stroke="#662026" stroke-width="1.25"/>
<line x1="1493.45" y1="996.60" x2="1493.45" y2="728.78" stroke="#662026" stroke-width="1.25"/>
<line x1="1553.99" y1="996.60" x2="1553.99" y2="800.67" stroke="#662026" stroke-width="1.25"/>
<line x1="1604.44" y1="996.60" x2="1604.44" y2="743.00" stroke="#662026" stroke-width="1.25"/>
<line x1="1725.52" y1="996.60" x2="1725.52" y2="738.90" stroke="#662026" stroke-width="1.25"/>
<line x1="1786.06" y1="996.60" x2="1786.06" y2="748.28" stroke="#662026" stroke-width="1.25"/>
<line x1="1362.28" y1="996.60" x2="1362.28" y2="836.75" stroke="#662026" stroke-width="1.25"/>
<line x1="1483.36" y1="996.60" x2="1483.36" y2="704.84" stroke="#662026" stroke-width="1.25"/>
<line x1="1826.42" y1="996.60" x2="1826.42" y2="733.63" stroke="#662026" stroke-width="1.25"/>
<line x1="1836.51" y1="996.60" x2="1836.51" y2="748.28" stroke="#662026" stroke-width="1.25"/>
<polyline points="1251.3,548.5 1261.4,887.0 1271.5,862.6 1281.6,797.7 1291.7,873.9 1301.7,616.7 1311.8,649.3 1321.9,856.6 1332.0,766.6 1342.1,625.3 1352.2,747.1 1362.3,836.7 1372.4,771.8 1382.5,702.5 1392.5,803.4 1402.6,676.4 1412.7,687.3 1422.8,715.7 1432.9,864.7 1443.0,557.5 1453.1,491.1 1463.2,610.3 1473.3,661.3 1483.4,704.8 1493.5,728.8 1503.5,713.2 1513.6,641.4 1523.7,533.8 1533.8,653.8 1543.9,461.9 1554.0,800.7 1564.1,738.1 1574.2,622.7 1584.3,729.5 1594.3,813.9 1604.4,743.0 1614.5,688.7 1624.6,656.0 1634.7,646.3 1644.8,678.6 1654.9,671.0 1665.0,556.0 1675.1,765.5 1685.2,689.4 1695.2,538.7 1705.3,624.2 1715.4,636.2 1725.5,738.9 1735.6,577.3 1745.7,778.3 1755.8,677.0 1765.9,646.7 1776.0,677.8 1786.1,748.3 1796.2,701.0 1806.2,643.7 1816.3,655.3 1826.4,733.6 1836.5,748.3 1846.6,646.7 1856.7,624.2 1866.8,584.8 1876.9,689.8 1887.0,713.4 1897.1,778.3 1907.1,761.4 1917.2,660.2 1927.3,576.9 1937.4,729.9 1947.5,580.7" fill="none" stroke="#8a9ccb" stroke-width="1.0" stroke-linejoin="round"/>
<circle cx="1251.3" cy="548.5" r="4.3" fill="#344fa1"/>
<circle cx="1261.4" cy="887.0" r="4.3" fill="#344fa1"/>
<circle cx="1271.5" cy="862.6" r="4.3" fill="#344fa1"/>
<circle cx="1281.6" cy="797.7" r="4.3" fill="#344fa1"/>
<circle cx="1291.7" cy="873.9" r="4.3" fill="#344fa1"/>
<circle cx="1301.7" cy="616.7" r="4.3" fill="#344fa1"/>
<circle cx="1311.8" cy="649.3" r="4.3" fill="#344fa1"/>
<circle cx="1321.9" cy="856.6" r="4.3" fill="#344fa1"/>
<circle cx="1332.0" cy="766.6" r="4.3" fill="#344fa1"/>
<circle cx="1342.1" cy="625.3" r="4.3" fill="#344fa1"/>
<circle cx="1352.2" cy="747.1" r="4.3" fill="#344fa1"/>
<circle cx="1362.3" cy="836.7" r="4.3" fill="#344fa1"/>
<circle cx="1372.4" cy="771.8" r="4.3" fill="#344fa1"/>
<circle cx="1382.5" cy="702.5" r="4.3" fill="#344fa1"/>
<circle cx="1392.5" cy="803.4" r="4.3" fill="#344fa1"/>
<circle cx="1402.6" cy="676.4" r="4.3" fill="#344fa1"/>
<circle cx="1412.7" cy="687.3" r="4.3" fill="#344fa1"/>
<circle cx="1422.8" cy="715.7" r="4.3" fill="#344fa1"/>
<circle cx="1432.9" cy="864.7" r="4.3" fill="#344fa1"/>
<circle cx="1443.0" cy="557.5" r="4.3" fill="#344fa1"/>
<circle cx="1453.1" cy="491.1" r="4.3" fill="#344fa1"/>
<circle cx="1463.2" cy="610.3" r="4.3" fill="#344fa1"/>
<circle cx="1473.3" cy="661.3" r="4.3" fill="#344fa1"/>
<circle cx="1483.4" cy="704.8" r="4.3" fill="#344fa1"/>
<circle cx="1493.5" cy="728.8" r="4.3" fill="#344fa1"/>
<circle cx="1503.5" cy="713.2" r="4.3" fill="#344fa1"/>
<circle cx="1513.6" cy="641.4" r="4.3" fill="#344fa1"/>
<circle cx="1523.7" cy="533.8" r="4.3" fill="#344fa1"/>
<circle cx="1533.8" cy="653.8" r="4.3" fill="#344fa1"/>
<circle cx="1543.9" cy="461.9" r="4.3" fill="#344fa1"/>
<circle cx="1554.0" cy="800.7" r="4.3" fill="#344fa1"/>
<circle cx="1564.1" cy="738.1" r="4.3" fill="#344fa1"/>
<circle cx="1574.2" cy="622.7" r="4.3" fill="#344fa1"/>
<circle cx="1584.3" cy="729.5" r="4.3" fill="#344fa1"/>
<circle cx="1594.3" cy="813.9" r="4.3" fill="#344fa1"/>
<circle cx="1604.4" cy="743.0" r="4.3" fill="#344fa1"/>
<circle cx="1614.5" cy="688.7" r="4.3" fill="#344fa1"/>
<circle cx="1624.6" cy="656.0" r="4.3" fill="#344fa1"/>
<circle cx="1634.7" cy="646.3" r="4.3" fill="#344fa1"/>
<circle cx="1644.8" cy="678.6" r="4.3" fill="#344fa1"/>
<circle cx="1654.9" cy="671.0" r="4.3" fill="#344fa1"/>
<circle cx="1665.0" cy="556.0" r="4.3" fill="#344fa1"/>
<circle cx="1675.1" cy="765.5" r="4.3" fill="#344fa1"/>
<circle cx="1685.2" cy="689.4" r="4.3" fill="#344fa1"/>
<circle cx="1695.2" cy="538.7" r="4.3" fill="#344fa1"/>
<circle cx="1705.3" cy="624.2" r="4.3" fill="#344fa1"/>
<circle cx="1715.4" cy="636.2" r="4.3" fill="#344fa1"/>
<circle cx="1725.5" cy="738.9" r="4.3" fill="#344fa1"/>
<circle cx="1735.6" cy="577.3" r="4.3" fill="#344fa1"/>
<circle cx="1745.7" cy="778.3" r="4.3" fill="#344fa1"/>
<circle cx="1755.8" cy="677.0" r="4.3" fill="#344fa1"/>
<circle cx="1765.9" cy="646.7" r="4.3" fill="#344fa1"/>
<circle cx="1776.0" cy="677.8" r="4.3" fill="#344fa1"/>
<circle cx="1786.1" cy="748.3" r="4.3" fill="#344fa1"/>
<circle cx="1796.2" cy="701.0" r="4.3" fill="#344fa1"/>
<circle cx="1806.2" cy="643.7" r="4.3" fill="#344fa1"/>
<circle cx="1816.3" cy="655.3" r="4.3" fill="#344fa1"/>
<circle cx="1826.4" cy="733.6" r="4.3" fill="#344fa1"/>
<circle cx="1836.5" cy="748.3" r="4.3" fill="#344fa1"/>
<circle cx="1846.6" cy="646.7" r="4.3" fill="#344fa1"/>
<circle cx="1856.7" cy="624.2" r="4.3" fill="#344fa1"/>
<circle cx="1866.8" cy="584.8" r="4.3" fill="#344fa1"/>
<circle cx="1876.9" cy="689.8" r="4.3" fill="#344fa1"/>
<circle cx="1887.0" cy="713.4" r="4.3" fill="#344fa1"/>
<circle cx="1897.1" cy="778.3" r="4.3" fill="#344fa1"/>
<circle cx="1907.1" cy="761.4" r="4.3" fill="#344fa1"/>
<circle cx="1917.2" cy="660.2" r="4.3" fill="#344fa1"/>
<circle cx="1927.3" cy="576.9" r="4.3" fill="#344fa1"/>
<circle cx="1937.4" cy="729.9" r="4.3" fill="#344fa1"/>
<circle cx="1947.5" cy="580.7" r="4.3" fill="#344fa1"/>
<polygon points="1261.38,947.30 1263.43,952.78 1269.27,953.04 1264.70,956.68 1266.26,962.31 1261.38,959.09 1256.50,962.31 1258.06,956.68 1253.49,953.04 1259.33,952.78" fill="#b14aa2"/>
<polygon points="1291.65,947.30 1293.70,952.78 1299.54,953.04 1294.97,956.68 1296.53,962.31 1291.65,959.09 1286.77,962.31 1288.33,956.68 1283.76,953.04 1289.60,952.78" fill="#b14aa2"/>
<polygon points="1321.92,947.30 1323.97,952.78 1329.81,953.04 1325.24,956.68 1326.80,962.31 1321.92,959.09 1317.04,962.31 1318.60,956.68 1314.03,953.04 1319.87,952.78" fill="#b14aa2"/>
<polygon points="1392.55,947.30 1394.60,952.78 1400.44,953.04 1395.87,956.68 1397.43,962.31 1392.55,959.09 1387.67,962.31 1389.23,956.68 1384.66,953.04 1390.50,952.78" fill="#b14aa2"/>
<polygon points="1432.91,947.30 1434.96,952.78 1440.80,953.04 1436.23,956.68 1437.79,962.31 1432.91,959.09 1428.03,962.31 1429.59,956.68 1425.02,953.04 1430.86,952.78" fill="#b14aa2"/>
<polygon points="1493.45,947.30 1495.50,952.78 1501.34,953.04 1496.77,956.68 1498.33,962.31 1493.45,959.09 1488.57,962.31 1490.13,956.68 1485.56,953.04 1491.40,952.78" fill="#b14aa2"/>
<polygon points="1553.99,947.30 1556.04,952.78 1561.88,953.04 1557.31,956.68 1558.87,962.31 1553.99,959.09 1549.11,962.31 1550.67,956.68 1546.10,953.04 1551.94,952.78" fill="#b14aa2"/>
<polygon points="1604.44,947.30 1606.49,952.78 1612.33,953.04 1607.76,956.68 1609.32,962.31 1604.44,959.09 1599.56,962.31 1601.12,956.68 1596.55,953.04 1602.39,952.78" fill="#b14aa2"/>
<polygon points="1725.52,947.30 1727.57,952.78 1733.41,953.04 1728.84,956.68 1730.40,962.31 1725.52,959.09 1720.64,962.31 1722.20,956.68 1717.63,953.04 1723.47,952.78" fill="#b14aa2"/>
<polygon points="1786.06,947.30 1788.11,952.78 1793.95,953.04 1789.38,956.68 1790.94,962.31 1786.06,959.09 1781.18,962.31 1782.74,956.68 1778.17,953.04 1784.01,952.78" fill="#b14aa2"/>
<polygon points="1362.28,905.70 1364.18,910.78 1369.60,911.02 1365.36,914.40 1366.81,919.63 1362.28,916.63 1357.75,919.63 1359.20,914.40 1354.96,911.02 1360.38,910.78" fill="#fff" stroke="#b14aa2" stroke-width="1.1" stroke-linejoin="miter"/>
<polygon points="1483.36,905.70 1485.26,910.78 1490.68,911.02 1486.44,914.40 1487.89,919.63 1483.36,916.63 1478.83,919.63 1480.28,914.40 1476.04,911.02 1481.46,910.78" fill="#fff" stroke="#b14aa2" stroke-width="1.1" stroke-linejoin="miter"/>
<polygon points="1826.42,905.70 1828.32,910.78 1833.74,911.02 1829.50,914.40 1830.95,919.63 1826.42,916.63 1821.89,919.63 1823.34,914.40 1819.10,911.02 1824.52,910.78" fill="#fff" stroke="#b14aa2" stroke-width="1.1" stroke-linejoin="miter"/>
<polygon points="1836.51,905.70 1838.41,910.78 1843.83,911.02 1839.59,914.40 1841.04,919.63 1836.51,916.63 1831.98,919.63 1833.43,914.40 1829.19,911.02 1834.61,910.78" fill="#fff" stroke="#b14aa2" stroke-width="1.1" stroke-linejoin="miter"/>
<line x1="1241.20" y1="419.00" x2="1241.20" y2="997.80" stroke="#000" stroke-width="2.4"/>
<line x1="1240.00" y1="996.60" x2="1958.10" y2="996.60" stroke="#000" stroke-width="2.5"/>
<line x1="1235.20" y1="988.58" x2="1241.20" y2="988.58" stroke="#000" stroke-width="2.0"/>
<line x1="1235.20" y1="980.21" x2="1241.20" y2="980.21" stroke="#000" stroke-width="2.0"/>
<line x1="1235.20" y1="971.84" x2="1241.20" y2="971.84" stroke="#000" stroke-width="2.0"/>
<line x1="1235.20" y1="963.47" x2="1241.20" y2="963.47" stroke="#000" stroke-width="2.0"/>
<line x1="1230.00" y1="955.10" x2="1241.20" y2="955.10" stroke="#000" stroke-width="2.2"/>
<line x1="1235.20" y1="946.73" x2="1241.20" y2="946.73" stroke="#000" stroke-width="2.0"/>
<line x1="1235.20" y1="938.36" x2="1241.20" y2="938.36" stroke="#000" stroke-width="2.0"/>
<line x1="1235.20" y1="929.99" x2="1241.20" y2="929.99" stroke="#000" stroke-width="2.0"/>
<line x1="1235.20" y1="921.62" x2="1241.20" y2="921.62" stroke="#000" stroke-width="2.0"/>
<line x1="1235.20" y1="913.25" x2="1241.20" y2="913.25" stroke="#000" stroke-width="2.0"/>
<line x1="1235.20" y1="904.88" x2="1241.20" y2="904.88" stroke="#000" stroke-width="2.0"/>
<line x1="1235.20" y1="896.51" x2="1241.20" y2="896.51" stroke="#000" stroke-width="2.0"/>
<line x1="1235.20" y1="888.14" x2="1241.20" y2="888.14" stroke="#000" stroke-width="2.0"/>
<line x1="1235.20" y1="879.77" x2="1241.20" y2="879.77" stroke="#000" stroke-width="2.0"/>
<line x1="1230.00" y1="871.40" x2="1241.20" y2="871.40" stroke="#000" stroke-width="2.2"/>
<line x1="1235.20" y1="863.03" x2="1241.20" y2="863.03" stroke="#000" stroke-width="2.0"/>
<line x1="1235.20" y1="854.66" x2="1241.20" y2="854.66" stroke="#000" stroke-width="2.0"/>
<line x1="1235.20" y1="846.29" x2="1241.20" y2="846.29" stroke="#000" stroke-width="2.0"/>
<line x1="1235.20" y1="837.92" x2="1241.20" y2="837.92" stroke="#000" stroke-width="2.0"/>
<line x1="1235.20" y1="829.55" x2="1241.20" y2="829.55" stroke="#000" stroke-width="2.0"/>
<line x1="1235.20" y1="821.18" x2="1241.20" y2="821.18" stroke="#000" stroke-width="2.0"/>
<line x1="1235.20" y1="812.81" x2="1241.20" y2="812.81" stroke="#000" stroke-width="2.0"/>
<line x1="1235.20" y1="804.44" x2="1241.20" y2="804.44" stroke="#000" stroke-width="2.0"/>
<line x1="1235.20" y1="796.07" x2="1241.20" y2="796.07" stroke="#000" stroke-width="2.0"/>
<line x1="1230.00" y1="787.70" x2="1241.20" y2="787.70" stroke="#000" stroke-width="2.2"/>
<line x1="1235.20" y1="779.33" x2="1241.20" y2="779.33" stroke="#000" stroke-width="2.0"/>
<line x1="1235.20" y1="770.96" x2="1241.20" y2="770.96" stroke="#000" stroke-width="2.0"/>
<line x1="1235.20" y1="762.59" x2="1241.20" y2="762.59" stroke="#000" stroke-width="2.0"/>
<line x1="1235.20" y1="754.22" x2="1241.20" y2="754.22" stroke="#000" stroke-width="2.0"/>
<line x1="1235.20" y1="745.85" x2="1241.20" y2="745.85" stroke="#000" stroke-width="2.0"/>
<line x1="1235.20" y1="737.48" x2="1241.20" y2="737.48" stroke="#000" stroke-width="2.0"/>
<line x1="1235.20" y1="729.11" x2="1241.20" y2="729.11" stroke="#000" stroke-width="2.0"/>
<line x1="1235.20" y1="720.74" x2="1241.20" y2="720.74" stroke="#000" stroke-width="2.0"/>
<line x1="1235.20" y1="712.37" x2="1241.20" y2="712.37" stroke="#000" stroke-width="2.0"/>
<line x1="1230.00" y1="704.00" x2="1241.20" y2="704.00" stroke="#000" stroke-width="2.2"/>
<line x1="1235.20" y1="695.63" x2="1241.20" y2="695.63" stroke="#000" stroke-width="2.0"/>
<line x1="1235.20" y1="687.26" x2="1241.20" y2="687.26" stroke="#000" stroke-width="2.0"/>
<line x1="1235.20" y1="678.89" x2="1241.20" y2="678.89" stroke="#000" stroke-width="2.0"/>
<line x1="1235.20" y1="670.52" x2="1241.20" y2="670.52" stroke="#000" stroke-width="2.0"/>
<line x1="1235.20" y1="662.15" x2="1241.20" y2="662.15" stroke="#000" stroke-width="2.0"/>
<line x1="1235.20" y1="653.78" x2="1241.20" y2="653.78" stroke="#000" stroke-width="2.0"/>
<line x1="1235.20" y1="645.41" x2="1241.20" y2="645.41" stroke="#000" stroke-width="2.0"/>
<line x1="1235.20" y1="637.04" x2="1241.20" y2="637.04" stroke="#000" stroke-width="2.0"/>
<line x1="1235.20" y1="628.67" x2="1241.20" y2="628.67" stroke="#000" stroke-width="2.0"/>
<line x1="1230.00" y1="620.30" x2="1241.20" y2="620.30" stroke="#000" stroke-width="2.2"/>
<line x1="1235.20" y1="611.93" x2="1241.20" y2="611.93" stroke="#000" stroke-width="2.0"/>
<line x1="1235.20" y1="603.56" x2="1241.20" y2="603.56" stroke="#000" stroke-width="2.0"/>
<line x1="1235.20" y1="595.19" x2="1241.20" y2="595.19" stroke="#000" stroke-width="2.0"/>
<line x1="1235.20" y1="586.82" x2="1241.20" y2="586.82" stroke="#000" stroke-width="2.0"/>
<line x1="1235.20" y1="578.45" x2="1241.20" y2="578.45" stroke="#000" stroke-width="2.0"/>
<line x1="1235.20" y1="570.08" x2="1241.20" y2="570.08" stroke="#000" stroke-width="2.0"/>
<line x1="1235.20" y1="561.71" x2="1241.20" y2="561.71" stroke="#000" stroke-width="2.0"/>
<line x1="1235.20" y1="553.34" x2="1241.20" y2="553.34" stroke="#000" stroke-width="2.0"/>
<line x1="1235.20" y1="544.97" x2="1241.20" y2="544.97" stroke="#000" stroke-width="2.0"/>
<line x1="1230.00" y1="536.60" x2="1241.20" y2="536.60" stroke="#000" stroke-width="2.2"/>
<line x1="1235.20" y1="528.23" x2="1241.20" y2="528.23" stroke="#000" stroke-width="2.0"/>
<line x1="1235.20" y1="519.86" x2="1241.20" y2="519.86" stroke="#000" stroke-width="2.0"/>
<line x1="1235.20" y1="511.49" x2="1241.20" y2="511.49" stroke="#000" stroke-width="2.0"/>
<line x1="1235.20" y1="503.12" x2="1241.20" y2="503.12" stroke="#000" stroke-width="2.0"/>
<line x1="1235.20" y1="494.75" x2="1241.20" y2="494.75" stroke="#000" stroke-width="2.0"/>
<line x1="1235.20" y1="486.38" x2="1241.20" y2="486.38" stroke="#000" stroke-width="2.0"/>
<line x1="1235.20" y1="478.01" x2="1241.20" y2="478.01" stroke="#000" stroke-width="2.0"/>
<line x1="1235.20" y1="469.64" x2="1241.20" y2="469.64" stroke="#000" stroke-width="2.0"/>
<line x1="1235.20" y1="461.27" x2="1241.20" y2="461.27" stroke="#000" stroke-width="2.0"/>
<line x1="1230.00" y1="452.90" x2="1241.20" y2="452.90" stroke="#000" stroke-width="2.2"/>
<line x1="1235.20" y1="444.53" x2="1241.20" y2="444.53" stroke="#000" stroke-width="2.0"/>
<line x1="1235.20" y1="436.16" x2="1241.20" y2="436.16" stroke="#000" stroke-width="2.0"/>
<line x1="1235.20" y1="427.79" x2="1241.20" y2="427.79" stroke="#000" stroke-width="2.0"/>
<line x1="1235.20" y1="419.42" x2="1241.20" y2="419.42" stroke="#000" stroke-width="2.0"/>
<line x1="1241.20" y1="996.60" x2="1241.20" y2="1007.60" stroke="#000" stroke-width="2.3"/>
<line x1="1251.29" y1="996.60" x2="1251.29" y2="1002.40" stroke="#000" stroke-width="2.1"/>
<line x1="1261.38" y1="996.60" x2="1261.38" y2="1002.40" stroke="#000" stroke-width="2.1"/>
<line x1="1271.47" y1="996.60" x2="1271.47" y2="1002.40" stroke="#000" stroke-width="2.1"/>
<line x1="1281.56" y1="996.60" x2="1281.56" y2="1002.40" stroke="#000" stroke-width="2.1"/>
<line x1="1291.65" y1="996.60" x2="1291.65" y2="1002.40" stroke="#000" stroke-width="2.1"/>
<line x1="1301.74" y1="996.60" x2="1301.74" y2="1002.40" stroke="#000" stroke-width="2.1"/>
<line x1="1311.83" y1="996.60" x2="1311.83" y2="1002.40" stroke="#000" stroke-width="2.1"/>
<line x1="1321.92" y1="996.60" x2="1321.92" y2="1002.40" stroke="#000" stroke-width="2.1"/>
<line x1="1332.01" y1="996.60" x2="1332.01" y2="1002.40" stroke="#000" stroke-width="2.1"/>
<line x1="1342.10" y1="996.60" x2="1342.10" y2="1007.60" stroke="#000" stroke-width="2.3"/>
<line x1="1352.19" y1="996.60" x2="1352.19" y2="1002.40" stroke="#000" stroke-width="2.1"/>
<line x1="1362.28" y1="996.60" x2="1362.28" y2="1002.40" stroke="#000" stroke-width="2.1"/>
<line x1="1372.37" y1="996.60" x2="1372.37" y2="1002.40" stroke="#000" stroke-width="2.1"/>
<line x1="1382.46" y1="996.60" x2="1382.46" y2="1002.40" stroke="#000" stroke-width="2.1"/>
<line x1="1392.55" y1="996.60" x2="1392.55" y2="1002.40" stroke="#000" stroke-width="2.1"/>
<line x1="1402.64" y1="996.60" x2="1402.64" y2="1002.40" stroke="#000" stroke-width="2.1"/>
<line x1="1412.73" y1="996.60" x2="1412.73" y2="1002.40" stroke="#000" stroke-width="2.1"/>
<line x1="1422.82" y1="996.60" x2="1422.82" y2="1002.40" stroke="#000" stroke-width="2.1"/>
<line x1="1432.91" y1="996.60" x2="1432.91" y2="1002.40" stroke="#000" stroke-width="2.1"/>
<line x1="1443.00" y1="996.60" x2="1443.00" y2="1007.60" stroke="#000" stroke-width="2.3"/>
<line x1="1453.09" y1="996.60" x2="1453.09" y2="1002.40" stroke="#000" stroke-width="2.1"/>
<line x1="1463.18" y1="996.60" x2="1463.18" y2="1002.40" stroke="#000" stroke-width="2.1"/>
<line x1="1473.27" y1="996.60" x2="1473.27" y2="1002.40" stroke="#000" stroke-width="2.1"/>
<line x1="1483.36" y1="996.60" x2="1483.36" y2="1002.40" stroke="#000" stroke-width="2.1"/>
<line x1="1493.45" y1="996.60" x2="1493.45" y2="1002.40" stroke="#000" stroke-width="2.1"/>
<line x1="1503.54" y1="996.60" x2="1503.54" y2="1002.40" stroke="#000" stroke-width="2.1"/>
<line x1="1513.63" y1="996.60" x2="1513.63" y2="1002.40" stroke="#000" stroke-width="2.1"/>
<line x1="1523.72" y1="996.60" x2="1523.72" y2="1002.40" stroke="#000" stroke-width="2.1"/>
<line x1="1533.81" y1="996.60" x2="1533.81" y2="1002.40" stroke="#000" stroke-width="2.1"/>
<line x1="1543.90" y1="996.60" x2="1543.90" y2="1007.60" stroke="#000" stroke-width="2.3"/>
<line x1="1553.99" y1="996.60" x2="1553.99" y2="1002.40" stroke="#000" stroke-width="2.1"/>
<line x1="1564.08" y1="996.60" x2="1564.08" y2="1002.40" stroke="#000" stroke-width="2.1"/>
<line x1="1574.17" y1="996.60" x2="1574.17" y2="1002.40" stroke="#000" stroke-width="2.1"/>
<line x1="1584.26" y1="996.60" x2="1584.26" y2="1002.40" stroke="#000" stroke-width="2.1"/>
<line x1="1594.35" y1="996.60" x2="1594.35" y2="1002.40" stroke="#000" stroke-width="2.1"/>
<line x1="1604.44" y1="996.60" x2="1604.44" y2="1002.40" stroke="#000" stroke-width="2.1"/>
<line x1="1614.53" y1="996.60" x2="1614.53" y2="1002.40" stroke="#000" stroke-width="2.1"/>
<line x1="1624.62" y1="996.60" x2="1624.62" y2="1002.40" stroke="#000" stroke-width="2.1"/>
<line x1="1634.71" y1="996.60" x2="1634.71" y2="1002.40" stroke="#000" stroke-width="2.1"/>
<line x1="1644.80" y1="996.60" x2="1644.80" y2="1007.60" stroke="#000" stroke-width="2.3"/>
<line x1="1654.89" y1="996.60" x2="1654.89" y2="1002.40" stroke="#000" stroke-width="2.1"/>
<line x1="1664.98" y1="996.60" x2="1664.98" y2="1002.40" stroke="#000" stroke-width="2.1"/>
<line x1="1675.07" y1="996.60" x2="1675.07" y2="1002.40" stroke="#000" stroke-width="2.1"/>
<line x1="1685.16" y1="996.60" x2="1685.16" y2="1002.40" stroke="#000" stroke-width="2.1"/>
<line x1="1695.25" y1="996.60" x2="1695.25" y2="1002.40" stroke="#000" stroke-width="2.1"/>
<line x1="1705.34" y1="996.60" x2="1705.34" y2="1002.40" stroke="#000" stroke-width="2.1"/>
<line x1="1715.43" y1="996.60" x2="1715.43" y2="1002.40" stroke="#000" stroke-width="2.1"/>
<line x1="1725.52" y1="996.60" x2="1725.52" y2="1002.40" stroke="#000" stroke-width="2.1"/>
<line x1="1735.61" y1="996.60" x2="1735.61" y2="1002.40" stroke="#000" stroke-width="2.1"/>
<line x1="1745.70" y1="996.60" x2="1745.70" y2="1007.60" stroke="#000" stroke-width="2.3"/>
<line x1="1755.79" y1="996.60" x2="1755.79" y2="1002.40" stroke="#000" stroke-width="2.1"/>
<line x1="1765.88" y1="996.60" x2="1765.88" y2="1002.40" stroke="#000" stroke-width="2.1"/>
<line x1="1775.97" y1="996.60" x2="1775.97" y2="1002.40" stroke="#000" stroke-width="2.1"/>
<line x1="1786.06" y1="996.60" x2="1786.06" y2="1002.40" stroke="#000" stroke-width="2.1"/>
<line x1="1796.15" y1="996.60" x2="1796.15" y2="1002.40" stroke="#000" stroke-width="2.1"/>
<line x1="1806.24" y1="996.60" x2="1806.24" y2="1002.40" stroke="#000" stroke-width="2.1"/>
<line x1="1816.33" y1="996.60" x2="1816.33" y2="1002.40" stroke="#000" stroke-width="2.1"/>
<line x1="1826.42" y1="996.60" x2="1826.42" y2="1002.40" stroke="#000" stroke-width="2.1"/>
<line x1="1836.51" y1="996.60" x2="1836.51" y2="1002.40" stroke="#000" stroke-width="2.1"/>
<line x1="1846.60" y1="996.60" x2="1846.60" y2="1007.60" stroke="#000" stroke-width="2.3"/>
<line x1="1856.69" y1="996.60" x2="1856.69" y2="1002.40" stroke="#000" stroke-width="2.1"/>
<line x1="1866.78" y1="996.60" x2="1866.78" y2="1002.40" stroke="#000" stroke-width="2.1"/>
<line x1="1876.87" y1="996.60" x2="1876.87" y2="1002.40" stroke="#000" stroke-width="2.1"/>
<line x1="1886.96" y1="996.60" x2="1886.96" y2="1002.40" stroke="#000" stroke-width="2.1"/>
<line x1="1897.05" y1="996.60" x2="1897.05" y2="1002.40" stroke="#000" stroke-width="2.1"/>
<line x1="1907.14" y1="996.60" x2="1907.14" y2="1002.40" stroke="#000" stroke-width="2.1"/>
<line x1="1917.23" y1="996.60" x2="1917.23" y2="1002.40" stroke="#000" stroke-width="2.1"/>
<line x1="1927.32" y1="996.60" x2="1927.32" y2="1002.40" stroke="#000" stroke-width="2.1"/>
<line x1="1937.41" y1="996.60" x2="1937.41" y2="1002.40" stroke="#000" stroke-width="2.1"/>
<line x1="1947.50" y1="996.60" x2="1947.50" y2="1007.60" stroke="#000" stroke-width="2.3"/>
<line x1="1957.59" y1="996.60" x2="1957.59" y2="1002.40" stroke="#000" stroke-width="2.1"/>
<text x="1182.47" y="963.50" font-size="29" stroke="#000" stroke-width="0.15">0.7</text>
<text x="1182.25" y="879.80" font-size="29" stroke="#000" stroke-width="0.15">0.8</text>
<text x="1182.32" y="796.10" font-size="29" stroke="#000" stroke-width="0.15">0.9</text>
<text x="1182.11" y="712.40" font-size="29" stroke="#000" stroke-width="0.15">1.0</text>
<text x="1182.40" y="628.70" font-size="29" stroke="#000" stroke-width="0.15">1.1</text>
<text x="1182.47" y="545.00" font-size="29" stroke="#000" stroke-width="0.15">1.2</text>
<text x="1182.25" y="461.30" font-size="29" stroke="#000" stroke-width="0.15">1.3</text>
<text x="1209.02" y="1037.50" font-size="29" stroke="#000" stroke-width="0.15">1930</text>
<text x="1309.92" y="1037.50" font-size="29" stroke="#000" stroke-width="0.15">1940</text>
<text x="1410.82" y="1037.50" font-size="29" stroke="#000" stroke-width="0.15">1950</text>
<text x="1511.72" y="1037.50" font-size="29" stroke="#000" stroke-width="0.15">1960</text>
<text x="1612.62" y="1037.50" font-size="29" stroke="#000" stroke-width="0.15">1970</text>
<text x="1713.52" y="1037.50" font-size="29" stroke="#000" stroke-width="0.15">1980</text>
<text x="1814.42" y="1037.50" font-size="29" stroke="#000" stroke-width="0.15">1990</text>
<text x="1915.68" y="1037.50" font-size="29" stroke="#000" stroke-width="0.15">2000</text>
<text x="1537.55" y="1084.70" font-size="29" textLength="123.31" lengthAdjust="spacingAndGlyphs" stroke="#000" stroke-width="0.15">Years AD</text>
<text x="1159.70" y="834.67" font-size="29" textLength="252.73" lengthAdjust="spacingAndGlyphs" transform="rotate(-90 1159.70 834.67)" stroke="#000" stroke-width="0.15">ARSTAN rt-gt value</text>
<text x="1229.08" y="302.40" font-size="29.5" stroke="#000" stroke-width="0.15" font-weight="bold">b</text>
<text x="1954.22" y="667.00" font-size="25" textLength="128.59" lengthAdjust="spacingAndGlyphs" stroke="#000" stroke-width="0.15">lowest ARS</text>
<text x="1955.84" y="697.40" font-size="25" stroke="#000" stroke-width="0.15">values %</text>
<text x="1969.77" y="755.80" font-size="25" textLength="70.69" lengthAdjust="spacingAndGlyphs" stroke="#000" stroke-width="0.15">37.1%</text>
<text x="1969.45" y="803.20" font-size="25" stroke="#000" stroke-width="0.15">20%</text>
<text x="1968.83" y="848.00" font-size="25" stroke="#000" stroke-width="0.15">10%</text>
<text x="1969.45" y="884.20" font-size="25" stroke="#000" stroke-width="0.15">6.25%</text>
<rect x="1740.20" y="331.60" width="343.60" height="198.40" fill="#fff" stroke="#7d7d85" stroke-width="1.1"/>
<line x1="1743.80" y1="349.20" x2="1799.70" y2="349.20" stroke="#8a9ccb" stroke-width="1.0"/>
<circle cx="1772" cy="349.2" r="4.3" fill="#344fa1"/>
<polygon points="1772.00,377.30 1774.05,382.78 1779.89,383.04 1775.32,386.68 1776.88,392.31 1772.00,389.09 1767.12,392.31 1768.68,386.68 1764.11,383.04 1769.95,382.78" fill="#b14aa2"/>
<polygon points="1772.00,473.10 1773.90,478.18 1779.32,478.42 1775.08,481.80 1776.53,487.03 1772.00,484.03 1767.47,487.03 1768.92,481.80 1764.68,478.42 1770.10,478.18" fill="#fff" stroke="#b14aa2" stroke-width="1.1" stroke-linejoin="miter"/>
<text x="1807.54" y="357.70" font-size="25" textLength="118.56" lengthAdjust="spacingAndGlyphs" stroke="#000" stroke-width="0.15">ARS value</text>
<text x="1806.52" y="393.80" font-size="25" textLength="253.35" lengthAdjust="spacingAndGlyphs" stroke="#000" stroke-width="0.15">observed data ≤30mm</text>
<text x="1804.49" y="425.80" font-size="25" textLength="257.34" lengthAdjust="spacingAndGlyphs" stroke="#000" stroke-width="0.15">May-June precipitation</text>
<text x="1806.02" y="457.40" font-size="25" textLength="275.51" lengthAdjust="spacingAndGlyphs" stroke="#000" stroke-width="0.15">(lowest 14.3% of values)</text>
<text x="1806.13" y="488.90" font-size="25" textLength="257.93" lengthAdjust="spacingAndGlyphs" stroke="#000" stroke-width="0.15">Remainder lowest 20%</text>
<text x="1805.52" y="519.90" font-size="25" textLength="184.46" lengthAdjust="spacingAndGlyphs" stroke="#000" stroke-width="0.15">observed values</text>
</svg>
</body></html>
